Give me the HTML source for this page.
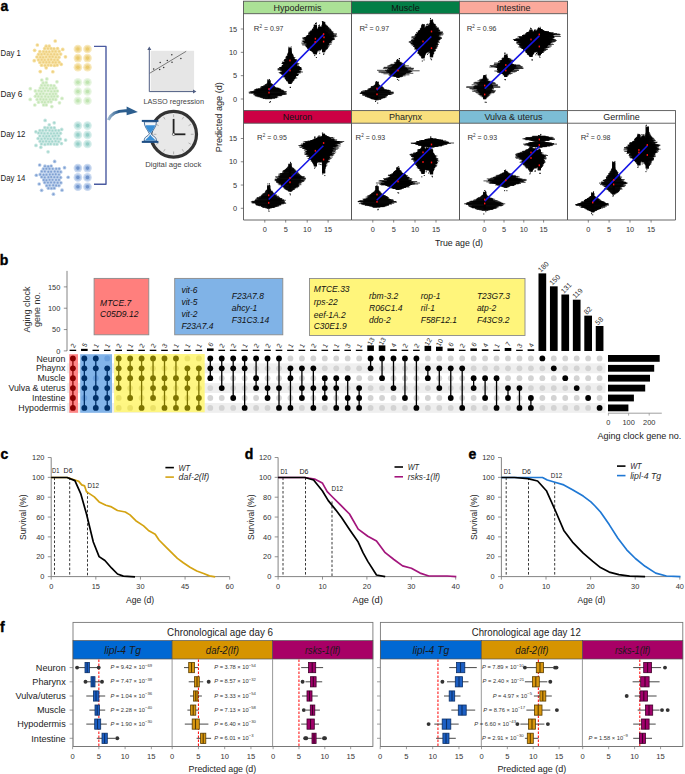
<!DOCTYPE html>
<html><head><meta charset="utf-8"><title>Figure</title>
<style>
html,body{margin:0;padding:0;background:#fff;}
body{width:685px;height:774px;overflow:hidden;}
svg{display:block;font-family:"Liberation Sans",sans-serif;}
</style></head><body>
<svg width="685" height="774" viewBox="0 0 685 774">
<rect x="0" y="0" width="685" height="774" fill="#fff"/>
<text x="0.4" y="11.2" font-size="14" fill="#000" font-weight="bold" stroke="#000" stroke-width="0.4">a</text>
<text x="0.6" y="56" font-size="8.6" fill="#222" textLength="20.2" lengthAdjust="spacingAndGlyphs">Day 1</text>
<text x="0.6" y="97.4" font-size="8.6" fill="#222" textLength="21.8" lengthAdjust="spacingAndGlyphs">Day 6</text>
<text x="0.6" y="137.3" font-size="8.6" fill="#222" textLength="24.8" lengthAdjust="spacingAndGlyphs">Day 12</text>
<text x="0.6" y="180.6" font-size="8.6" fill="#222" textLength="24.8" lengthAdjust="spacingAndGlyphs">Day 14</text>
<g fill="#f6e1a2"><circle cx="46.14" cy="46.13" r="1.85"/><circle cx="49.24" cy="46.06" r="1.85"/><circle cx="44.69" cy="48.51" r="1.85"/><circle cx="47.93" cy="48.5" r="1.85"/><circle cx="51.04" cy="48.52" r="1.85"/><circle cx="53.98" cy="48.73" r="1.85"/><circle cx="57.57" cy="48.55" r="1.85"/><circle cx="39.88" cy="51.6" r="1.85"/><circle cx="43.47" cy="51.57" r="1.85"/><circle cx="46.29" cy="51.8" r="1.85"/><circle cx="49.23" cy="51.73" r="1.85"/><circle cx="52.52" cy="51.31" r="1.85"/><circle cx="55.57" cy="51.4" r="1.85"/><circle cx="59.14" cy="51.33" r="1.85"/><circle cx="38.52" cy="54.34" r="1.85"/><circle cx="41.55" cy="54.29" r="1.85"/><circle cx="44.51" cy="54" r="1.85"/><circle cx="47.75" cy="54.37" r="1.85"/><circle cx="51.03" cy="54.15" r="1.85"/><circle cx="54.28" cy="54.23" r="1.85"/><circle cx="57.25" cy="54.44" r="1.85"/><circle cx="60.64" cy="54.11" r="1.85"/><circle cx="36.94" cy="57.02" r="1.85"/><circle cx="40.28" cy="57.14" r="1.85"/><circle cx="43.07" cy="57.29" r="1.85"/><circle cx="46.12" cy="56.95" r="1.85"/><circle cx="49.65" cy="56.79" r="1.85"/><circle cx="52.64" cy="56.72" r="1.85"/><circle cx="55.9" cy="57.16" r="1.85"/><circle cx="58.99" cy="57.23" r="1.85"/><circle cx="38.36" cy="59.86" r="1.85"/><circle cx="41.68" cy="59.79" r="1.85"/><circle cx="44.75" cy="59.94" r="1.85"/><circle cx="48.19" cy="59.72" r="1.85"/><circle cx="51.17" cy="59.48" r="1.85"/><circle cx="54.35" cy="59.83" r="1.85"/><circle cx="57.67" cy="59.93" r="1.85"/><circle cx="39.92" cy="62.41" r="1.85"/><circle cx="43.3" cy="62.19" r="1.85"/><circle cx="46.33" cy="62.28" r="1.85"/><circle cx="49.27" cy="62.22" r="1.85"/><circle cx="52.81" cy="62.26" r="1.85"/><circle cx="55.65" cy="62.42" r="1.85"/><circle cx="59.17" cy="62.23" r="1.85"/><circle cx="41.59" cy="65.25" r="1.85"/><circle cx="45.01" cy="65.41" r="1.85"/><circle cx="48.14" cy="65.09" r="1.85"/><circle cx="51.02" cy="65.14" r="1.85"/><circle cx="54.46" cy="65.5" r="1.85"/><circle cx="57.17" cy="65.03" r="1.85"/><circle cx="46.19" cy="67.8" r="1.85"/><circle cx="65.45" cy="56.86" r="1.85"/><circle cx="61.22" cy="64.28" r="1.85"/><circle cx="52.85" cy="71.76" r="1.85"/><circle cx="40.26" cy="71.62" r="1.85"/><circle cx="34.25" cy="60.65" r="1.85"/><circle cx="34.64" cy="50.37" r="1.85"/><circle cx="37.34" cy="44.98" r="1.85"/><circle cx="55.21" cy="40.98" r="1.85"/><circle cx="62.72" cy="49.44" r="1.85"/></g>
<g fill="#eecf80"><circle cx="46.14" cy="46.13" r="0.93"/><circle cx="49.24" cy="46.06" r="0.93"/><circle cx="44.69" cy="48.51" r="0.93"/><circle cx="47.93" cy="48.5" r="0.93"/><circle cx="51.04" cy="48.52" r="0.93"/><circle cx="53.98" cy="48.73" r="0.93"/><circle cx="57.57" cy="48.55" r="0.93"/><circle cx="39.88" cy="51.6" r="0.93"/><circle cx="43.47" cy="51.57" r="0.93"/><circle cx="46.29" cy="51.8" r="0.93"/><circle cx="49.23" cy="51.73" r="0.93"/><circle cx="52.52" cy="51.31" r="0.93"/><circle cx="55.57" cy="51.4" r="0.93"/><circle cx="59.14" cy="51.33" r="0.93"/><circle cx="38.52" cy="54.34" r="0.93"/><circle cx="41.55" cy="54.29" r="0.93"/><circle cx="44.51" cy="54" r="0.93"/><circle cx="47.75" cy="54.37" r="0.93"/><circle cx="51.03" cy="54.15" r="0.93"/><circle cx="54.28" cy="54.23" r="0.93"/><circle cx="57.25" cy="54.44" r="0.93"/><circle cx="60.64" cy="54.11" r="0.93"/><circle cx="36.94" cy="57.02" r="0.93"/><circle cx="40.28" cy="57.14" r="0.93"/><circle cx="43.07" cy="57.29" r="0.93"/><circle cx="46.12" cy="56.95" r="0.93"/><circle cx="49.65" cy="56.79" r="0.93"/><circle cx="52.64" cy="56.72" r="0.93"/><circle cx="55.9" cy="57.16" r="0.93"/><circle cx="58.99" cy="57.23" r="0.93"/><circle cx="38.36" cy="59.86" r="0.93"/><circle cx="41.68" cy="59.79" r="0.93"/><circle cx="44.75" cy="59.94" r="0.93"/><circle cx="48.19" cy="59.72" r="0.93"/><circle cx="51.17" cy="59.48" r="0.93"/><circle cx="54.35" cy="59.83" r="0.93"/><circle cx="57.67" cy="59.93" r="0.93"/><circle cx="39.92" cy="62.41" r="0.93"/><circle cx="43.3" cy="62.19" r="0.93"/><circle cx="46.33" cy="62.28" r="0.93"/><circle cx="49.27" cy="62.22" r="0.93"/><circle cx="52.81" cy="62.26" r="0.93"/><circle cx="55.65" cy="62.42" r="0.93"/><circle cx="59.17" cy="62.23" r="0.93"/><circle cx="41.59" cy="65.25" r="0.93"/><circle cx="45.01" cy="65.41" r="0.93"/><circle cx="48.14" cy="65.09" r="0.93"/><circle cx="51.02" cy="65.14" r="0.93"/><circle cx="54.46" cy="65.5" r="0.93"/><circle cx="57.17" cy="65.03" r="0.93"/><circle cx="46.19" cy="67.8" r="0.93"/><circle cx="65.45" cy="56.86" r="0.93"/><circle cx="61.22" cy="64.28" r="0.93"/><circle cx="52.85" cy="71.76" r="0.93"/><circle cx="40.26" cy="71.62" r="0.93"/><circle cx="34.25" cy="60.65" r="0.93"/><circle cx="34.64" cy="50.37" r="0.93"/><circle cx="37.34" cy="44.98" r="0.93"/><circle cx="55.21" cy="40.98" r="0.93"/><circle cx="62.72" cy="49.44" r="0.93"/></g>
<g fill="#dcf0d2"><circle cx="43.11" cy="82.92" r="1.85"/><circle cx="46.24" cy="82.58" r="1.85"/><circle cx="41.6" cy="85.38" r="1.85"/><circle cx="44.83" cy="85.31" r="1.85"/><circle cx="47.78" cy="85.37" r="1.85"/><circle cx="50.99" cy="85.5" r="1.85"/><circle cx="54.09" cy="85.8" r="1.85"/><circle cx="40.27" cy="88.11" r="1.85"/><circle cx="43.2" cy="88.23" r="1.85"/><circle cx="46.42" cy="88.09" r="1.85"/><circle cx="49.86" cy="88.61" r="1.85"/><circle cx="52.78" cy="88.31" r="1.85"/><circle cx="55.7" cy="88.08" r="1.85"/><circle cx="35.38" cy="90.92" r="1.85"/><circle cx="38.82" cy="90.86" r="1.85"/><circle cx="41.49" cy="91.33" r="1.85"/><circle cx="44.94" cy="90.85" r="1.85"/><circle cx="48.1" cy="90.78" r="1.85"/><circle cx="51.24" cy="91.35" r="1.85"/><circle cx="54.59" cy="91.18" r="1.85"/><circle cx="57.38" cy="90.98" r="1.85"/><circle cx="36.85" cy="93.96" r="1.85"/><circle cx="40.22" cy="93.97" r="1.85"/><circle cx="43.25" cy="93.63" r="1.85"/><circle cx="46.69" cy="94.09" r="1.85"/><circle cx="49.86" cy="93.98" r="1.85"/><circle cx="52.99" cy="93.94" r="1.85"/><circle cx="55.79" cy="93.81" r="1.85"/><circle cx="35.39" cy="96.26" r="1.85"/><circle cx="38.34" cy="96.41" r="1.85"/><circle cx="41.63" cy="96.66" r="1.85"/><circle cx="45.2" cy="96.51" r="1.85"/><circle cx="48.34" cy="96.83" r="1.85"/><circle cx="51.5" cy="96.46" r="1.85"/><circle cx="54.21" cy="96.38" r="1.85"/><circle cx="57.34" cy="96.36" r="1.85"/><circle cx="37.12" cy="99.52" r="1.85"/><circle cx="40.4" cy="99.27" r="1.85"/><circle cx="43.44" cy="99.46" r="1.85"/><circle cx="46.25" cy="99.38" r="1.85"/><circle cx="49.9" cy="99.45" r="1.85"/><circle cx="52.95" cy="99.27" r="1.85"/><circle cx="55.76" cy="99.45" r="1.85"/><circle cx="38.52" cy="102.2" r="1.85"/><circle cx="42.06" cy="101.96" r="1.85"/><circle cx="44.87" cy="102.29" r="1.85"/><circle cx="48.21" cy="101.82" r="1.85"/><circle cx="51" cy="101.81" r="1.85"/><circle cx="43.59" cy="104.95" r="1.85"/><circle cx="46.29" cy="104.96" r="1.85"/><circle cx="62.03" cy="98.4" r="1.85"/><circle cx="59.47" cy="102.83" r="1.85"/><circle cx="51.83" cy="106.56" r="1.85"/><circle cx="34.83" cy="105" r="1.85"/><circle cx="30.23" cy="99.43" r="1.85"/><circle cx="30.31" cy="88.63" r="1.85"/><circle cx="41.81" cy="80.02" r="1.85"/><circle cx="46.88" cy="78.95" r="1.85"/><circle cx="56.97" cy="81.78" r="1.85"/></g>
<g fill="#c4e6b6"><circle cx="43.11" cy="82.92" r="0.93"/><circle cx="46.24" cy="82.58" r="0.93"/><circle cx="41.6" cy="85.38" r="0.93"/><circle cx="44.83" cy="85.31" r="0.93"/><circle cx="47.78" cy="85.37" r="0.93"/><circle cx="50.99" cy="85.5" r="0.93"/><circle cx="54.09" cy="85.8" r="0.93"/><circle cx="40.27" cy="88.11" r="0.93"/><circle cx="43.2" cy="88.23" r="0.93"/><circle cx="46.42" cy="88.09" r="0.93"/><circle cx="49.86" cy="88.61" r="0.93"/><circle cx="52.78" cy="88.31" r="0.93"/><circle cx="55.7" cy="88.08" r="0.93"/><circle cx="35.38" cy="90.92" r="0.93"/><circle cx="38.82" cy="90.86" r="0.93"/><circle cx="41.49" cy="91.33" r="0.93"/><circle cx="44.94" cy="90.85" r="0.93"/><circle cx="48.1" cy="90.78" r="0.93"/><circle cx="51.24" cy="91.35" r="0.93"/><circle cx="54.59" cy="91.18" r="0.93"/><circle cx="57.38" cy="90.98" r="0.93"/><circle cx="36.85" cy="93.96" r="0.93"/><circle cx="40.22" cy="93.97" r="0.93"/><circle cx="43.25" cy="93.63" r="0.93"/><circle cx="46.69" cy="94.09" r="0.93"/><circle cx="49.86" cy="93.98" r="0.93"/><circle cx="52.99" cy="93.94" r="0.93"/><circle cx="55.79" cy="93.81" r="0.93"/><circle cx="35.39" cy="96.26" r="0.93"/><circle cx="38.34" cy="96.41" r="0.93"/><circle cx="41.63" cy="96.66" r="0.93"/><circle cx="45.2" cy="96.51" r="0.93"/><circle cx="48.34" cy="96.83" r="0.93"/><circle cx="51.5" cy="96.46" r="0.93"/><circle cx="54.21" cy="96.38" r="0.93"/><circle cx="57.34" cy="96.36" r="0.93"/><circle cx="37.12" cy="99.52" r="0.93"/><circle cx="40.4" cy="99.27" r="0.93"/><circle cx="43.44" cy="99.46" r="0.93"/><circle cx="46.25" cy="99.38" r="0.93"/><circle cx="49.9" cy="99.45" r="0.93"/><circle cx="52.95" cy="99.27" r="0.93"/><circle cx="55.76" cy="99.45" r="0.93"/><circle cx="38.52" cy="102.2" r="0.93"/><circle cx="42.06" cy="101.96" r="0.93"/><circle cx="44.87" cy="102.29" r="0.93"/><circle cx="48.21" cy="101.82" r="0.93"/><circle cx="51" cy="101.81" r="0.93"/><circle cx="43.59" cy="104.95" r="0.93"/><circle cx="46.29" cy="104.96" r="0.93"/><circle cx="62.03" cy="98.4" r="0.93"/><circle cx="59.47" cy="102.83" r="0.93"/><circle cx="51.83" cy="106.56" r="0.93"/><circle cx="34.83" cy="105" r="0.93"/><circle cx="30.23" cy="99.43" r="0.93"/><circle cx="30.31" cy="88.63" r="0.93"/><circle cx="41.81" cy="80.02" r="0.93"/><circle cx="46.88" cy="78.95" r="0.93"/><circle cx="56.97" cy="81.78" r="0.93"/></g>
<g fill="#c9e7e2"><circle cx="49.25" cy="124.82" r="1.85"/><circle cx="44.82" cy="127.69" r="1.85"/><circle cx="47.7" cy="127.83" r="1.85"/><circle cx="51.12" cy="127.73" r="1.85"/><circle cx="54.28" cy="127.78" r="1.85"/><circle cx="39.87" cy="130.53" r="1.85"/><circle cx="42.71" cy="130.48" r="1.85"/><circle cx="45.96" cy="130.22" r="1.85"/><circle cx="49.48" cy="130.32" r="1.85"/><circle cx="52.43" cy="130.65" r="1.85"/><circle cx="55.63" cy="130.41" r="1.85"/><circle cx="58.76" cy="130.55" r="1.85"/><circle cx="38.45" cy="133.02" r="1.85"/><circle cx="41.46" cy="133.11" r="1.85"/><circle cx="44.44" cy="133.42" r="1.85"/><circle cx="47.73" cy="133.3" r="1.85"/><circle cx="51.03" cy="133.51" r="1.85"/><circle cx="53.99" cy="133.33" r="1.85"/><circle cx="57.18" cy="133.27" r="1.85"/><circle cx="60.44" cy="133.23" r="1.85"/><circle cx="39.87" cy="135.99" r="1.85"/><circle cx="43.26" cy="136.12" r="1.85"/><circle cx="46.38" cy="136.27" r="1.85"/><circle cx="49.16" cy="136.04" r="1.85"/><circle cx="52.72" cy="136.2" r="1.85"/><circle cx="55.38" cy="135.77" r="1.85"/><circle cx="58.72" cy="135.74" r="1.85"/><circle cx="38.12" cy="138.48" r="1.85"/><circle cx="41.53" cy="138.91" r="1.85"/><circle cx="44.81" cy="138.53" r="1.85"/><circle cx="47.85" cy="138.84" r="1.85"/><circle cx="50.66" cy="138.97" r="1.85"/><circle cx="54.31" cy="138.57" r="1.85"/><circle cx="57.45" cy="138.68" r="1.85"/><circle cx="60.32" cy="139.03" r="1.85"/><circle cx="40.05" cy="141.28" r="1.85"/><circle cx="42.96" cy="141.49" r="1.85"/><circle cx="46.05" cy="141.3" r="1.85"/><circle cx="49.19" cy="141.61" r="1.85"/><circle cx="52.16" cy="141.51" r="1.85"/><circle cx="55.56" cy="141.19" r="1.85"/><circle cx="58.65" cy="141.56" r="1.85"/><circle cx="41.43" cy="143.96" r="1.85"/><circle cx="44.87" cy="144.39" r="1.85"/><circle cx="48.01" cy="143.98" r="1.85"/><circle cx="50.73" cy="143.95" r="1.85"/><circle cx="54.19" cy="144.08" r="1.85"/><circle cx="56.95" cy="144.17" r="1.85"/><circle cx="65.59" cy="140.1" r="1.85"/><circle cx="61.49" cy="143.53" r="1.85"/><circle cx="48.08" cy="151.83" r="1.85"/><circle cx="40.83" cy="147.28" r="1.85"/><circle cx="35.97" cy="145.41" r="1.85"/><circle cx="35.9" cy="131.79" r="1.85"/><circle cx="45.15" cy="120.43" r="1.85"/><circle cx="54.2" cy="122.8" r="1.85"/><circle cx="61.71" cy="129.47" r="1.85"/></g>
<g fill="#a2d6cd"><circle cx="49.25" cy="124.82" r="0.93"/><circle cx="44.82" cy="127.69" r="0.93"/><circle cx="47.7" cy="127.83" r="0.93"/><circle cx="51.12" cy="127.73" r="0.93"/><circle cx="54.28" cy="127.78" r="0.93"/><circle cx="39.87" cy="130.53" r="0.93"/><circle cx="42.71" cy="130.48" r="0.93"/><circle cx="45.96" cy="130.22" r="0.93"/><circle cx="49.48" cy="130.32" r="0.93"/><circle cx="52.43" cy="130.65" r="0.93"/><circle cx="55.63" cy="130.41" r="0.93"/><circle cx="58.76" cy="130.55" r="0.93"/><circle cx="38.45" cy="133.02" r="0.93"/><circle cx="41.46" cy="133.11" r="0.93"/><circle cx="44.44" cy="133.42" r="0.93"/><circle cx="47.73" cy="133.3" r="0.93"/><circle cx="51.03" cy="133.51" r="0.93"/><circle cx="53.99" cy="133.33" r="0.93"/><circle cx="57.18" cy="133.27" r="0.93"/><circle cx="60.44" cy="133.23" r="0.93"/><circle cx="39.87" cy="135.99" r="0.93"/><circle cx="43.26" cy="136.12" r="0.93"/><circle cx="46.38" cy="136.27" r="0.93"/><circle cx="49.16" cy="136.04" r="0.93"/><circle cx="52.72" cy="136.2" r="0.93"/><circle cx="55.38" cy="135.77" r="0.93"/><circle cx="58.72" cy="135.74" r="0.93"/><circle cx="38.12" cy="138.48" r="0.93"/><circle cx="41.53" cy="138.91" r="0.93"/><circle cx="44.81" cy="138.53" r="0.93"/><circle cx="47.85" cy="138.84" r="0.93"/><circle cx="50.66" cy="138.97" r="0.93"/><circle cx="54.31" cy="138.57" r="0.93"/><circle cx="57.45" cy="138.68" r="0.93"/><circle cx="60.32" cy="139.03" r="0.93"/><circle cx="40.05" cy="141.28" r="0.93"/><circle cx="42.96" cy="141.49" r="0.93"/><circle cx="46.05" cy="141.3" r="0.93"/><circle cx="49.19" cy="141.61" r="0.93"/><circle cx="52.16" cy="141.51" r="0.93"/><circle cx="55.56" cy="141.19" r="0.93"/><circle cx="58.65" cy="141.56" r="0.93"/><circle cx="41.43" cy="143.96" r="0.93"/><circle cx="44.87" cy="144.39" r="0.93"/><circle cx="48.01" cy="143.98" r="0.93"/><circle cx="50.73" cy="143.95" r="0.93"/><circle cx="54.19" cy="144.08" r="0.93"/><circle cx="56.95" cy="144.17" r="0.93"/><circle cx="65.59" cy="140.1" r="0.93"/><circle cx="61.49" cy="143.53" r="0.93"/><circle cx="48.08" cy="151.83" r="0.93"/><circle cx="40.83" cy="147.28" r="0.93"/><circle cx="35.97" cy="145.41" r="0.93"/><circle cx="35.9" cy="131.79" r="0.93"/><circle cx="45.15" cy="120.43" r="0.93"/><circle cx="54.2" cy="122.8" r="0.93"/><circle cx="61.71" cy="129.47" r="0.93"/></g>
<g fill="#b7cce9"><circle cx="44.97" cy="166.14" r="1.85"/><circle cx="48.18" cy="166.49" r="1.85"/><circle cx="51.16" cy="166.02" r="1.85"/><circle cx="43.44" cy="168.82" r="1.85"/><circle cx="46.34" cy="168.78" r="1.85"/><circle cx="49.46" cy="168.8" r="1.85"/><circle cx="52.76" cy="168.86" r="1.85"/><circle cx="56.18" cy="168.85" r="1.85"/><circle cx="59.18" cy="168.79" r="1.85"/><circle cx="41.76" cy="171.43" r="1.85"/><circle cx="44.85" cy="171.43" r="1.85"/><circle cx="48.29" cy="171.75" r="1.85"/><circle cx="51.11" cy="171.7" r="1.85"/><circle cx="54.71" cy="171.48" r="1.85"/><circle cx="57.79" cy="171.68" r="1.85"/><circle cx="60.75" cy="171.92" r="1.85"/><circle cx="40.21" cy="174.46" r="1.85"/><circle cx="43.54" cy="174.75" r="1.85"/><circle cx="46.48" cy="174.66" r="1.85"/><circle cx="49.85" cy="174.54" r="1.85"/><circle cx="52.82" cy="174.37" r="1.85"/><circle cx="55.76" cy="174.24" r="1.85"/><circle cx="58.92" cy="174.6" r="1.85"/><circle cx="41.7" cy="177" r="1.85"/><circle cx="44.75" cy="177.4" r="1.85"/><circle cx="48.37" cy="177.3" r="1.85"/><circle cx="51.17" cy="177.05" r="1.85"/><circle cx="54.33" cy="177.18" r="1.85"/><circle cx="57.39" cy="177.17" r="1.85"/><circle cx="60.61" cy="177.48" r="1.85"/><circle cx="43.71" cy="179.97" r="1.85"/><circle cx="46.42" cy="180.22" r="1.85"/><circle cx="49.61" cy="179.85" r="1.85"/><circle cx="52.58" cy="179.87" r="1.85"/><circle cx="56.01" cy="179.94" r="1.85"/><circle cx="59" cy="179.94" r="1.85"/><circle cx="44.7" cy="182.54" r="1.85"/><circle cx="47.9" cy="182.62" r="1.85"/><circle cx="51.03" cy="182.39" r="1.85"/><circle cx="54.33" cy="182.52" r="1.85"/><circle cx="57.65" cy="182.7" r="1.85"/><circle cx="60.9" cy="182.78" r="1.85"/><circle cx="46.7" cy="185.65" r="1.85"/><circle cx="49.66" cy="185.32" r="1.85"/><circle cx="53.17" cy="185.21" r="1.85"/><circle cx="56.16" cy="185.51" r="1.85"/><circle cx="58.9" cy="185.62" r="1.85"/><circle cx="48.39" cy="188.24" r="1.85"/><circle cx="51.44" cy="188.35" r="1.85"/><circle cx="54.23" cy="188.18" r="1.85"/><circle cx="68.16" cy="177.24" r="1.85"/><circle cx="62.01" cy="190.18" r="1.85"/><circle cx="53.41" cy="194.14" r="1.85"/><circle cx="41.63" cy="190.37" r="1.85"/><circle cx="39.18" cy="183.99" r="1.85"/><circle cx="36.32" cy="175.26" r="1.85"/><circle cx="39.68" cy="164.99" r="1.85"/><circle cx="54.65" cy="161.46" r="1.85"/><circle cx="64.53" cy="167.7" r="1.85"/></g>
<g fill="#7e9fd2"><circle cx="44.97" cy="166.14" r="0.93"/><circle cx="48.18" cy="166.49" r="0.93"/><circle cx="51.16" cy="166.02" r="0.93"/><circle cx="43.44" cy="168.82" r="0.93"/><circle cx="46.34" cy="168.78" r="0.93"/><circle cx="49.46" cy="168.8" r="0.93"/><circle cx="52.76" cy="168.86" r="0.93"/><circle cx="56.18" cy="168.85" r="0.93"/><circle cx="59.18" cy="168.79" r="0.93"/><circle cx="41.76" cy="171.43" r="0.93"/><circle cx="44.85" cy="171.43" r="0.93"/><circle cx="48.29" cy="171.75" r="0.93"/><circle cx="51.11" cy="171.7" r="0.93"/><circle cx="54.71" cy="171.48" r="0.93"/><circle cx="57.79" cy="171.68" r="0.93"/><circle cx="60.75" cy="171.92" r="0.93"/><circle cx="40.21" cy="174.46" r="0.93"/><circle cx="43.54" cy="174.75" r="0.93"/><circle cx="46.48" cy="174.66" r="0.93"/><circle cx="49.85" cy="174.54" r="0.93"/><circle cx="52.82" cy="174.37" r="0.93"/><circle cx="55.76" cy="174.24" r="0.93"/><circle cx="58.92" cy="174.6" r="0.93"/><circle cx="41.7" cy="177" r="0.93"/><circle cx="44.75" cy="177.4" r="0.93"/><circle cx="48.37" cy="177.3" r="0.93"/><circle cx="51.17" cy="177.05" r="0.93"/><circle cx="54.33" cy="177.18" r="0.93"/><circle cx="57.39" cy="177.17" r="0.93"/><circle cx="60.61" cy="177.48" r="0.93"/><circle cx="43.71" cy="179.97" r="0.93"/><circle cx="46.42" cy="180.22" r="0.93"/><circle cx="49.61" cy="179.85" r="0.93"/><circle cx="52.58" cy="179.87" r="0.93"/><circle cx="56.01" cy="179.94" r="0.93"/><circle cx="59" cy="179.94" r="0.93"/><circle cx="44.7" cy="182.54" r="0.93"/><circle cx="47.9" cy="182.62" r="0.93"/><circle cx="51.03" cy="182.39" r="0.93"/><circle cx="54.33" cy="182.52" r="0.93"/><circle cx="57.65" cy="182.7" r="0.93"/><circle cx="60.9" cy="182.78" r="0.93"/><circle cx="46.7" cy="185.65" r="0.93"/><circle cx="49.66" cy="185.32" r="0.93"/><circle cx="53.17" cy="185.21" r="0.93"/><circle cx="56.16" cy="185.51" r="0.93"/><circle cx="58.9" cy="185.62" r="0.93"/><circle cx="48.39" cy="188.24" r="0.93"/><circle cx="51.44" cy="188.35" r="0.93"/><circle cx="54.23" cy="188.18" r="0.93"/><circle cx="68.16" cy="177.24" r="0.93"/><circle cx="62.01" cy="190.18" r="0.93"/><circle cx="53.41" cy="194.14" r="0.93"/><circle cx="41.63" cy="190.37" r="0.93"/><circle cx="39.18" cy="183.99" r="0.93"/><circle cx="36.32" cy="175.26" r="0.93"/><circle cx="39.68" cy="164.99" r="0.93"/><circle cx="54.65" cy="161.46" r="0.93"/><circle cx="64.53" cy="167.7" r="0.93"/></g>
<circle cx="77.9" cy="49" r="4.3" fill="#f8e9bd"/>
<circle cx="77.9" cy="49" r="3" fill="#f1da98"/>
<circle cx="77.9" cy="49" r="1.8" fill="#eacb6e"/>
<circle cx="87.5" cy="49" r="4.3" fill="#f8e9bd"/>
<circle cx="87.5" cy="49" r="3" fill="#f1da98"/>
<circle cx="87.5" cy="49" r="1.8" fill="#eacb6e"/>
<circle cx="77.9" cy="58.1" r="4.3" fill="#f8e9bd"/>
<circle cx="77.9" cy="58.1" r="3" fill="#f1da98"/>
<circle cx="77.9" cy="58.1" r="1.8" fill="#eacb6e"/>
<circle cx="87.5" cy="58.1" r="4.3" fill="#f8e9bd"/>
<circle cx="87.5" cy="58.1" r="3" fill="#f1da98"/>
<circle cx="87.5" cy="58.1" r="1.8" fill="#eacb6e"/>
<circle cx="77.9" cy="67.3" r="4.3" fill="#f8e9bd"/>
<circle cx="77.9" cy="67.3" r="3" fill="#f1da98"/>
<circle cx="77.9" cy="67.3" r="1.8" fill="#eacb6e"/>
<circle cx="87.5" cy="67.3" r="4.3" fill="#f8e9bd"/>
<circle cx="87.5" cy="67.3" r="3" fill="#f1da98"/>
<circle cx="87.5" cy="67.3" r="1.8" fill="#eacb6e"/>
<circle cx="77.9" cy="82.2" r="4.3" fill="#e9f6e3"/>
<circle cx="77.9" cy="82.2" r="3" fill="#d8efcf"/>
<circle cx="77.9" cy="82.2" r="1.8" fill="#bfe4b0"/>
<circle cx="87.5" cy="82.2" r="4.3" fill="#e9f6e3"/>
<circle cx="87.5" cy="82.2" r="3" fill="#d8efcf"/>
<circle cx="87.5" cy="82.2" r="1.8" fill="#bfe4b0"/>
<circle cx="77.9" cy="91.5" r="4.3" fill="#e9f6e3"/>
<circle cx="77.9" cy="91.5" r="3" fill="#d8efcf"/>
<circle cx="77.9" cy="91.5" r="1.8" fill="#bfe4b0"/>
<circle cx="87.5" cy="91.5" r="4.3" fill="#e9f6e3"/>
<circle cx="87.5" cy="91.5" r="3" fill="#d8efcf"/>
<circle cx="87.5" cy="91.5" r="1.8" fill="#bfe4b0"/>
<circle cx="77.9" cy="100.7" r="4.3" fill="#e9f6e3"/>
<circle cx="77.9" cy="100.7" r="3" fill="#d8efcf"/>
<circle cx="77.9" cy="100.7" r="1.8" fill="#bfe4b0"/>
<circle cx="87.5" cy="100.7" r="4.3" fill="#e9f6e3"/>
<circle cx="87.5" cy="100.7" r="3" fill="#d8efcf"/>
<circle cx="87.5" cy="100.7" r="1.8" fill="#bfe4b0"/>
<circle cx="77.9" cy="125.6" r="4.3" fill="#d6eeeb"/>
<circle cx="77.9" cy="125.6" r="3" fill="#bde2de"/>
<circle cx="77.9" cy="125.6" r="1.8" fill="#94cfc7"/>
<circle cx="87.5" cy="125.6" r="4.3" fill="#d6eeeb"/>
<circle cx="87.5" cy="125.6" r="3" fill="#bde2de"/>
<circle cx="87.5" cy="125.6" r="1.8" fill="#94cfc7"/>
<circle cx="77.9" cy="134.9" r="4.3" fill="#d6eeeb"/>
<circle cx="77.9" cy="134.9" r="3" fill="#bde2de"/>
<circle cx="77.9" cy="134.9" r="1.8" fill="#94cfc7"/>
<circle cx="87.5" cy="134.9" r="4.3" fill="#d6eeeb"/>
<circle cx="87.5" cy="134.9" r="3" fill="#bde2de"/>
<circle cx="87.5" cy="134.9" r="1.8" fill="#94cfc7"/>
<circle cx="77.9" cy="144" r="4.3" fill="#d6eeeb"/>
<circle cx="77.9" cy="144" r="3" fill="#bde2de"/>
<circle cx="77.9" cy="144" r="1.8" fill="#94cfc7"/>
<circle cx="87.5" cy="144" r="4.3" fill="#d6eeeb"/>
<circle cx="87.5" cy="144" r="3" fill="#bde2de"/>
<circle cx="87.5" cy="144" r="1.8" fill="#94cfc7"/>
<circle cx="77.9" cy="168.1" r="4.3" fill="#cbdaf0"/>
<circle cx="77.9" cy="168.1" r="3" fill="#aac2e6"/>
<circle cx="77.9" cy="168.1" r="1.8" fill="#7094cc"/>
<circle cx="87.5" cy="168.1" r="4.3" fill="#cbdaf0"/>
<circle cx="87.5" cy="168.1" r="3" fill="#aac2e6"/>
<circle cx="87.5" cy="168.1" r="1.8" fill="#7094cc"/>
<circle cx="77.9" cy="177.4" r="4.3" fill="#cbdaf0"/>
<circle cx="77.9" cy="177.4" r="3" fill="#aac2e6"/>
<circle cx="77.9" cy="177.4" r="1.8" fill="#7094cc"/>
<circle cx="87.5" cy="177.4" r="4.3" fill="#cbdaf0"/>
<circle cx="87.5" cy="177.4" r="3" fill="#aac2e6"/>
<circle cx="87.5" cy="177.4" r="1.8" fill="#7094cc"/>
<circle cx="77.9" cy="186.8" r="4.3" fill="#cbdaf0"/>
<circle cx="77.9" cy="186.8" r="3" fill="#aac2e6"/>
<circle cx="77.9" cy="186.8" r="1.8" fill="#7094cc"/>
<circle cx="87.5" cy="186.8" r="4.3" fill="#cbdaf0"/>
<circle cx="87.5" cy="186.8" r="3" fill="#aac2e6"/>
<circle cx="87.5" cy="186.8" r="1.8" fill="#7094cc"/>
<polyline points="94,46.4 106,46.4 106,184.3 94,184.3" fill="none" stroke="#4a5aa0" stroke-width="1.4" stroke-linejoin="round"/>
<defs><linearGradient id="ag" gradientUnits="userSpaceOnUse" x1="107" y1="0" x2="128" y2="0"><stop offset="0" stop-color="#a9c2d9"/><stop offset="0.55" stop-color="#2c5e8e"/></linearGradient></defs>
<path d="M108.3,120 C111.5,112.2 119,110.2 128.5,110.9" fill="none" stroke="url(#ag)" stroke-width="3.1"/>
<path d="M126.6,106.4 L137.9,112.1 L126.6,115.2 Z" fill="#2c5e8e"/>
<rect x="150.7" y="50.8" width="43.4" height="40.7" fill="#e6e6e6"/>
<line x1="149.3" y1="49.5" x2="149.3" y2="91.6" stroke="#4f5d82" stroke-width="1"/>
<line x1="149.3" y1="91.6" x2="193.5" y2="91.6" stroke="#4f5d82" stroke-width="1"/>
<path d="M147.3,50 L149.3,46.6 L151.3,50 Z" fill="#4f5d82"/>
<path d="M193,89.6 L196.4,91.6 L193,93.6 Z" fill="#4f5d82"/>
<line x1="149.8" y1="73.2" x2="186.2" y2="51.3" stroke="#333" stroke-width="0.6"/>
<circle cx="153.7" cy="68.9" r="0.75" fill="#333"/>
<circle cx="159.7" cy="69.4" r="0.75" fill="#333"/>
<circle cx="160.2" cy="62.6" r="0.75" fill="#333"/>
<circle cx="163.7" cy="67.5" r="0.75" fill="#333"/>
<circle cx="167.3" cy="60.4" r="0.75" fill="#333"/>
<circle cx="171.8" cy="54.8" r="0.75" fill="#333"/>
<circle cx="172" cy="62.2" r="0.75" fill="#333"/>
<circle cx="180.9" cy="58.4" r="0.75" fill="#333"/>
<text x="143.4" y="104" font-size="8" fill="#444" textLength="60.6" lengthAdjust="spacingAndGlyphs">LASSO regression</text>
<circle cx="173.6" cy="134.3" r="22.9" fill="#e8e8e8" stroke="#333" stroke-width="3.2"/>
<line x1="190.8" y1="134.3" x2="193.6" y2="134.3" stroke="#9a9a9a" stroke-width="0.7"/>
<line x1="188.5" y1="142.9" x2="190.92" y2="144.3" stroke="#9a9a9a" stroke-width="0.7"/>
<line x1="182.2" y1="149.2" x2="183.6" y2="151.62" stroke="#9a9a9a" stroke-width="0.7"/>
<line x1="173.6" y1="151.5" x2="173.6" y2="154.3" stroke="#9a9a9a" stroke-width="0.7"/>
<line x1="165" y1="149.2" x2="163.6" y2="151.62" stroke="#9a9a9a" stroke-width="0.7"/>
<line x1="158.7" y1="142.9" x2="156.28" y2="144.3" stroke="#9a9a9a" stroke-width="0.7"/>
<line x1="156.4" y1="134.3" x2="153.6" y2="134.3" stroke="#9a9a9a" stroke-width="0.7"/>
<line x1="158.7" y1="125.7" x2="156.28" y2="124.3" stroke="#9a9a9a" stroke-width="0.7"/>
<line x1="165" y1="119.4" x2="163.6" y2="116.98" stroke="#9a9a9a" stroke-width="0.7"/>
<line x1="173.6" y1="117.1" x2="173.6" y2="114.3" stroke="#9a9a9a" stroke-width="0.7"/>
<line x1="182.2" y1="119.4" x2="183.6" y2="116.98" stroke="#9a9a9a" stroke-width="0.7"/>
<line x1="188.5" y1="125.7" x2="190.92" y2="124.3" stroke="#9a9a9a" stroke-width="0.7"/>
<line x1="173.6" y1="134.3" x2="173.6" y2="118.9" stroke="#222" stroke-width="1.8"/>
<line x1="173.6" y1="134.3" x2="185.4" y2="134.3" stroke="#222" stroke-width="1.8"/>
<circle cx="173.6" cy="134.3" r="1.2" fill="#fff" stroke="#222" stroke-width="0.6"/>
<path d="M144.2,121.8 L156.4,121.8 C156.4,127.2 152.8,129.8 151.3,133.6 C152.8,137.2 156.4,135.8 156.4,141 L144.2,141 C144.2,135.8 147.8,137.2 149.3,133.6 C147.8,129.8 144.2,127.2 144.2,121.8 Z" fill="#f2f6fa" stroke="#1e4e84" stroke-width="0.8"/>
<path d="M145.4,125.2 L155.2,125.2 C154.6,128.6 152.2,130.6 150.3,133.2 C148.4,130.6 146,128.6 145.4,125.2 Z" fill="#3a8fd6"/>
<path d="M150.3,134.6 C151.6,137 154.4,138.6 155.4,140.6 L145.2,140.6 C146.2,138.6 149,137 150.3,134.6 Z" fill="#3a8fd6"/>
<rect x="141.8" y="119.9" width="16.6" height="2" fill="#1e4e84"/>
<rect x="141.8" y="140.9" width="16.6" height="2" fill="#1e4e84"/>
<text x="145.2" y="166.8" font-size="8" fill="#444" textLength="56.1" lengthAdjust="spacingAndGlyphs">Digital age clock</text>
<rect x="243.5" y="1.2" width="108" height="12.5" fill="#abe196" stroke="#555" stroke-width="0.9"/>
<text x="297.5" y="10.6" font-size="9" fill="#222" text-anchor="middle">Hypodermis</text>
<rect x="351.5" y="1.2" width="108" height="12.5" fill="#037e46" stroke="#555" stroke-width="0.9"/>
<text x="405.5" y="10.6" font-size="9" fill="#111" text-anchor="middle">Muscle</text>
<rect x="459.5" y="1.2" width="108" height="12.5" fill="#fba99b" stroke="#555" stroke-width="0.9"/>
<text x="513.5" y="10.6" font-size="9" fill="#222" text-anchor="middle">Intestine</text>
<rect x="243.5" y="110.6" width="108" height="12.6" fill="#cc0044" stroke="#555" stroke-width="0.9"/>
<text x="297.5" y="120.1" font-size="9" fill="#111" text-anchor="middle">Neuron</text>
<rect x="351.5" y="110.6" width="108" height="12.6" fill="#f9df7e" stroke="#555" stroke-width="0.9"/>
<text x="405.5" y="120.1" font-size="9" fill="#222" text-anchor="middle">Pharynx</text>
<rect x="459.5" y="110.6" width="108" height="12.6" fill="#7cbdd5" stroke="#555" stroke-width="0.9"/>
<text x="513.5" y="120.1" font-size="9" fill="#222" text-anchor="middle">Vulva &amp; uterus</text>
<rect x="567.5" y="110.6" width="108" height="12.6" fill="#ffffff" stroke="#555" stroke-width="0.9"/>
<text x="621.5" y="120.1" font-size="9" fill="#222" text-anchor="middle">Germline</text>
<path d="M243.5,13.7 V110.6 M351.5,13.7 V110.6" stroke="#555" stroke-width="0.9" fill="none"/>
<path d="M351.5,13.7 V110.6 M459.5,13.7 V110.6" stroke="#555" stroke-width="0.9" fill="none"/>
<path d="M459.5,13.7 V110.6 M567.5,13.7 V110.6" stroke="#555" stroke-width="0.9" fill="none"/>
<path d="M243.5,123.2 V220 H351.5 V123.2" stroke="#555" stroke-width="0.9" fill="none"/>
<path d="M351.5,123.2 V220 H459.5 V123.2" stroke="#555" stroke-width="0.9" fill="none"/>
<path d="M459.5,123.2 V220 H567.5 V123.2" stroke="#555" stroke-width="0.9" fill="none"/>
<path d="M567.5,123.2 V220 H675.5 V123.2" stroke="#555" stroke-width="0.9" fill="none"/>
<line x1="240.8" y1="99" x2="243.5" y2="99" stroke="#555" stroke-width="0.7"/>
<text x="237.2" y="101.6" font-size="7.4" fill="#333" text-anchor="end">0</text>
<line x1="240.8" y1="75.66" x2="243.5" y2="75.66" stroke="#555" stroke-width="0.7"/>
<text x="237.2" y="78.26" font-size="7.4" fill="#333" text-anchor="end">5</text>
<line x1="240.8" y1="52.33" x2="243.5" y2="52.33" stroke="#555" stroke-width="0.7"/>
<text x="237.2" y="54.93" font-size="7.4" fill="#333" text-anchor="end">10</text>
<line x1="240.8" y1="29" x2="243.5" y2="29" stroke="#555" stroke-width="0.7"/>
<text x="237.2" y="31.6" font-size="7.4" fill="#333" text-anchor="end">15</text>
<line x1="240.8" y1="208.3" x2="243.5" y2="208.3" stroke="#555" stroke-width="0.7"/>
<text x="237.2" y="210.9" font-size="7.4" fill="#333" text-anchor="end">0</text>
<line x1="240.8" y1="185.04" x2="243.5" y2="185.04" stroke="#555" stroke-width="0.7"/>
<text x="237.2" y="187.64" font-size="7.4" fill="#333" text-anchor="end">5</text>
<line x1="240.8" y1="161.77" x2="243.5" y2="161.77" stroke="#555" stroke-width="0.7"/>
<text x="237.2" y="164.37" font-size="7.4" fill="#333" text-anchor="end">10</text>
<line x1="240.8" y1="138.51" x2="243.5" y2="138.51" stroke="#555" stroke-width="0.7"/>
<text x="237.2" y="141.11" font-size="7.4" fill="#333" text-anchor="end">15</text>
<line x1="264.8" y1="220" x2="264.8" y2="222.6" stroke="#555" stroke-width="0.7"/>
<text x="264.8" y="232.1" font-size="7.4" fill="#333" text-anchor="middle">0</text>
<line x1="285.7" y1="220" x2="285.7" y2="222.6" stroke="#555" stroke-width="0.7"/>
<text x="285.7" y="232.1" font-size="7.4" fill="#333" text-anchor="middle">5</text>
<line x1="307.2" y1="220" x2="307.2" y2="222.6" stroke="#555" stroke-width="0.7"/>
<text x="307.2" y="232.1" font-size="7.4" fill="#333" text-anchor="middle">10</text>
<line x1="328.1" y1="220" x2="328.1" y2="222.6" stroke="#555" stroke-width="0.7"/>
<text x="328.1" y="232.1" font-size="7.4" fill="#333" text-anchor="middle">15</text>
<line x1="372.8" y1="220" x2="372.8" y2="222.6" stroke="#555" stroke-width="0.7"/>
<text x="372.8" y="232.1" font-size="7.4" fill="#333" text-anchor="middle">0</text>
<line x1="393.7" y1="220" x2="393.7" y2="222.6" stroke="#555" stroke-width="0.7"/>
<text x="393.7" y="232.1" font-size="7.4" fill="#333" text-anchor="middle">5</text>
<line x1="415" y1="220" x2="415" y2="222.6" stroke="#555" stroke-width="0.7"/>
<text x="415" y="232.1" font-size="7.4" fill="#333" text-anchor="middle">10</text>
<line x1="436" y1="220" x2="436" y2="222.6" stroke="#555" stroke-width="0.7"/>
<text x="436" y="232.1" font-size="7.4" fill="#333" text-anchor="middle">15</text>
<line x1="484.2" y1="220" x2="484.2" y2="222.6" stroke="#555" stroke-width="0.7"/>
<text x="484.2" y="232.1" font-size="7.4" fill="#333" text-anchor="middle">0</text>
<line x1="504" y1="220" x2="504" y2="222.6" stroke="#555" stroke-width="0.7"/>
<text x="504" y="232.1" font-size="7.4" fill="#333" text-anchor="middle">5</text>
<line x1="523.8" y1="220" x2="523.8" y2="222.6" stroke="#555" stroke-width="0.7"/>
<text x="523.8" y="232.1" font-size="7.4" fill="#333" text-anchor="middle">10</text>
<line x1="543.6" y1="220" x2="543.6" y2="222.6" stroke="#555" stroke-width="0.7"/>
<text x="543.6" y="232.1" font-size="7.4" fill="#333" text-anchor="middle">15</text>
<line x1="588.3" y1="220" x2="588.3" y2="222.6" stroke="#555" stroke-width="0.7"/>
<text x="588.3" y="232.1" font-size="7.4" fill="#333" text-anchor="middle">0</text>
<line x1="609.1" y1="220" x2="609.1" y2="222.6" stroke="#555" stroke-width="0.7"/>
<text x="609.1" y="232.1" font-size="7.4" fill="#333" text-anchor="middle">5</text>
<line x1="630" y1="220" x2="630" y2="222.6" stroke="#555" stroke-width="0.7"/>
<text x="630" y="232.1" font-size="7.4" fill="#333" text-anchor="middle">10</text>
<line x1="651.1" y1="220" x2="651.1" y2="222.6" stroke="#555" stroke-width="0.7"/>
<text x="651.1" y="232.1" font-size="7.4" fill="#333" text-anchor="middle">15</text>
<text x="435" y="245.6" font-size="9" fill="#222" textLength="48" lengthAdjust="spacingAndGlyphs">True age (d)</text>
<text transform="translate(221.6,117.2) rotate(-90)" text-anchor="middle" font-size="9" fill="#222" textLength="70" lengthAdjust="spacingAndGlyphs">Predicted age (d)</text>
<text x="253.8" y="30.8" font-size="7.8" fill="#333">R<tspan font-size="4.6" dy="-3">2</tspan><tspan dy="3" textLength="21.5" lengthAdjust="spacingAndGlyphs"> = 0.97</tspan></text>
<text x="359.4" y="30.8" font-size="7.8" fill="#333">R<tspan font-size="4.6" dy="-3">2</tspan><tspan dy="3" textLength="21.5" lengthAdjust="spacingAndGlyphs"> = 0.97</tspan></text>
<text x="466.7" y="30.8" font-size="7.8" fill="#333">R<tspan font-size="4.6" dy="-3">2</tspan><tspan dy="3" textLength="21.5" lengthAdjust="spacingAndGlyphs"> = 0.96</tspan></text>
<text x="257.1" y="140.3" font-size="7.8" fill="#333">R<tspan font-size="4.6" dy="-3">2</tspan><tspan dy="3" textLength="21.5" lengthAdjust="spacingAndGlyphs"> = 0.95</tspan></text>
<text x="355.5" y="140.3" font-size="7.8" fill="#333">R<tspan font-size="4.6" dy="-3">2</tspan><tspan dy="3" textLength="21.5" lengthAdjust="spacingAndGlyphs"> = 0.93</tspan></text>
<text x="467.4" y="140.3" font-size="7.8" fill="#333">R<tspan font-size="4.6" dy="-3">2</tspan><tspan dy="3" textLength="21.5" lengthAdjust="spacingAndGlyphs"> = 0.93</tspan></text>
<text x="580.7" y="140.3" font-size="7.8" fill="#333">R<tspan font-size="4.6" dy="-3">2</tspan><tspan dy="3" textLength="21.5" lengthAdjust="spacingAndGlyphs"> = 0.98</tspan></text>
<path d="M267.4,80.7H270.6M267.4,81.2H270.6M267.4,81.7H270.6M267.4,82.2H270.6M267.4,82.7H270.6M267.4,83.2H270.6M266.74,83.7H271.54M266.09,84.2H272.01M264.77,84.7H272.91M265.09,85.2H272.46M263.37,85.7H273.63M264.34,86.2H273.97M261.27,86.7H275.11M262.27,87.2H275.05M261.95,87.7H276.24M260.97,88.2H278.08M260.34,88.7H279.32M256,89.2H280.95M255.37,89.7H281.3M254.62,90.2H280.84M256.29,90.7H283.2M253.95,91.2H284.13M250.25,91.7H286.68M248.75,92.2H283.93M250.6,92.7H285.7M253.8,93.2H286.66M254.26,93.7H282.63M253.57,94.2H285.62M256.44,94.7H280.23M256.5,95.2H282.13M254.68,95.7H281.47M259.48,96.2H277.82M257.45,96.7H276.82M259.71,97.2H276.74M261.25,97.7H276.96M262.94,98.2H275.14M265.17,98.7H272.16" stroke="#000" stroke-width="0.95" fill="none"/>
<path d="M268.82,81.2H269M268.55,81.7H269M267.74,82.7H269M267.23,83.2H269M269,84.2H272.49M269,84.7H272.64M261.5,86.7H269M259.96,87.2H269M260.65,87.7H269M269,88.2H279.4M257.94,88.7H269M269,88.7H279.4M255.69,89.2H269M269,89.2H280.7M254.2,89.7H269M269,89.7H281.37M255.76,90.2H269M269,90.2H283.38M253.44,90.7H269M269,91.2H284.23M252.06,91.7H269M251.15,92.7H269M248.89,93.2H269M269,93.7H285.36M269,94.2H286.81M253.39,94.7H269M269,94.7H283.3M254.74,95.2H269M255.64,96.2H269M269,97.2H278.36M262.67,98.2H269" stroke="#000" stroke-width="0.7" fill="none"/>
<path d="M269,81.7V98.1" stroke="#000" stroke-width="2.24"/>
<g fill="#000"><rect x="268.87" y="79.35" width="1" height="1"/><rect x="268.75" y="78.96" width="1" height="1"/><rect x="267.24" y="79.42" width="1" height="1"/><rect x="269.98" y="101.2" width="1" height="1"/><rect x="269.18" y="101.8" width="1" height="1"/></g>
<path d="M288.4,48.5H291.6M288.4,49H291.6M288.4,49.5H291.6M288.4,50H291.6M288.4,50.5H291.6M288.4,51H291.6M288.4,51.5H291.6M288.4,52H291.6M288.2,52.5H291.8M288.23,53H291.74M287.98,53.5H291.99M287.79,54H291.99M287.46,54.5H292.42M287.34,55H292.34M287.57,55.5H293.24M286.65,56H293.72M286.99,56.5H293.55M286.07,57H293.36M286.1,57.5H294.25M285.26,58H293.65M286.26,58.5H294.49M285.63,59H294.95M284.36,59.5H295.01M284.32,60H295.62M283.72,60.5H296.6M284.82,61H296.76M284.33,61.5H296.22M285.03,62H297.11M283.02,62.5H295.72M282.62,63H297.38M282.06,63.5H296.03M282.59,64H297.47M283.23,64.5H297.33M283.29,65H298.99M281.99,65.5H297.27M281.64,66H296.95M282.02,66.5H299.73M280.83,67H297.52M279.67,67.5H300.75M279.86,68H300.98M280.27,68.5H301.39M281.41,69H300.79M281.64,69.5H301.25M279.8,70H300.36M281.46,70.5H299.16M280.39,71H301.33M281.72,71.5H300.57M281.71,72H298.72M280.13,72.5H297.81M280.65,73H298.48M281.44,73.5H296.88M280.95,74H296.92M282.61,74.5H298.31M282.8,75H297.48M284.01,75.5H298.01M284.56,76H295.64M283.3,76.5H295.99M284.39,77H296.3M285.23,77.5H295.61M285.5,78H294.67M284.72,78.5H295.37M285.78,79H294.79M285.52,79.5H293.84M285.97,80H294.3M286.26,80.5H293.7M287.22,81H293.29M287.98,81.5H292.46M288.16,82H292.52M288.35,82.5H291.71M288.4,83H291.6M288.4,83.5H291.6" stroke="#000" stroke-width="0.95" fill="none"/>
<path d="M290,49H290.22M289.39,50H290M290,50H290.74M288.77,51H290M290,51H291.23M290,51.5H291.55M290,52.5H291.95M287.78,53H290M286.96,54H290M290,54H293.1M290,54.5H293.02M290,55H293.3M286.18,56.5H290M285.6,57H290M290,57.5H295.42M290,59.5H296.66M290,60H297.25M290,61H296.68M281.95,62H290M290,62H297.69M282.09,62.5H290M281.45,63.5H290M290,63.5H299.38M279.03,67.5H290M290,67.5H301.45M290,68H301.17M277.65,68.5H290M290,68.5H301.49M278.38,69H290M277.66,69.5H290M290,69.5H302.14M277.6,70H290M290,72H302.98M278.7,72.5H290M290,72.5H300.39M290,73H300.73M279.6,73.5H290M281.6,74.5H290M290,74.5H298.78M290,75H298.69M282.48,77H290M290,78H297.26M286.51,81H290M290,82H292.8M287.77,82.5H290M290,83H291.52M290,83.5H290.73" stroke="#000" stroke-width="0.7" fill="none"/>
<path d="M290,49.5V82.9" stroke="#000" stroke-width="2.24"/>
<g fill="#000"><rect x="288.3" y="46.75" width="1" height="1"/><rect x="290.72" y="46.5" width="1" height="1"/><rect x="289.52" y="47.1" width="1" height="1"/><rect x="289.7" y="86.82" width="1" height="1"/><rect x="289.91" y="86.89" width="1" height="1"/></g>
<path d="M313.8,25H317M313.8,25.5H317M313.8,26H317M313.8,26.5H317M313.8,27H317M313.8,27.5H317M313.1,28H317M313.34,28.5H317.02M312.1,29H317M311.98,29.5H317.19M311.76,30H317.12M311.98,30.5H317.23M310.93,31H317.77M310.37,31.5H318.04M310.06,32H317.93M309.9,32.5H318.25M309.6,33H318.77M308.36,33.5H319.35M309.64,34H318.91M309.82,34.5H318.62M308.05,35H319.22M307.36,35.5H320.16M307.33,36H320.27M307.74,36.5H320.29M306.21,37H320.99M305.4,37.5H319.62M305.65,38H320.22M305.36,38.5H319.96M306.4,39H320.26M304.44,39.5H321.38M303.25,40H321.28M304.95,40.5H322.65M304.76,41H321.49M302.54,41.5H322.13M304.95,42H322.9M303.81,42.5H322.12M303.63,43H322.52M306.35,43.5H320.58M306.68,44H321.63M306.41,44.5H320.5M304.9,45H320.65M306.29,45.5H320.71M305.31,46H320.23M305.99,46.5H320.71M306.16,47H320.16M307.1,47.5H319.54M307.08,48H319.23M309.34,48.5H319.84M308.64,49H318.48M308.86,49.5H318.08M309.77,50H318.49M310.22,50.5H317.91M311.2,51H317.6M311.9,51.5H317.57M312.54,52H317M312.86,52.5H317M313.2,53H317M313.8,53.5H317M313.8,54H317" stroke="#000" stroke-width="0.95" fill="none"/>
<path d="M314.96,25.5H315.4M315.4,25.5H315.65M314.14,26.5H315.4M315.4,27H316.3M313.09,27.5H315.4M315.4,27.5H316.76M315.4,30.5H318.13M310.04,31H315.4M308.75,32H315.4M308.56,32.5H315.4M315.4,33H319.21M315.4,33.5H319.28M315.4,34H319.97M315.4,35H320.26M306.93,35.5H315.4M305.9,36H315.4M315.4,36H321.29M315.4,36.5H321.24M315.4,37H320.92M304.28,37.5H315.4M315.4,38H321.54M302.99,38.5H315.4M302.53,39H315.4M315.4,39H321.87M315.4,40H322.65M315.4,40.5H322.97M301.69,41H315.4M315.4,41H323.56M315.4,42H323.09M301.32,43H315.4M301.77,44H315.4M302.27,45H315.4M315.4,47.5H321.02M307.16,48H315.4M307.5,48.5H315.4M315.4,48.5H320.27M307.8,49H315.4M308.77,49.5H315.4M315.4,49.5H319.24M309.32,50H315.4M315.4,50H318.88M315.4,52.5H317.5M312.81,53H315.4M315.4,53H316.99M313.7,53.5H315.4M315.4,53.5H316.4" stroke="#000" stroke-width="0.7" fill="none"/>
<path d="M315.4,26V53.4" stroke="#000" stroke-width="2.24"/>
<g fill="#000"><rect x="315" y="23.03" width="1" height="1"/><rect x="315.71" y="22.8" width="1" height="1"/><rect x="315.86" y="22.5" width="1" height="1"/><rect x="315.87" y="57.02" width="1" height="1"/><rect x="314.21" y="55.11" width="1" height="1"/></g>
<path d="M322,22.3H325.2M322,22.8H325.2M322,23.3H325.2M322,23.8H325.2M322,24.3H325.2M322,24.8H325.87M321.7,25.3H326.46M321.57,25.8H326.27M321.85,26.3H327.62M321.37,26.8H327.24M321.02,27.3H328.11M320.83,27.8H329.05M320.58,28.3H329.32M319.83,28.8H328.44M319.71,29.3H328.62M320.22,29.8H330.97M319.06,30.3H331.07M319.18,30.8H329.49M317.88,31.3H332.07M319.42,31.8H331.14M318.21,32.3H333.01M318.69,32.8H333.4M318.02,33.3H332.93M317.38,33.8H334.15M316.84,34.3H332.61M316.38,34.8H333.52M317.83,35.3H336.12M316.88,35.8H334.2M316.42,36.3H334.1M317.96,36.8H333.73M318.49,37.3H331.5M317.32,37.8H332.26M318.1,38.3H333M318.08,38.8H331.23M318.66,39.3H332.38M319.05,39.8H333.33M318.69,40.3H332M318.22,40.8H331.31M318.22,41.3H330.82M318.34,41.8H330.87M318.54,42.3H330.05M319.02,42.8H330.49M320.23,43.3H329.05M319.9,43.8H328.64M320.3,44.3H328.96M319.51,44.8H329.43M319.93,45.3H328.24M320.03,45.8H327.74M320.2,46.3H327.31M320.49,46.8H328.37M321.53,47.3H326.84M320.93,47.8H327.87M321.18,48.3H327.38M321.97,48.8H326.97M322,49.3H326.57M322,49.8H326.17M322,50.3H325.59M322,50.8H325.2M322,51.3H325.2M322,51.8H325.2" stroke="#000" stroke-width="0.95" fill="none"/>
<path d="M323.6,22.8H324.16M322.88,23.3H323.6M323.6,23.3H324.67M323.6,23.8H325.13M321.95,24.8H323.6M323.6,25.3H326.7M323.6,26.3H327.95M323.6,26.8H328.22M320.45,27.3H323.6M319.87,28.3H323.6M323.6,28.3H330.21M319.23,29.3H323.6M323.6,29.3H330.89M323.6,30.3H331.8M317,31.8H323.6M323.6,31.8H333.43M315.86,33.3H323.6M323.6,33.8H336.96M315.96,34.3H323.6M323.6,34.8H336.77M314.6,35.3H323.6M314.66,35.8H323.6M315.02,36.3H323.6M323.6,36.3H337.33M323.6,36.8H336.07M315.2,37.3H323.6M323.6,38.3H334.26M316.5,38.8H323.6M323.6,38.8H334.69M316.61,39.3H323.6M323.6,39.3H334.7M317.84,42.3H323.6M323.6,42.8H332.08M319.27,44.3H323.6M323.6,44.3H331.47M323.6,45.8H329.77M320.12,46.3H323.6M323.6,46.3H328.8M320.32,46.8H323.6M323.6,47.3H328.54M323.6,47.8H327.94M320.81,48.3H323.6M323.6,48.3H327.69M323.6,48.8H327.39M321.71,49.3H323.6M322.4,50.8H323.6M323.6,50.8H325.29M323.6,51.3H324.92M323.2,51.8H323.6" stroke="#000" stroke-width="0.7" fill="none"/>
<path d="M323.6,23.3V51.2" stroke="#000" stroke-width="2.24"/>
<g fill="#000"><rect x="322.43" y="21.13" width="1" height="1"/><rect x="321.87" y="21.08" width="1" height="1"/><rect x="322.92" y="21.77" width="1" height="1"/><rect x="323.19" y="54.02" width="1" height="1"/><rect x="323.4" y="52.81" width="1" height="1"/></g>
<path d="M317.9,27H321.1M317.9,27.5H321.1M317.9,28H321.1M317.81,28.5H321.44M317.02,29H321.6M316.54,29.5H322.28M315.94,30H323.4M315.79,30.5H323.3M314.27,31H323.5M314.2,31.5H323.62M313.45,32H325.83M313.19,32.5H325.47M312.25,33H326.27M312.39,33.5H325.47M311.99,34H327.53M311.81,34.5H328.43M311.65,35H328.08M311.23,35.5H328.9M310.33,36H329.32M306.67,36.5H328.61M309.61,37H328.64M306.04,37.5H329.96M304.43,38H331.08M309.16,38.5H330.87M306.53,39H332.46M308.03,39.5H330.03M309.51,40H329.44M309.92,40.5H329.5M308.51,41H330.53M310.18,41.5H327.98M308.64,42H329.05M311.08,42.5H328.73M312.61,43H326.9M312.09,43.5H327.74M312.8,44H325.29M312.76,44.5H326.15M312.67,45H324.75M313.8,45.5H324.83M314.44,46H324.02M314.55,46.5H324.59M314.55,47H323.1M315.17,47.5H323.47M316.54,48H321.93M317.25,48.5H321.51M317.9,49H321.28M317.9,49.5H321.1M317.9,50H321.1" stroke="#000" stroke-width="0.95" fill="none"/>
<path d="M319.5,27H319.5M318.74,27.5H319.5M319.5,27.5H320.27M319.5,28.5H321.66M314.7,30H319.5M319.5,30H323.87M319.5,31H325.3M312.5,32H319.5M319.5,32H326.62M310.67,32.5H319.5M319.5,32.5H328.01M319.5,33H327.41M309.43,33.5H319.5M308.21,34H319.5M319.5,34H328.96M308.13,35H319.5M319.5,36H331.62M305.75,36.5H319.5M303.46,37.5H319.5M319.5,37.5H334.34M302,38H319.5M319.5,38.5H334.15M319.5,39.5H334.42M304.98,40H319.5M319.5,40H332.2M305.86,40.5H319.5M306.62,41H319.5M319.5,41H332.45M307.73,41.5H319.5M319.5,41.5H331.13M307.83,42H319.5M319.5,42H331.87M309.65,43H319.5M319.5,43.5H328.88M309.76,44H319.5M319.5,44H328.15M310.21,44.5H319.5M319.5,44.5H328.3M311.63,45H319.5M319.5,45.5H326.34M313.29,46H319.5M319.5,46.5H325.56M314.63,47.5H319.5M319.5,47.5H323.9M315.68,48H319.5M317.42,49H319.5M319.5,49H321.61M319.5,50H319.5M319.5,50H319.5" stroke="#000" stroke-width="0.7" fill="none"/>
<path d="M319.5,28V49" stroke="#000" stroke-width="2.24"/>
<g fill="#000"><rect x="318.99" y="24.61" width="1" height="1"/><rect x="318.91" y="25.67" width="1" height="1"/><rect x="318.26" y="25.15" width="1" height="1"/><rect x="318.54" y="50.56" width="1" height="1"/><rect x="319.2" y="52.73" width="1" height="1"/></g>
<line x1="268.7" y1="90.3" x2="323.3" y2="34.9" stroke="#1515e6" stroke-width="1.6"/>
<g fill="#ff1010"><rect x="268.3" y="88.1" width="1.4" height="1.8"/><rect x="268.3" y="91.7" width="1.4" height="1.8"/><rect x="289.3" y="59.6" width="1.4" height="1.8"/><rect x="289.3" y="69.6" width="1.4" height="1.8"/><rect x="314.7" y="37.8" width="1.4" height="1.8"/><rect x="314.5" y="41.1" width="1.4" height="1.8"/><rect x="322.9" y="33.2" width="1.4" height="1.8"/><rect x="323.3" y="36.4" width="1.4" height="1.8"/><rect x="322.9" y="40.7" width="1.4" height="1.8"/></g>
<path d="M375.4,82.3H378.6M375.4,82.8H378.6M375.4,83.3H378.6M375.4,83.8H378.6M375.4,84.3H378.79M374.97,84.8H379M374.47,85.3H379.92M373.64,85.8H380.06M372.7,86.3H381.28M371.14,86.8H381.51M370.81,87.3H382.98M371.26,87.8H383.68M369.92,88.3H383.62M369.5,88.8H384.3M369.07,89.3H384.47M368.31,89.8H386.67M367.28,90.3H389.28M364.84,90.8H390.05M364.73,91.3H388.92M361.07,91.8H391.07M361.07,92.3H393.58M360.75,92.8H390.28M359.93,93.3H393.68M362.34,93.8H389.99M365.99,94.3H390.89M362.09,94.8H387.41M365.25,95.3H387.9M366.85,95.8H387.26M364.89,96.3H386.5M366.55,96.8H384.87M369.32,97.3H385.17M370.51,97.8H384.6M370.9,98.3H382.65M372.16,98.8H381.24M373.65,99.3H381.16M375.01,99.8H378.65" stroke="#000" stroke-width="0.95" fill="none"/>
<path d="M377,82.3H377M375.31,84.3H377M377,84.8H379.26M374.12,85.3H377M370.86,86.8H377M377,86.8H382.75M368.14,88.8H377M367.34,89.3H377M377,90.3H388.67M362.53,90.8H377M377,90.8H391M377,92.3H393.38M361.36,92.8H377M359.65,93.3H377M363.31,94.3H377M377,94.3H392.38M364.09,94.8H377M362.65,95.3H377M367.17,96.8H377M367.68,97.3H377M377,97.3H386.5M368.93,97.8H377M370.34,98.3H377M371.07,98.8H377M374.95,99.8H377" stroke="#000" stroke-width="0.7" fill="none"/>
<path d="M377,83.3V99" stroke="#000" stroke-width="2.24"/>
<g fill="#000"><rect x="375.83" y="81.05" width="1" height="1"/><rect x="377.59" y="81.68" width="1" height="1"/><rect x="376.33" y="81.79" width="1" height="1"/><rect x="377.17" y="102.58" width="1" height="1"/><rect x="375.08" y="100.94" width="1" height="1"/></g>
<path d="M396.4,60.3H399.6M396.4,60.8H399.6M396.4,61.3H399.6M396.4,61.8H399.6M395.92,62.3H400.24M395.81,62.8H400.79M395.19,63.3H401.13M394.69,63.8H401.21M394.2,64.3H402.42M393.95,64.8H401.93M392.81,65.3H402.99M392.89,65.8H404.58M391.84,66.3H405.44M391.93,66.8H404.32M391,67.3H404.6M390.28,67.8H406.53M388.14,68.3H407.11M388.05,68.8H407.12M389.12,69.3H408.27M387,69.8H408.29M385.08,70.3H407.64M387.11,70.8H410.77M387.65,71.3H412.29M386.09,71.8H411.14M387.48,72.3H410.43M389.25,72.8H408.78M390.19,73.3H406.09M389.16,73.8H405.95M390.17,74.3H405.23M392.62,74.8H403.88M392.07,75.3H402.5M393.53,75.8H402.93M394.3,76.3H401.52M396.02,76.8H399.96M396.4,77.3H399.6" stroke="#000" stroke-width="0.95" fill="none"/>
<path d="M398,60.3H398M397.34,60.8H398M394.46,62.3H398M398,62.3H401.38M393.8,62.8H398M398,62.8H402.04M398,63.3H403.2M398,63.8H403.48M390.71,64.3H398M398,64.3H405.2M390.35,64.8H398M398,64.8H405.08M389.06,65.3H398M387.62,65.8H398M398,65.8H408.86M387.37,66.3H398M383.84,67.3H398M398,67.3H411.2M383.81,67.8H398M382.92,68.3H398M398,68.3H413.93M398,68.8H413.51M398,69.3H413.26M377.02,70.3H398M398,70.8H419.61M378.52,71.3H398M378.68,72.3H398M381.34,72.8H398M398,73.3H413.29M383.48,73.8H398M388.42,74.8H398M398,74.8H409.43M389.2,75.3H398M389.92,75.8H398M398,75.8H405.53M392.26,76.3H398M398,76.3H402.98M398,76.8H401.68M396.62,77.3H398M398,77.3H399.22" stroke="#000" stroke-width="0.7" fill="none"/>
<path d="M398,61.3V76.5" stroke="#000" stroke-width="2.24"/>
<g fill="#000"><rect x="398.82" y="58.03" width="1" height="1"/><rect x="397.07" y="59.02" width="1" height="1"/><rect x="398.98" y="58.19" width="1" height="1"/><rect x="398.21" y="79.73" width="1" height="1"/><rect x="396.93" y="78.9" width="1" height="1"/></g>
<path d="M421.4,25H424.6M421.4,25.5H424.6M421.4,26H424.6M421.4,26.5H424.6M421.4,27H424.6M421.36,27.5H424.6M420.65,28H424.6M420.88,28.5H424.6M420.48,29H425M419.94,29.5H424.7M419.81,30H425.42M418.69,30.5H425.01M419.19,31H425.64M417.88,31.5H426.42M418.05,32H426.36M418.17,32.5H426.54M418.37,33H426.43M416.99,33.5H426.97M416.45,34H427.43M415.57,34.5H427.87M416.22,35H426.81M416.97,35.5H427.81M416.21,36H428.42M415.44,36.5H428.24M416.17,37H429.06M414.93,37.5H428.81M414.58,38H427.73M413.24,38.5H428.24M414.34,39H430.35M414.96,39.5H429.26M413.61,40H429.66M410.87,40.5H430.09M412.72,41H429.6M412.25,41.5H430.3M413.56,42H431.55M412.33,42.5H429.62M413.29,43H430.89M410.62,43.5H428.71M413.28,44H430.08M412.71,44.5H429.17M412.41,45H428.35M413.9,45.5H430.09M415.35,46H430.15M413.17,46.5H429.48M415.98,47H428.91M414.41,47.5H427.46M414.9,48H427.26M414.94,48.5H428.95M415.93,49H428.28M417.08,49.5H427.3M415.57,50H427.68M417.18,50.5H427.9M417.7,51H426.84M418.19,51.5H427.27M417.97,52H426.75M417.71,52.5H426.15M418.99,53H426.16M418.63,53.5H425.84M419.34,54H425.66M419.74,54.5H425.5M419.8,55H424.88M420.36,55.5H424.89M420.34,56H424.6M421.4,56.5H424.6M421.4,57H424.6M421.4,57.5H424.6M421.4,58H424.6" stroke="#000" stroke-width="0.95" fill="none"/>
<path d="M423,26H423.57M421.65,26.5H423M421.24,27H423M423,27.5H424.38M419.82,28.5H423M423,28.5H424.92M423,29.5H425.44M423,30H426.03M417.79,31H423M423,31.5H426.88M423,32H426.88M416.07,32.5H423M423,32.5H427.08M423,33H427.16M423,33.5H428.06M415.51,34H423M423,34H428.41M415.29,34.5H423M423,35H428.6M414.96,35.5H423M413.95,36H423M423,36H428.78M411.95,37H423M411.37,38H423M423,38.5H429.93M411.46,39.5H423M423,39.5H431.82M423,41H431.69M409.37,41.5H423M408.67,42H423M409.48,42.5H423M423,42.5H432.23M423,43H431.85M410.71,44H423M411.54,45H423M423,45H431.57M423,45.5H431.12M423,46H430.28M423,46.5H430.73M423,48.5H429.68M414.04,49H423M423,49.5H428.31M423,50H428.07M423,51.5H427.62M423,52.5H427.33M417.44,53H423M423,53H426.71M417.62,53.5H423M418.85,54.5H423M418.84,55H423M423,55H425.71M423,56H425.03M423,56.5H424.63M421.35,57H423M421.78,57.5H423M423,57.5H423.72M422.55,58H423" stroke="#000" stroke-width="0.7" fill="none"/>
<path d="M423,26V57.2" stroke="#000" stroke-width="2.24"/>
<g fill="#000"><rect x="423.77" y="24.3" width="1" height="1"/><rect x="422.09" y="23.88" width="1" height="1"/><rect x="423.16" y="24.4" width="1" height="1"/><rect x="423.57" y="59.43" width="1" height="1"/><rect x="421.79" y="60.52" width="1" height="1"/></g>
<path d="M429.9,20.4H433.1M429.9,20.9H433.1M429.9,21.4H433.1M429.9,21.9H433.1M429.9,22.4H433.1M429.9,22.9H433.1M429.9,23.4H433.68M429.6,23.9H434.16M429.65,24.4H434.96M429.43,24.9H434.91M429.24,25.4H435.44M427.98,25.9H435.86M428.22,26.4H435.23M428.17,26.9H436.31M427.73,27.4H435.86M426.71,27.9H437.18M426.45,28.4H438.49M426.27,28.9H438.83M426.28,29.4H438.45M427.16,29.9H438.59M425.33,30.4H440.19M425.41,30.9H439.33M424.85,31.4H438.11M424.48,31.9H439.72M425.58,32.4H440.67M424.84,32.9H439.83M425.39,33.4H440.63M424.49,33.9H439.73M425.77,34.4H439.49M424.69,34.9H441.19M425.83,35.4H439.16M425.64,35.9H439.46M425.72,36.4H438.62M425.94,36.9H440.49M425.16,37.4H439.36M426.07,37.9H437.99M425.14,38.4H440.43M426.79,38.9H439.55M425.81,39.4H439.83M426.39,39.9H438.27M427.24,40.4H437.62M427.25,40.9H438.35M426.18,41.4H438.18M427.54,41.9H437.48M426.91,42.4H436.96M426.24,42.9H437.5M427.22,43.4H436.73M428.05,43.9H437.82M427.93,44.4H437.57M427.55,44.9H437.21M427.97,45.4H435.81M427.64,45.9H436.19M428.06,46.4H436.43M428.43,46.9H436.94M428.64,47.4H436M428.09,47.9H435.36M428.74,48.4H434.98M428.64,48.9H436.04M428.78,49.4H434.89M428.96,49.9H434.47M428.94,50.4H435.41M429.45,50.9H435.01M429.37,51.4H434.33M429.53,51.9H434.18M429.79,52.4H433.7M429.54,52.9H434.13M429.88,53.4H433.78M429.9,53.9H433.14M429.9,54.4H433.25M429.9,54.9H433.1M429.9,55.4H433.1M429.9,55.9H433.1M429.9,56.4H433.1M429.9,56.9H433.1" stroke="#000" stroke-width="0.95" fill="none"/>
<path d="M431.5,20.4H431.5M431.5,20.9H431.94M431.5,21.4H432.5M431.5,22.9H433.96M429.37,23.4H431.5M429.26,23.9H431.5M431.5,24.4H435.52M428.13,24.9H431.5M431.5,24.9H436M428.44,25.4H431.5M431.5,26.4H437.1M426.9,26.9H431.5M426.62,27.9H431.5M431.5,27.9H438.75M425.74,28.9H431.5M431.5,29.9H439.59M425.38,30.4H431.5M423.57,31.4H431.5M423.95,31.9H431.5M431.5,31.9H442.77M431.5,32.4H443.04M431.5,32.9H442.24M431.5,33.4H442.39M431.5,33.9H443.73M423.64,34.4H431.5M431.5,34.9H443.05M424.41,36.9H431.5M431.5,37.4H441.44M431.5,37.9H440.63M431.5,38.4H441.89M431.5,38.9H440.11M425.29,39.9H431.5M425.74,40.4H431.5M431.5,40.4H439.62M431.5,41.4H439.3M425.67,42.4H431.5M431.5,42.4H439.84M431.5,43.9H438.19M426.91,44.4H431.5M431.5,44.4H438.92M431.5,44.9H437.57M426.6,45.4H431.5M431.5,45.4H437.99M426.51,45.9H431.5M431.5,46.4H438.11M431.5,47.4H436.73M431.5,47.9H437.39M431.5,48.4H436.71M431.5,48.9H435.89M428.49,50.4H431.5M431.5,50.4H435.92M431.5,50.9H435.74M428.85,51.9H431.5M429.06,52.4H431.5M431.5,53.4H434.23M431.5,53.9H433.78M430.24,54.9H431.5M431.5,54.9H433.33M430.48,55.4H431.5M430.74,55.9H431.5M431.5,55.9H432.57M431.5,56.9H431.64" stroke="#000" stroke-width="0.7" fill="none"/>
<path d="M431.5,21.4V56" stroke="#000" stroke-width="2.24"/>
<g fill="#000"><rect x="429.98" y="17.95" width="1" height="1"/><rect x="430.19" y="19.49" width="1" height="1"/><rect x="431.83" y="19.21" width="1" height="1"/><rect x="431.05" y="59.24" width="1" height="1"/><rect x="430.32" y="58.29" width="1" height="1"/></g>
<path d="M425.65,26H428.85M425.65,26.5H428.85M425.65,27H428.85M425.64,27.5H428.85M425.14,28H429.24M424.85,28.5H429.38M423.52,29H430.12M423.9,29.5H430.4M422.7,30H431.25M421.67,30.5H431.97M421.88,31H431.26M421.29,31.5H431.82M421.3,32H433.26M420.45,32.5H433.01M418.71,33H432.55M419.46,33.5H433.11M417.95,34H434.26M417.81,34.5H433.65M417.77,35H433.94M418.65,35.5H437.37M416.26,36H435.71M417.26,36.5H438.12M416,37H438.72M415.26,37.5H437.18M415.38,38H438.68M415.06,38.5H437.75M415.78,39H439.09M416.03,39.5H437.86M414.05,40H437.47M415.71,40.5H435.61M414.81,41H435.71M416.09,41.5H435.13M415.68,42H434.63M416.75,42.5H436.28M417.4,43H435.63M418.49,43.5H434.7M419.63,44H434.82M419.42,44.5H433.86M419.47,45H433.02M421.27,45.5H433.39M419.56,46H432.94M422.18,46.5H432.03M420.95,47H431.82M423.03,47.5H431.44M421.9,48H431.91M422.57,48.5H431.18M424.19,49H430.82M423.79,49.5H429.83M424.75,50H429.5M425.02,50.5H429.41M425.65,51H428.85M425.65,51.5H428.85M425.65,52H428.85" stroke="#000" stroke-width="0.95" fill="none"/>
<path d="M427.25,26.5H427.89M427.25,27H428.36M425.05,27.5H427.25M424.69,28H427.25M424.16,28.5H427.25M427.25,28.5H430.19M427.25,29.5H431.28M421.05,30.5H427.25M427.25,31H432.66M418.42,32.5H427.25M418.15,33H427.25M427.25,34.5H436.25M415.24,35H427.25M427.25,36H438.45M411.31,37H427.25M427.25,38H442M427.25,39.5H440.65M427.25,41H438.6M427.25,41.5H438.14M427.25,42H438.14M415,42.5H427.25M427.25,43H437.52M427.25,43.5H437.21M427.25,44H436.33M417.04,44.5H427.25M427.25,46H434.75M420.27,47H427.25M427.25,47.5H432.68M421.64,48H427.25M427.25,48H431.94M421.86,48.5H427.25M427.25,49H431.51M427.25,49.5H430.76M424.67,50.5H427.25M425.29,51H427.25M427.25,51.5H428.19" stroke="#000" stroke-width="0.7" fill="none"/>
<path d="M427.25,27V51" stroke="#000" stroke-width="2.24"/>
<g fill="#000"><rect x="426.34" y="23.95" width="1" height="1"/><rect x="427.41" y="23.96" width="1" height="1"/><rect x="427.34" y="23.59" width="1" height="1"/><rect x="427.77" y="52.66" width="1" height="1"/><rect x="427" y="53.86" width="1" height="1"/></g>
<line x1="376.7" y1="90.3" x2="431.3" y2="36.5" stroke="#1515e6" stroke-width="1.6"/>
<g fill="#ff1010"><rect x="376.3" y="87.6" width="1.4" height="1.8"/><rect x="376.3" y="93.4" width="1.4" height="1.8"/><rect x="397.3" y="69.6" width="1.4" height="1.8"/><rect x="422.3" y="40.6" width="1.4" height="1.8"/><rect x="430.8" y="30.6" width="1.4" height="1.8"/><rect x="430.8" y="47.3" width="1.4" height="1.8"/></g>
<path d="M483.1,75.8H486.3M483.1,76.3H486.3M483.1,76.8H486.3M483.1,77.3H486.3M483.1,77.8H486.3M483.1,78.3H486.3M482.67,78.8H487.1M481.91,79.3H487.4M481.65,79.8H487.68M481.52,80.3H487.48M480.49,80.8H488.24M479.87,81.3H489.34M479.58,81.8H490.19M478.48,82.3H489.13M479.1,82.8H491.27M479.35,83.3H490.14M476.44,83.8H491.31M478.02,84.3H491.89M477.41,84.8H492.35M477.58,85.3H492.15M474.52,85.8H493M474.37,86.3H493.25M473.3,86.8H492.97M476.19,87.3H493.34M473.56,87.8H493.05M473.67,88.3H492.2M476.52,88.8H494.04M476.95,89.3H492.23M477.88,89.8H491.58M476.4,90.3H493.42M477.74,90.8H492.24M477.78,91.3H490.13M479.15,91.8H491.04M478.74,92.3H490.98M480.06,92.8H490.71M479.38,93.3H490.02M480.84,93.8H489.69M479.89,94.3H488.55M480.78,94.8H488.88M481.86,95.3H487.53M481.77,95.8H487.34M482.27,96.3H486.64M483.06,96.8H486.91M483.1,97.3H486.3M483.1,97.8H486.3M483.1,98.3H486.3M483.1,98.8H486.3" stroke="#000" stroke-width="0.95" fill="none"/>
<path d="M484.7,75.8H484.7M484.32,76.3H484.7M483.11,77.3H484.7M484.7,77.3H486.16M482.7,77.8H484.7M484.7,77.8H486.87M484.7,78.3H487.49M480.43,79.3H484.7M484.7,79.3H488.87M479.28,79.8H484.7M479.4,80.3H484.7M477.5,80.8H484.7M484.7,81.3H491.71M474.64,82.3H484.7M484.7,82.3H493.48M473.67,82.8H484.7M484.7,82.8H495.26M473.52,83.3H484.7M484.7,83.3H495.23M484.7,83.8H496.12M471.65,84.8H484.7M484.7,84.8H497.99M484.7,85.3H497.26M484.7,85.8H498.15M466.42,86.8H484.7M484.7,86.8H500.12M466.2,87.3H484.7M484.7,87.3H500.27M469.4,88.3H484.7M469.75,88.8H484.7M471.79,89.8H484.7M473.76,90.8H484.7M484.7,90.8H495.95M472.22,91.3H484.7M484.7,91.3H495.15M484.7,91.8H494.85M475.37,92.3H484.7M484.7,92.3H494.6M476.15,92.8H484.7M484.7,92.8H494.09M477.55,93.8H484.7M484.7,93.8H491.33M478.39,94.3H484.7M478.96,94.8H484.7M484.7,94.8H490.29M484.7,95.3H489.61M479.84,95.8H484.7M484.7,95.8H489.18M484.7,96.3H488.46M481.44,96.8H484.7M484.7,96.8H488.19M484.7,97.3H487.31M482.89,97.8H484.7M484.7,98.3H485.79M484.22,98.8H484.7" stroke="#000" stroke-width="0.7" fill="none"/>
<path d="M484.7,76.8V98.1" stroke="#000" stroke-width="2.24"/>
<g fill="#000"><rect x="483.79" y="75.03" width="1" height="1"/><rect x="485.58" y="74.51" width="1" height="1"/><rect x="484.43" y="75.1" width="1" height="1"/><rect x="485.7" y="101.82" width="1" height="1"/><rect x="484.67" y="101.7" width="1" height="1"/></g>
<path d="M504.2,55H507.4M504.2,55.5H507.4M504.2,56H507.4M504.2,56.5H507.4M504.2,57H507.4M504.09,57.5H507.5M503.94,58H508.25M502.8,58.5H508.93M502.46,59H508.87M501.7,59.5H508.94M502.01,60H509.3M500.68,60.5H509.48M500.68,61H510.75M500.3,61.5H510.15M500.06,62H510.75M500.05,62.5H511.12M498.28,63H512.61M497.52,63.5H512.35M498.42,64H511.99M497.84,64.5H513.89M496.83,65H515.91M496.93,65.5H515.83M496.55,66H514.76M497.57,66.5H516.41M494.52,67H516M496.24,67.5H514.68M497.06,68H517.62M497.29,68.5H515.3M497.4,69H513.67M496.95,69.5H514.21M498.89,70H512.34M497.48,70.5H512.3M498.08,71H512.81M499.12,71.5H510.85M499.63,72H510.78M500.49,72.5H510.41M501.62,73H509.49M502.15,73.5H509.71M502.61,74H508.48M503.07,74.5H508.42M503.98,75H507.82M504.2,75.5H507.4M504.2,76H507.4M504.2,76.5H507.4" stroke="#000" stroke-width="0.95" fill="none"/>
<path d="M505.8,55H505.8M505.8,55H505.8M505.3,55.5H505.8M505.8,56.5H507.68M503.68,57H505.8M505.8,57H507.95M502.12,58H505.8M501.59,58.5H505.8M505.8,58.5H510.07M505.8,59H511.26M505.8,59.5H511.09M505.8,60H512.63M499.3,60.5H505.8M505.8,60.5H513.62M505.8,61H513.19M498,61.5H505.8M505.8,61.5H513.78M494.1,63H505.8M494.04,64H505.8M493.68,64.5H505.8M505.8,65H519.79M489.84,65.5H505.8M505.8,65.5H520.38M505.8,66H521.15M490.79,66.5H505.8M505.8,66.5H522.62M489.29,67H505.8M505.8,67.5H522.45M505.8,68H523.49M505.8,68.5H523.34M505.8,69H519.41M505.8,70H518.34M505.8,70.5H518.98M494.35,71H505.8M496.6,71.5H505.8M505.8,71.5H516.87M497.17,72H505.8M505.8,72H515.39M497.46,72.5H505.8M499.26,73H505.8M499.92,73.5H505.8M505.8,73.5H512.56M505.8,74H511.08M502.74,75H505.8M505.8,75H509.07M504.59,76H505.8M505.8,76H506.94M505.8,76.5H505.99" stroke="#000" stroke-width="0.7" fill="none"/>
<path d="M505.8,56V75.6" stroke="#000" stroke-width="2.24"/>
<g fill="#000"><rect x="504.23" y="52.73" width="1" height="1"/><rect x="506.48" y="53.78" width="1" height="1"/><rect x="504.56" y="52.67" width="1" height="1"/><rect x="504.48" y="79" width="1" height="1"/><rect x="504.86" y="79.29" width="1" height="1"/></g>
<path d="M529.4,30H532.6M529.4,30.5H532.6M529.4,31H532.6M529.23,31.5H532.6M528.2,32H532.72M526.9,32.5H533.34M527.34,33H533.31M525.81,33.5H534.66M524.92,34H534.6M525.35,34.5H535.14M523.21,35H535.88M522.1,35.5H535.23M522.98,36H536.34M522.41,36.5H537.54M522.82,37H537.49M519.09,37.5H538.06M519.38,38H537.46M520.57,38.5H537.68M520.47,39H540.7M515.62,39.5H541.21M514.2,40H539.1M514.76,40.5H539.79M516.15,41H540.57M517.8,41.5H539.02M516.96,42H538.67M518.89,42.5H538.56M516.66,43H539.75M520.71,43.5H538.79M521.17,44H536.96M518.58,44.5H536.95M519.21,45H537.32M519.4,45.5H537M520.55,46H538.46M522.41,46.5H537.82M520.51,47H537.27M522.06,47.5H535.67M521.06,48H536.57M522.17,48.5H535.82M523.15,49H535.69M523.21,49.5H535.33M525.28,50H535.02M525.71,50.5H535.67M526.05,51H534.24M525.41,51.5H534.33M525.27,52H534.67M525.98,52.5H533.93M526.72,53H534M527.07,53.5H533.47M527.88,54H533.42M528.25,54.5H532.9M528.59,55H532.6M529.23,55.5H532.6M529.4,56H532.6M529.4,56.5H532.6" stroke="#000" stroke-width="0.95" fill="none"/>
<path d="M531,30H531M531,30H531M531,30.5H531.53M531,31.5H532.54M531,32H533.48M526.2,32.5H531M531,32.5H533.88M531,33H534.77M522.02,35.5H531M531,35.5H537.88M518.41,36.5H531M517.34,37H531M531,37H538.59M531,38H540.46M515.55,38.5H531M531,39H540.52M512.93,39.5H531M514.22,40H531M531,40H543M513.93,40.5H531M531,40.5H542.47M531,42H540.3M516.56,42.5H531M516.2,43H531M531,43H540.33M531,43.5H539.79M531,44H540.57M517.53,44.5H531M531,45H539.51M531,46H539.79M519.37,46.5H531M518.38,47H531M520.33,47.5H531M531,48H537.38M521.77,48.5H531M531,48.5H537.3M531,49H536.48M531,49.5H536.5M523.07,50H531M531,50H536.43M522.99,50.5H531M531,53H534.53M531,53.5H533.96M526.85,54H531M531,54H533.73M527.27,54.5H531M531,54.5H533.05M531,55H532.6M528.75,55.5H531M529.84,56H531M531,56.5H531.2" stroke="#000" stroke-width="0.7" fill="none"/>
<path d="M531,31V55.6" stroke="#000" stroke-width="2.24"/>
<g fill="#000"><rect x="530" y="27.72" width="1" height="1"/><rect x="530.42" y="28.32" width="1" height="1"/><rect x="530.79" y="28.37" width="1" height="1"/><rect x="531.79" y="59.45" width="1" height="1"/><rect x="531.49" y="59.37" width="1" height="1"/></g>
<path d="M537.7,28.5H540.9M537.7,29H540.9M537.7,29.5H541.92M537.24,30H542.47M536.71,30.5H543.89M536.3,31H544.6M535.95,31.5H546.63M534.39,32H548.81M533.89,32.5H549.71M533.24,33H551.08M533.35,33.5H552.63M532.31,34H553M531.52,34.5H554.82M531.39,35H552.15M532.49,35.5H553.61M531.34,36H551.15M531.36,36.5H554.08M533.36,37H554.12M532.04,37.5H554.44M531.21,38H552.34M531.72,38.5H552.78M532.49,39H554.24M532.31,39.5H553.89M533.53,40H550.61M532.86,40.5H549.19M533.63,41H551.94M534.21,41.5H548.29M533.75,42H549.04M534.4,42.5H550.89M533.95,43H550.72M533.84,43.5H550.24M535.11,44H548.89M535.3,44.5H549.91M535.03,45H546.56M535.34,45.5H547.95M534.44,46H548.44M535.99,46.5H547.14M536.09,47H547.14M536.34,47.5H547.19M536.54,48H546.31M535.93,48.5H544.55M536.53,49H545.65M536.77,49.5H544.24M536.87,50H543.69M536.51,50.5H544.03M537.06,51H544.18M537.7,51.5H543.03M537.7,52H543.02M537.7,52.5H542.56M537.7,53H541.9M537.7,53.5H541.5M537.7,54H540.9M537.7,54.5H540.9M537.7,55H540.9" stroke="#000" stroke-width="0.95" fill="none"/>
<path d="M539.3,28.5H539.3M538.51,29H539.3M539.3,29H540.9M537.64,29.5H539.3M539.3,29.5H542.91M536.41,30H539.3M533.52,31.5H539.3M539.3,31.5H548.93M539.3,32.5H553.59M532.14,33H539.3M539.3,33.5H556.96M529.37,34H539.3M539.3,34H559.61M529.43,34.5H539.3M539.3,34.5H560.51M528.15,35H539.3M539.3,35H560.16M528.95,36.5H539.3M539.3,36.5H560.81M529.05,38H539.3M530.55,38.5H539.3M529.23,39.5H539.3M539.3,39.5H555.49M539.3,40H556.05M530.68,40.5H539.3M539.3,40.5H556.77M529.87,41H539.3M539.3,41H556.05M530.28,41.5H539.3M539.3,41.5H555.42M539.3,42H554.49M539.3,43H552.87M539.3,44.5H553.86M539.3,45H551.26M532.8,45.5H539.3M539.3,46H551.78M534.04,46.5H539.3M539.3,47H550.59M539.3,47.5H549.29M534.35,48H539.3M539.3,49H547.79M539.3,49.5H547.63M535.17,50H539.3M536.09,50.5H539.3M539.3,50.5H546.17M536.33,51H539.3M539.3,51H544.95M536.55,51.5H539.3M539.3,52H543.67M537.05,52.5H539.3M539.3,52.5H543.66M537.62,53H539.3M539.3,53.5H542.01M538.36,54H539.3M538.74,54.5H539.3M539.3,54.5H540.49M539.3,55H539.3" stroke="#000" stroke-width="0.7" fill="none"/>
<path d="M539.3,29.5V54" stroke="#000" stroke-width="2.24"/>
<g fill="#000"><rect x="538.09" y="27.62" width="1" height="1"/><rect x="538.03" y="27.65" width="1" height="1"/><rect x="539.68" y="26.79" width="1" height="1"/><rect x="538.96" y="55.51" width="1" height="1"/><rect x="539.44" y="56.84" width="1" height="1"/></g>
<path d="M533.55,31H536.75M533.55,31.5H536.75M533.55,32H536.75M532.17,32.5H537.5M531.09,33H538.05M530.63,33.5H539.19M529.75,34H540.31M529.9,34.5H540.44M527.72,35H542.44M526.33,35.5H543.41M527.91,36H544.13M526.35,36.5H543.89M523.7,37H546.36M525.71,37.5H546.47M524.61,38H546.87M520.54,38.5H548.5M521.55,39H546.01M520.88,39.5H547.16M521.99,40H549.42M517.92,40.5H549.63M520.08,41H549.61M521.45,41.5H550.07M522.85,42H545.67M520.05,42.5H545.98M520.97,43H545.29M521.42,43.5H547.34M524.87,44H547.25M525.03,44.5H546.97M525.71,45H543.3M524.56,45.5H542.93M524.69,46H544.64M526.44,46.5H544.32M527.9,47H542.11M527.03,47.5H542.41M527.8,48H541.36M529.19,48.5H541M530.5,49H539.31M529.93,49.5H539.01M531.48,50H538.23M532.43,50.5H537.62M533.27,51H537.27M533.55,51.5H536.75M533.55,52H536.75" stroke="#000" stroke-width="0.95" fill="none"/>
<path d="M535.15,31H535.15M533.99,31.5H535.15M535.15,32.5H538.44M531.04,33H535.15M535.15,33H539.61M529.4,33.5H535.15M535.15,33.5H539.98M527.35,34.5H535.15M535.15,34.5H543.05M535.15,35.5H544.27M535.15,37H548.03M519.65,38H535.15M535.15,38H549.56M535.15,39.5H551.53M514,40H535.15M516.64,40.5H535.15M535.15,41H551.63M520.18,42.5H535.15M535.15,42.5H551.81M518.93,43H535.15M535.15,43H550.49M519.56,43.5H535.15M535.15,43.5H550.24M535.15,44.5H548.5M521.79,45H535.15M535.15,45H546.37M535.15,45.5H546.36M535.15,47H544.79M526.89,47.5H535.15M535.15,47.5H543.63M535.15,50H539.39M531.68,50.5H535.15M533.58,51.5H535.15" stroke="#000" stroke-width="0.7" fill="none"/>
<path d="M535.15,32V51" stroke="#000" stroke-width="2.24"/>
<g fill="#000"><rect x="534.8" y="29.73" width="1" height="1"/><rect x="534.02" y="30.04" width="1" height="1"/><rect x="534.45" y="29.25" width="1" height="1"/><rect x="535.31" y="54.34" width="1" height="1"/><rect x="536.01" y="52.96" width="1" height="1"/></g>
<line x1="484.7" y1="88.7" x2="539.3" y2="35.9" stroke="#1515e6" stroke-width="1.6"/>
<g fill="#ff1010"><rect x="484" y="84.6" width="1.4" height="1.8"/><rect x="484" y="93.6" width="1.4" height="1.8"/><rect x="505.1" y="64.1" width="1.4" height="1.8"/><rect x="505.1" y="69.6" width="1.4" height="1.8"/><rect x="530.3" y="38.6" width="1.4" height="1.8"/><rect x="538.6" y="33.6" width="1.4" height="1.8"/><rect x="538.6" y="45.6" width="1.4" height="1.8"/></g>
<path d="M267.1,185.8H270.3M267.1,186.3H270.3M267.1,186.8H270.3M267.1,187.3H270.3M267.1,187.8H270.3M267.1,188.3H270.3M267.1,188.8H270.3M267.1,189.3H270.36M267.1,189.8H271.08M266.28,190.3H271.07M265.62,190.8H271.11M265.52,191.3H272.31M265.02,191.8H272.08M265.39,192.3H273.11M264.68,192.8H273.25M264.17,193.3H274.11M262.61,193.8H273.83M263.09,194.3H274.36M261.73,194.8H274.87M261.79,195.3H275.8M260.93,195.8H276.85M261.75,196.3H278.85M260.64,196.8H276.25M260.99,197.3H277.28M256.88,197.8H279.76M256.37,198.3H280.56M259.05,198.8H282.4M255.34,199.3H280.12M257.55,199.8H281.92M254.93,200.3H283.93M254.91,200.8H283.39M256.18,201.3H281.37M251.69,201.8H284.49M252.7,202.3H284.32M252.33,202.8H285.48M254.96,203.3H281.29M256.16,203.8H283.72M255.49,204.3H281.17M255.87,204.8H281.06M257.57,205.3H277.26M260.87,205.8H278.96M261,206.3H277.52M261.92,206.8H274.61M262.6,207.3H274.1M265.75,207.8H271.91M267.1,208.3H270.3" stroke="#000" stroke-width="0.95" fill="none"/>
<path d="M268.6,186.3H268.7M268.7,188.3H269.81M268.7,188.8H270.23M268.7,189.3H270.68M266.21,190.3H268.7M268.7,191.3H272.67M268.7,192.3H273.03M268.7,194.8H276.88M260.39,196.3H268.7M258.88,196.8H268.7M259.18,197.3H268.7M268.7,197.3H279.65M257.11,198.3H268.7M268.7,198.8H281.86M268.7,199.3H281.89M268.7,199.8H284.02M268.7,200.3H285.85M254.41,200.8H268.7M252.1,201.3H268.7M268.7,201.3H285M250.8,201.8H268.7M251.55,202.8H268.7M268.7,202.8H284.28M268.7,203.3H286.15M256.38,204.3H268.7M256.28,204.8H268.7M268.7,204.8H281.29M258.81,205.8H268.7M268.7,205.8H279.45M268.7,206.8H276.12M268.7,207.3H274.94M265.24,207.8H268.7M268.7,208.3H268.7" stroke="#000" stroke-width="0.7" fill="none"/>
<path d="M268.7,186.8V207.3" stroke="#000" stroke-width="2.24"/>
<g fill="#000"><rect x="269" y="183.39" width="1" height="1"/><rect x="267.4" y="183.43" width="1" height="1"/><rect x="269" y="184.86" width="1" height="1"/><rect x="268.22" y="209.39" width="1" height="1"/><rect x="268.51" y="210.8" width="1" height="1"/></g>
<path d="M288.4,164.2H291.6M288.4,164.7H291.6M288.4,165.2H291.6M288.4,165.7H291.6M288.39,166.2H291.6M288.26,166.7H291.99M287.71,167.2H292.11M287.41,167.7H292.57M286.61,168.2H293.52M286.02,168.7H294.3M285.64,169.2H293.81M285.32,169.7H294.59M284.1,170.2H294.32M283.89,170.7H295.01M283.04,171.2H296.32M284.34,171.7H296.41M282.26,172.2H296.33M283.84,172.7H297.57M282.37,173.2H299.12M280.47,173.7H297.3M279.64,174.2H299.38M281.71,174.7H300.19M280,175.2H298.85M280.27,175.7H300.56M279.1,176.2H301.7M278.24,176.7H301.9M279.35,177.2H303.73M279.31,177.7H301.69M277.69,178.2H300.76M277.06,178.7H305.6M274.82,179.2H305.46M276.48,179.7H300.87M279.69,180.2H303.81M276.13,180.7H302.82M278.51,181.2H303.85M276.54,181.7H300.75M277.1,182.2H299.25M278.59,182.7H301.28M281.02,183.2H299.33M279.27,183.7H298.47M280.7,184.2H298.57M281.04,184.7H298.41M282.84,185.2H298.16M280.74,185.7H299.21M281.88,186.2H297.7M283.19,186.7H297.39M283.61,187.2H295.89M284.56,187.7H295.64M283.88,188.2H295.41M284.9,188.7H294.04M285.98,189.2H294.37M286.59,189.7H293.52M287.56,190.2H292.75M287.84,190.7H292.18M288.4,191.2H291.6" stroke="#000" stroke-width="0.95" fill="none"/>
<path d="M290,164.2H290M288.33,166.2H290M287.04,167.2H290M285.04,169.7H290M290,169.7H295.47M282.82,170.7H290M290,170.7H296.33M282.42,171.7H290M290,172.2H297.88M279.8,173.7H290M278.32,174.2H290M278.2,175.7H290M290,175.7H301.15M275.21,176.7H290M290,176.7H304.56M290,177.2H304.86M275.66,177.7H290M290,177.7H303.71M290,178.2H306.06M274.79,179.7H290M274.93,180.2H290M274.64,180.7H290M290,180.7H305.11M290,181.2H303.7M276.04,181.7H290M276.01,182.2H290M278.36,182.7H290M290,182.7H302.25M278.89,183.2H290M277.62,183.7H290M290,183.7H300.86M278.54,184.7H290M290,184.7H301.4M290,185.2H299.21M290,186.2H299.23M281.95,186.7H290M290,186.7H298.82M283.52,187.7H290M290,187.7H297.79M284.81,189.2H290M290,189.2H294.99M286,189.7H290M290,190.7H292.33M290,191.2H291.21" stroke="#000" stroke-width="0.7" fill="none"/>
<path d="M290,165.2V190.5" stroke="#000" stroke-width="2.24"/>
<g fill="#000"><rect x="290.58" y="163.17" width="1" height="1"/><rect x="290.08" y="162.71" width="1" height="1"/><rect x="289.98" y="161.86" width="1" height="1"/><rect x="289.85" y="194.32" width="1" height="1"/><rect x="289.53" y="193.23" width="1" height="1"/></g>
<path d="M313.8,139H317M313.8,139.5H317M313.51,140H317M312.58,140.5H317.13M310.83,141H317.69M310.12,141.5H319.07M308.35,142H319.54M307.17,142.5H319.99M306.41,143H320.72M307.15,143.5H320.1M304.13,144H321.07M302.68,144.5H321.58M303.38,145H324.3M301.5,145.5H322.19M301.08,146H322.88M301.72,146.5H323.25M303.67,147H322.26M303.36,147.5H323.4M304.66,148H320.91M302.32,148.5H322.1M305.88,149H322.21M305.32,149.5H322.21M303.9,150H322.09M306.96,150.5H320.86M306.65,151H320.13M305.43,151.5H321.26M306,152H320.48M306.8,152.5H320.9M307.42,153H321.05M305.92,153.5H320.47M306.25,154H319.99M308.66,154.5H320.35M307.62,155H319.65M308.56,155.5H318.95M308.4,156H320.33M309.79,156.5H320.06M309.88,157H319.67M309.07,157.5H318.51M308.81,158H319.08M310.64,158.5H318.64M310.82,159H318.08M310.19,159.5H318.26M310.9,160H318.29M311.23,160.5H318.42M312.06,161H317.82M311.59,161.5H317.37M312.56,162H317.67M312.18,162.5H317M313.12,163H317M313.01,163.5H317M313.63,164H317M313.66,164.5H317M313.8,165H317M313.8,165.5H317M313.8,166H317" stroke="#000" stroke-width="0.95" fill="none"/>
<path d="M315.4,139H315.4M312.7,140H315.4M311.65,140.5H315.4M315.4,140.5H317.85M308.06,142H315.4M305.49,142.5H315.4M315.4,142.5H321.29M304.94,143H315.4M300.99,144H315.4M315.4,144.5H323.51M300.4,145H315.4M298.4,145.5H315.4M299.08,146H315.4M299.59,147.5H315.4M315.4,149H323.04M315.4,149.5H322.5M315.4,150.5H323.36M315.4,151H321.94M315.4,151.5H322.55M304.57,152H315.4M315.4,152.5H322.22M304.18,153H315.4M304.8,154H315.4M315.4,154H321.06M304.54,154.5H315.4M306.68,155H315.4M315.4,155H321.51M315.4,155.5H321.17M306.53,156H315.4M306.52,156.5H315.4M315.4,156.5H319.99M315.4,158H319.46M307.64,158.5H315.4M315.4,158.5H319.8M315.4,159H319.42M309.56,159.5H315.4M315.4,160H318.83M315.4,160.5H318.62M310.67,161H315.4M315.4,161.5H318.29M315.4,162H317.81M315.4,162.5H317.62M315.4,163H317.27M312.63,163.5H315.4M313.52,164.5H315.4M315.4,165H316.19M315.4,165.5H315.92" stroke="#000" stroke-width="0.7" fill="none"/>
<path d="M315.4,140V165" stroke="#000" stroke-width="2.24"/>
<g fill="#000"><rect x="314.55" y="136.51" width="1" height="1"/><rect x="314.33" y="137.22" width="1" height="1"/><rect x="314.13" y="136.63" width="1" height="1"/><rect x="314.75" y="166.54" width="1" height="1"/><rect x="314.1" y="167.7" width="1" height="1"/></g>
<path d="M322,134.5H325.2M322,135H325.2M322,135.5H325.48M321.81,136H327.02M321.31,136.5H328.4M320.84,137H329.43M319.86,137.5H329.7M319.67,138H329.85M319.38,138.5H331.1M319.54,139H333.93M318.25,139.5H334.62M317.87,140H337.13M315.99,140.5H334.65M315.55,141H336.41M316.57,141.5H339.71M317.45,142H337.95M316.05,142.5H338.58M316.6,143H339.11M318.09,143.5H335.38M318.4,144H337.19M316.47,144.5H335.38M318.75,145H337.49M318.16,145.5H335.48M317.64,146H337.25M317.93,146.5H335.69M317.73,147H333.02M318.98,147.5H332.73M318.18,148H335.91M318.38,148.5H334.42M319.36,149H333.48M319.07,149.5H331.63M318.9,150H331.6M319.71,150.5H333.39M319.26,151H332.87M319.56,151.5H331.96M319.9,152H331.96M319.58,152.5H332.23M320.27,153H331.59M319.66,153.5H330.12M319.63,154H332.37M319.55,154.5H331.94M320.34,155H330.57M320.61,155.5H330.05M320.7,156H329.65M320.19,156.5H329.7M320.43,157H329.18M320.15,157.5H330.31M321.29,158H328.72M320.67,158.5H329.47M320.99,159H328.88M320.82,159.5H328.47M321.41,160H327.62M321.08,160.5H328.19M321.63,161H327.33M321.52,161.5H328.17M321.98,162H328.19M321.51,162.5H326.83M321.98,163H327.53M322,163.5H326.69M321.83,164H326.21M322,164.5H325.98M322,165H326.14M322,165.5H326.07M322,166H325.64M322,166.5H326.04M322,167H325.69M322,167.5H325.24M322,168H325.4M322,168.5H325.2M322,169H325.2M322,169.5H325.2M322,170H325.2M322,170.5H325.2M322,171H325.2M322,171.5H325.2M322,172H325.2M322,172.5H325.2M322,173H325.2" stroke="#000" stroke-width="0.95" fill="none"/>
<path d="M323.6,134.5H323.6M323.6,134.5H323.6M323.6,135H325M323.6,135.5H326.61M319.21,137.5H323.6M323.6,137.5H333.04M318.36,138H323.6M323.6,138H334.54M315.33,140.5H323.6M313.6,141H323.6M323.6,141.5H344.2M323.6,142H341.67M323.6,142.5H342.57M323.6,143H340.19M323.6,143.5H340.04M323.6,144H341.04M323.6,145.5H338.48M316.36,146H323.6M323.6,146H340.53M316.5,146.5H323.6M316.48,147H323.6M323.6,147H338.32M316.36,148H323.6M323.6,148H339.22M316.79,149H323.6M323.6,149H338.04M323.6,149.5H336.45M317.33,150.5H323.6M323.6,150.5H335.84M317.41,151.5H323.6M323.6,151.5H335.01M323.6,152H336.18M318.14,152.5H323.6M318.43,153H323.6M323.6,153H334.03M318.62,153.5H323.6M323.6,153.5H335.16M318.85,154H323.6M323.6,154H334.09M323.6,154.5H332.73M318.99,155H323.6M323.6,155H334.18M318.66,155.5H323.6M323.6,155.5H332.96M319.43,157H323.6M323.6,157H332.77M319.21,157.5H323.6M319.59,158.5H323.6M323.6,158.5H331.6M323.6,159.5H330.33M320.71,160H323.6M320.68,160.5H323.6M320.62,161H323.6M323.6,161H329.48M320.53,161.5H323.6M323.6,161.5H329.63M323.6,162H329.39M321.68,165H323.6M323.6,165H327.48M322.13,166H323.6M323.6,166H326.93M322.35,167H323.6M323.6,167H326.01M322.55,167.5H323.6M323.6,168H325.56M323.6,168.5H325.46M322.86,169H323.6M322.96,169.5H323.6M323.6,170H324.8M323.17,170.5H323.6M323.26,171H323.6M323.6,171.5H324.06M323.6,172.5H323.73" stroke="#000" stroke-width="0.7" fill="none"/>
<path d="M323.6,135.5V172" stroke="#000" stroke-width="2.24"/>
<g fill="#000"><rect x="321.87" y="132.68" width="1" height="1"/><rect x="322.29" y="132.66" width="1" height="1"/><rect x="323.57" y="133.26" width="1" height="1"/><rect x="324.33" y="175.07" width="1" height="1"/><rect x="322.22" y="173.5" width="1" height="1"/></g>
<path d="M317.9,137H321.1M317.9,137.5H321.1M317,138H322.18M316.06,138.5H322.97M314.33,139H324.53M313.96,139.5H325.17M312.27,140H328.49M310.31,140.5H327.37M311.58,141H328.14M309.83,141.5H329.06M305.59,142H330.4M305.53,142.5H335.85M306.07,143H336.01M302.99,143.5H335.69M306.3,144H334.19M308.69,144.5H333.08M306.82,145H335.13M305.42,145.5H330.06M305.98,146H329.74M306.67,146.5H332.31M308.79,147H332.49M307.27,147.5H330.9M309.11,148H331.08M310.88,148.5H328.06M311.11,149H330.82M309.85,149.5H329.52M309.33,150H327.34M309.89,150.5H328.05M312.13,151H329.11M310.71,151.5H326.87M313.55,152H327.95M313.95,152.5H325.67M313.45,153H325.88M314.13,153.5H326.34M314.83,154H325.29M314.2,154.5H325.35M314.09,155H324.9M315.25,155.5H324.83M315.64,156H324.16M315.81,156.5H323.58M316.58,157H323.08M316.23,157.5H322.27M316.91,158H322.18M316.95,158.5H321.86M317.64,159H321.48M317.9,159.5H321.1M317.9,160H321.1M317.9,160.5H321.1M317.9,161H321.1M317.9,161.5H321.1M317.9,162H321.1" stroke="#000" stroke-width="0.95" fill="none"/>
<path d="M317.86,137.5H319.5M319.5,137.5H321.2M316.5,138H319.5M319.5,139H325.68M319.5,139.5H326.96M319.5,140.5H330.91M307.55,141H319.5M304.29,141.5H319.5M302.83,142H319.5M319.5,142H334.53M319.5,145H337.46M304.8,146H319.5M319.5,146H336.16M319.5,146.5H334.37M319.5,149H331.4M306.81,149.5H319.5M319.5,149.5H332.65M319.5,150.5H331.53M308.51,151H319.5M319.5,151H330.68M310.28,152.5H319.5M319.5,152.5H327.67M311.42,153.5H319.5M313.79,155H319.5M319.5,155H326.61M315.9,157.5H319.5M316.7,158.5H319.5M319.5,158.5H322.47M319.5,160.5H320.71M319.14,161.5H319.5M319.5,161.5H319.85" stroke="#000" stroke-width="0.7" fill="none"/>
<path d="M319.5,138V161" stroke="#000" stroke-width="2.24"/>
<g fill="#000"><rect x="317.57" y="136.45" width="1" height="1"/><rect x="318.47" y="135.43" width="1" height="1"/><rect x="319.44" y="135.65" width="1" height="1"/><rect x="320.32" y="163.98" width="1" height="1"/><rect x="318.61" y="163.6" width="1" height="1"/></g>
<line x1="268.7" y1="199.5" x2="323.3" y2="145.7" stroke="#1515e6" stroke-width="1.6"/>
<g fill="#ff1010"><rect x="268" y="194.4" width="1.4" height="1.8"/><rect x="268" y="201.9" width="1.4" height="1.8"/><rect x="289.3" y="177.1" width="1.4" height="1.8"/><rect x="289.3" y="181.4" width="1.4" height="1.8"/><rect x="314.7" y="149.9" width="1.4" height="1.8"/><rect x="322.9" y="142.1" width="1.4" height="1.8"/><rect x="322.9" y="158.6" width="1.4" height="1.8"/></g>
<path d="M375.4,186.6H378.6M375.4,187.1H378.6M375.4,187.6H378.6M375.4,188.1H378.6M375.4,188.6H378.6M375.4,189.1H378.6M375.4,189.6H378.6M375.35,190.1H378.68M374.97,190.6H378.9M374.91,191.1H379.4M374.36,191.6H379.6M373.42,192.1H380.49M372.87,192.6H380.37M371.92,193.1H380.6M371.78,193.6H381.58M371.34,194.1H382.45M370.29,194.6H383.48M369.82,195.1H382.66M370.28,195.6H385.52M367.4,196.1H383.88M369.39,196.6H386.95M368.36,197.1H387.82M367.38,197.6H388.72M367.91,198.1H386.67M366.24,198.6H387.91M364.48,199.1H389.14M363.17,199.6H391.27M364.77,200.1H389.86M363.51,200.6H393.73M363.21,201.1H392.17M357.81,201.6H396.18M360.36,202.1H396.83M363.15,202.6H392.42M361.42,203.1H394.23M361.24,203.6H391.28M361.44,204.1H388.84M365.52,204.6H389.09M364.72,205.1H388.52M367.44,205.6H386.57M369.44,206.1H384.45M371.62,206.6H383.56M373.12,207.1H380.32" stroke="#000" stroke-width="0.95" fill="none"/>
<path d="M377,186.6H377M377,186.6H377M376.76,187.6H377M374.1,191.1H377M377,191.1H379.62M377,192.1H380.71M377,193.1H381.54M371.17,193.6H377M369.3,195.1H377M368.49,195.6H377M367.44,196.1H377M377,196.1H385.74M365.63,197.1H377M377,197.1H387.67M377,198.1H388.07M377,198.6H389.59M362.52,199.1H377M377,199.6H393.32M359.54,200.6H377M358.55,201.1H377M357.86,201.6H377M358.93,203.6H377M377,204.1H392.02M362.69,204.6H377M365.05,205.1H377M377,205.1H388.95M377,206.1H386.48M377,206.6H384.98M372.5,207.1H377" stroke="#000" stroke-width="0.7" fill="none"/>
<path d="M377,187.6V206.5" stroke="#000" stroke-width="2.24"/>
<g fill="#000"><rect x="376.06" y="185.58" width="1" height="1"/><rect x="375.49" y="185.87" width="1" height="1"/><rect x="376.71" y="184.56" width="1" height="1"/><rect x="377.37" y="209.33" width="1" height="1"/><rect x="377.71" y="208.77" width="1" height="1"/></g>
<path d="M396.4,168H399.6M396.4,168.5H399.6M396.4,169H399.6M396.4,169.5H399.6M396.18,170H399.78M395.37,170.5H400.35M394.81,171H401.05M394.1,171.5H401.46M394.04,172H401.49M393.11,172.5H401.94M393.03,173H402.74M392.51,173.5H403.12M392.57,174H402.99M392.48,174.5H405.48M391.49,175H405.64M389.27,175.5H406.14M390.51,176H406.28M390.05,176.5H406.95M388.75,177H408.56M388.46,177.5H409.6M386.43,178H408.83M387.95,178.5H408.49M385.33,179H411.64M383.84,179.5H408.35M386.91,180H409.34M387,180.5H411.47M386.6,181H411.36M382.23,181.5H409.77M381.33,182H413.43M384.49,182.5H412.95M383.8,183H415.21M380.7,183.5H411.46M385.63,184H414.61M382.11,184.5H412.31M385.69,185H409.06M385.52,185.5H410.39M388.41,186H408.92M389.45,186.5H406.83M390.06,187H405.77M392.05,187.5H405.87M392.49,188H402.74M392.58,188.5H402.12M395.06,189H401.08M396.07,189.5H399.64" stroke="#000" stroke-width="0.95" fill="none"/>
<path d="M398,168H398M397.52,168.5H398M398,168.5H398.52M398,171H401.41M393.75,171.5H398M398,173.5H404.85M391.1,174H398M390.03,174.5H398M388.12,175H398M398,175H406.19M387.91,175.5H398M398,175.5H407.77M383.16,178.5H398M398,179H412.3M379.52,180.5H398M378.53,181H398M398,181.5H417.2M379.58,182H398M375.9,183H398M398,183H420M379.04,184H398M398,184H418.19M380.15,184.5H398M380.87,185H398M387.24,186.5H398M398,186.5H408.66M398,187H409.51M389.46,187.5H398M390.24,188H398M398,188.5H403.85M398,189H402.03" stroke="#000" stroke-width="0.7" fill="none"/>
<path d="M398,169V188.9" stroke="#000" stroke-width="2.24"/>
<g fill="#000"><rect x="398.16" y="166.2" width="1" height="1"/><rect x="397.14" y="166.81" width="1" height="1"/><rect x="396.28" y="167.5" width="1" height="1"/><rect x="398.16" y="192.52" width="1" height="1"/><rect x="397.42" y="192.17" width="1" height="1"/></g>
<path d="M421.4,146.5H424.6M421.4,147H424.6M421.4,147.5H424.6M421.34,148H424.6M420.61,148.5H425.03M420.09,149H425.33M418.49,149.5H426.48M417.87,150H426.27M418.12,150.5H427.96M417.36,151H427.91M417.71,151.5H428.07M416.88,152H429.87M415.89,152.5H429.1M413.35,153H430.9M415.25,153.5H431.17M414.38,154H432.21M414.6,154.5H430.86M410.45,155H430.95M411.45,155.5H430.24M413.5,156H431.59M413.19,156.5H433.09M412.15,157H432.02M414,157.5H432.5M413.49,158H432.17M414.06,158.5H432.04M413.94,159H431.49M414.26,159.5H430.05M413.88,160H430.3M415.22,160.5H429.55M413.73,161H429.83M416.27,161.5H430.08M414.29,162H430.02M415.31,162.5H428.75M415.63,163H427.82M417.16,163.5H428.2M415.67,164H428.42M417.62,164.5H427.78M416.5,165H427.36M416.49,165.5H427.85M417.68,166H427.74M417.03,166.5H428.02M417.68,167H426.57M419.32,167.5H427.15M419.29,168H426.99M418.82,168.5H426.58M419.01,169H425.65M420.1,169.5H425.65M420,170H425.08M420.67,170.5H424.99M420.84,171H424.84M421.27,171.5H424.6M421.4,172H424.6M421.4,172.5H424.6M421.4,173H424.6M421.4,173.5H424.6" stroke="#000" stroke-width="0.95" fill="none"/>
<path d="M421.41,147.5H423M423,148H425.17M417.04,150H423M423,150H427.72M423,150.5H427.87M423,151.5H429.27M423,153H432.53M412.97,153.5H423M410.68,154H423M409.57,154.5H423M409.87,155H423M423,155H433.69M423,155.5H433.72M411.21,156.5H423M411.52,158.5H423M423,159H432.82M411.23,159.5H423M412.86,160H423M423,160H431.13M423,160.5H430.97M413.19,161H423M423,161H431.36M414.11,162.5H423M423,163H430.35M414.46,163.5H423M415.77,164H423M423,164H429.24M414.75,164.5H423M423,164.5H429.46M423,165H429.19M415.79,165.5H423M416.59,167H423M417.64,167.5H423M417.41,168H423M423,168H427.51M417.92,168.5H423M423,168.5H426.92M423,169H426.89M419.56,170H423M419.48,170.5H423M420.03,171H423M423,171.5H425.2M420.78,172H423M423,172.5H424.44M423,173H424.01M423,173.5H423.43" stroke="#000" stroke-width="0.7" fill="none"/>
<path d="M423,147.5V172.8" stroke="#000" stroke-width="2.24"/>
<g fill="#000"><rect x="422.92" y="145.67" width="1" height="1"/><rect x="421.19" y="144.05" width="1" height="1"/><rect x="423.54" y="145.66" width="1" height="1"/><rect x="423.78" y="174.97" width="1" height="1"/><rect x="421.32" y="176.33" width="1" height="1"/></g>
<path d="M430.1,138.5H432.9M428.21,139H436.23M424.91,139.5H438.02M424,140H441.16M421.17,140.5H443.08M420.37,141H446.23M416.44,141.5H444.37M416.24,142H447.58M416.53,142.5H448.9M414.65,143H447.86M413.37,143.5H446.1M415.22,144H447.43M417.16,144.5H443.2M418.71,145H444.29M421.26,145.5H442.43M423.48,146H438.41M426.64,146.5H436.62M428.6,147H433.9" stroke="#000" stroke-width="0.95" fill="none"/>
<path d="M431.5,138.5H431.5M431.5,138.5H431.5M426.52,139H431.5M431.5,139H436.78M431.5,139.5H439.31M431.5,140H443.06M419.22,140.5H431.5M431.5,142H448.65M410.76,143H431.5M431.5,143H454.06M411.15,143.5H431.5M431.5,143.5H450.82M415.76,144.5H431.5M431.5,144.5H446.75M417.91,145H431.5M418.23,145.5H431.5M422.8,146H431.5M431.5,146H441.87M423.94,146.5H431.5M431.5,146.5H438.34M428.35,147H431.5M431.5,147H434.88" stroke="#000" stroke-width="0.7" fill="none"/>
<path d="M431.5,139.5V146.3" stroke="#000" stroke-width="1.96"/>
<g fill="#000"><rect x="430.81" y="137.99" width="1" height="1"/><rect x="430.49" y="136.6" width="1" height="1"/><rect x="429.99" y="136.6" width="1" height="1"/><rect x="431.57" y="148.59" width="1" height="1"/><rect x="430.19" y="148.68" width="1" height="1"/></g>
<path d="M429.9,150H433.1M429.9,150.5H433.1M429.9,151H433.1M429.9,151.5H433.1M429.7,152H433.1M429.27,152.5H433.1M429.63,153H433.6M428.8,153.5H433.73M428.15,154H434.06M427.66,154.5H434.45M428.33,155H434.01M427.41,155.5H434.47M427.35,156H435.66M427.14,156.5H435.74M426.56,157H436.2M425.53,157.5H435.32M426.03,158H436.66M425.94,158.5H436.08M425.54,159H437.25M423.07,159.5H436.59M423.35,160H436.61M424.91,160.5H437.86M424.36,161H436.93M424.93,161.5H436.85M425.6,162H437.19M424.88,162.5H436.99M426.01,163H436.74M426.25,163.5H436.99M426.34,164H435.62M426.94,164.5H435.12M426.07,165H436.31M426.49,165.5H435.52M426.57,166H435.02M427,166.5H435.12M427.9,167H434.71M427.08,167.5H434.87M427.98,168H434.56M428.5,168.5H433.89M428.05,169H433.86M428.69,169.5H434.23M428.27,170H433.71M429.22,170.5H433.39M429.69,171H433.19M429.29,171.5H433.24M429.9,172H433.1M429.9,172.5H433.1M429.9,173H433.1M429.9,173.5H433.1M429.9,174H433.1" stroke="#000" stroke-width="0.95" fill="none"/>
<path d="M431.5,150H431.5M430.99,150.5H431.5M430.17,151.5H431.5M429.79,152H431.5M431.5,152H433.07M428.73,153H431.5M428.09,153.5H431.5M431.5,153.5H434.34M427.66,154.5H431.5M426.65,155.5H431.5M431.5,155.5H435.55M425.37,156.5H431.5M424.43,157H431.5M423.92,157.5H431.5M423.1,158.5H431.5M431.5,158.5H438.23M423.06,159H431.5M431.5,159.5H438.23M431.5,161H439.29M431.5,162.5H437.83M423.19,163H431.5M431.5,163H438.11M431.5,163.5H437.03M431.5,165H437.36M425.48,165.5H431.5M431.5,165.5H436.36M425.93,166H431.5M431.5,166H436.78M425.15,166.5H431.5M431.5,166.5H436.39M431.5,167.5H435.43M431.5,168H435.06M427.82,169.5H431.5M431.5,169.5H434.4M431.5,170.5H434.02M428.74,171H431.5M429.55,172H431.5M431.5,172H433.21M429.8,172.5H431.5M430.83,173.5H431.5M431.5,174H431.5" stroke="#000" stroke-width="0.7" fill="none"/>
<path d="M431.5,151V173" stroke="#000" stroke-width="2.24"/>
<g fill="#000"><rect x="431.5" y="148.83" width="1" height="1"/><rect x="431.06" y="148.74" width="1" height="1"/><rect x="429.52" y="148.84" width="1" height="1"/><rect x="431.58" y="175.7" width="1" height="1"/><rect x="431.94" y="176.32" width="1" height="1"/></g>
<path d="M425.65,148H428.85M425.65,148.5H428.85M425.42,149H428.85M425.27,149.5H428.85M423.72,150H429.51M422.61,150.5H429.64M422.26,151H430.77M421.63,151.5H431.21M421.54,152H430.7M418.87,152.5H431.34M420.07,153H431.84M418.3,153.5H432.19M417.44,154H433.57M415.03,154.5H432.76M417.11,155H433.23M413.99,155.5H434.71M414.05,156H433.93M412.61,156.5H434.09M416.1,157H434.45M417.58,157.5H435.59M416.43,158H434.68M417.05,158.5H434.09M416.05,159H433.97M417.4,159.5H433.37M417.42,160H432.84M418.28,160.5H433.77M417.38,161H433.24M417.67,161.5H431.67M417.9,162H432.69M418.83,162.5H432.16M419.56,163H431.07M421.42,163.5H431.94M419.63,164H431.5M421.34,164.5H431.16M421.79,165H430.76M421.49,165.5H430.71M422.55,166H429.7M423.13,166.5H430.24M423.42,167H429.24M423.45,167.5H429.04M424.26,168H429.24M424.79,168.5H428.85M425.65,169H428.85M425.65,169.5H428.85M425.65,170H428.85" stroke="#000" stroke-width="0.95" fill="none"/>
<path d="M426.29,148.5H427.25M423.57,150H427.25M427.25,150.5H430.74M427.25,151H430.82M419.39,152H427.25M417.56,152.5H427.25M427.25,153H433.09M415.26,153.5H427.25M427.25,154.5H434.88M413.72,155H427.25M427.25,156H437.4M411.06,156.5H427.25M413.61,158H427.25M412.36,159H427.25M427.25,159H434.83M414.43,159.5H427.25M427.25,159.5H436.12M415.25,161H427.25M417.41,161.5H427.25M427.25,162.5H433.41M419,164.5H427.25M421.34,165.5H427.25M427.25,165.5H431.01M421.86,166.5H427.25M427.25,166.5H430.36M422.68,167H427.25M422.71,167.5H427.25M427.25,168H429.62M425.15,169H427.25M427.25,169H428.38M426.06,169.5H427.25M427.25,169.5H427.98" stroke="#000" stroke-width="0.7" fill="none"/>
<path d="M427.25,149V169" stroke="#000" stroke-width="2.24"/>
<g fill="#000"><rect x="427.95" y="145.61" width="1" height="1"/><rect x="427.72" y="146.79" width="1" height="1"/><rect x="425.76" y="147.04" width="1" height="1"/><rect x="425.77" y="171.29" width="1" height="1"/><rect x="428.09" y="172.53" width="1" height="1"/></g>
<line x1="376.7" y1="200.3" x2="431.3" y2="147.3" stroke="#1515e6" stroke-width="1.6"/>
<g fill="#ff1010"><rect x="376.3" y="193.6" width="1.4" height="1.8"/><rect x="376.3" y="200.9" width="1.4" height="1.8"/><rect x="397.3" y="180.6" width="1.4" height="1.8"/><rect x="422.3" y="151.4" width="1.4" height="1.8"/><rect x="422.3" y="161.1" width="1.4" height="1.8"/><rect x="430.8" y="143.6" width="1.4" height="1.8"/><rect x="430.8" y="161.6" width="1.4" height="1.8"/></g>
<path d="M483.1,192.3H486.3M483.1,192.8H486.3M483.1,193.3H486.3M483.1,193.8H486.3M483.1,194.3H486.3M483.1,194.8H486.35M482.42,195.3H486.86M482.05,195.8H487.52M481.03,196.3H488.43M480.39,196.8H489.33M479.72,197.3H488.87M478.05,197.8H490.34M477.17,198.3H492.01M476.74,198.8H493.31M476.34,199.3H493.22M477.27,199.8H492.99M475.44,200.3H493.39M473.19,200.8H496.8M471.12,201.3H495.35M470.24,201.8H499.63M472.34,202.3H501.2M467.44,202.8H497.69M466.85,203.3H503.23M464.28,203.8H503.16M466.1,204.3H500.43M467.9,204.8H501.6M468.24,205.3H502.9M471.95,205.8H501.71M468.68,206.3H496.56M471.98,206.8H498.37M471.91,207.3H495.49M472.26,207.8H497.21M474.87,208.3H494.58M477.76,208.8H494M476.54,209.3H492.55M479.33,209.8H490.11M481.6,210.3H488.36" stroke="#000" stroke-width="0.95" fill="none"/>
<path d="M484.7,192.8H484.87M484.19,193.3H484.7M484.7,193.3H485.2M483.82,193.8H484.7M484.7,193.8H485.69M483.26,194.3H484.7M484.7,194.3H486.28M484.7,194.8H486.73M482.09,195.3H484.7M484.7,195.3H487.1M481.26,195.8H484.7M484.7,196.8H489.96M475.81,199.3H484.7M484.7,199.3H495.21M473.68,199.8H484.7M484.7,200.8H498.26M469.73,201.3H484.7M468.8,201.8H484.7M466.48,202.8H484.7M484.7,202.8H501.67M466.68,203.3H484.7M466.15,203.8H484.7M484.7,203.8H505.26M484.7,204.8H503.95M470.54,206.3H484.7M469.86,206.8H484.7M484.7,206.8H498.68M470.87,207.3H484.7M484.7,207.8H496.27M484.7,208.3H496.13M475.27,208.8H484.7M484.7,209.3H492.99" stroke="#000" stroke-width="0.7" fill="none"/>
<path d="M484.7,193.3V209.7" stroke="#000" stroke-width="2.24"/>
<g fill="#000"><rect x="485.1" y="191.65" width="1" height="1"/><rect x="484.21" y="190.02" width="1" height="1"/><rect x="485.07" y="190.79" width="1" height="1"/><rect x="483.29" y="213.47" width="1" height="1"/><rect x="485.31" y="211.23" width="1" height="1"/></g>
<path d="M504.2,171.4H507.4M504.2,171.9H507.4M504.02,172.4H507.91M502.6,172.9H507.99M502,173.4H508.79M501.53,173.9H510.32M500.08,174.4H511.22M498.85,174.9H511.8M497.39,175.4H511.79M499.12,175.9H512.75M495.74,176.4H516.04M497.55,176.9H515.47M493,177.4H515.85M496.11,177.9H517.82M494.52,178.4H517.57M494.28,178.9H518.68M493.7,179.4H521.73M487.97,179.9H520.74M487.93,180.4H520.29M489.98,180.9H523.15M491.69,181.4H523.82M489.43,181.9H519.57M490.22,182.4H519.66M491.91,182.9H520.25M493.62,183.4H518.79M496.42,183.9H516.07M496.03,184.4H515.82M496.75,184.9H514.33M498.74,185.4H513.97M499.87,185.9H510.39M501.36,186.4H509.61M502.79,186.9H508.68M504.2,187.4H507.4" stroke="#000" stroke-width="0.95" fill="none"/>
<path d="M505.8,171.4H505.8M505.8,171.9H506.94M505.8,172.9H509.23M500.41,173.9H505.8M505.8,173.9H512.05M505.8,174.9H513.07M495.81,175.4H505.8M505.8,175.4H515.74M505.8,176.4H518.41M494.29,176.9H505.8M505.8,176.9H519.68M491.39,177.9H505.8M490.13,178.4H505.8M505.8,178.4H520.5M486.76,178.9H505.8M505.8,178.9H522.47M488.86,179.4H505.8M505.8,179.4H525.68M505.8,179.9H526.88M505.8,180.4H526.3M483.51,180.9H505.8M505.8,180.9H525.3M486.37,181.9H505.8M505.8,182.4H525.58M488.59,182.9H505.8M489.43,183.4H505.8M505.8,183.4H521.03M505.8,183.9H518.58M494.97,184.9H505.8M505.8,184.9H515.25M505.8,187.4H506.66" stroke="#000" stroke-width="0.7" fill="none"/>
<path d="M505.8,172.4V186.5" stroke="#000" stroke-width="2.24"/>
<g fill="#000"><rect x="505.12" y="169.58" width="1" height="1"/><rect x="504.73" y="170.12" width="1" height="1"/><rect x="503.96" y="170.12" width="1" height="1"/><rect x="504.12" y="190.17" width="1" height="1"/><rect x="506.38" y="190.18" width="1" height="1"/></g>
<path d="M529.4,147.3H532.6M529.4,147.8H532.6M529.16,148.3H532.6M528.74,148.8H533.39M527.97,149.3H534.13M526.99,149.8H533.97M525.87,150.3H535.27M525.17,150.8H536.23M523.52,151.3H535.93M521.91,151.8H536.58M523.14,152.3H539.19M523.05,152.8H539.53M518.94,153.3H538.84M517.89,153.8H541.17M517.67,154.3H540.94M518.21,154.8H542.39M516.04,155.3H543.41M518.2,155.8H541.05M519.23,156.3H542.37M517.08,156.8H542.42M520.14,157.3H539.92M519.24,157.8H540.48M519.77,158.3H539.69M520.33,158.8H538.26M521.78,159.3H538.99M522.43,159.8H538.29M521.67,160.3H537.92M523.45,160.8H537.58M522.26,161.3H538.45M521.97,161.8H537.44M521.87,162.3H538.51M523.08,162.8H537.48M522.7,163.3H536.47M522.81,163.8H536.21M523.12,164.3H535.89M524.65,164.8H535.84M525.28,165.3H535.37M524.85,165.8H535.51M525.24,166.3H535.65M525.92,166.8H535.04M527.37,167.3H533.94M526.47,167.8H533.64M527.89,168.3H534.29M528.07,168.8H533.57M528.36,169.3H533.41M528.91,169.8H532.6M529.38,170.3H532.6M529.4,170.8H532.6M529.4,171.3H532.6" stroke="#000" stroke-width="0.95" fill="none"/>
<path d="M531,147.3H531M531,147.3H531M531,147.8H531.89M528.11,148.8H531M531,148.8H533.73M531,149.3H534.68M525.86,149.8H531M525.23,150.3H531M522.39,151.3H531M531,151.8H538.54M520.35,152.3H531M531,152.3H540.27M519.85,152.8H531M531,152.8H540.21M517.46,153.3H531M531,153.3H541.92M516.22,153.8H531M515.41,154.3H531M515.32,154.8H531M531,155.3H543.89M515.57,155.8H531M515.65,156.8H531M515.17,157.3H531M515.83,158.3H531M531,158.8H541.71M518.79,159.3H531M531,159.8H541.82M531,160.3H540.46M520.61,161.3H531M531,161.8H539.57M519.63,162.3H531M531,162.3H538.89M522.12,163.8H531M531,163.8H538.21M522.94,164.8H531M531,165.3H537.11M523.86,165.8H531M531,165.8H536.83M531,166.3H535.97M525.5,167.3H531M531,167.3H534.96M525.8,167.8H531M531,168.8H534.09M531,169.3H533.37M528.18,169.8H531M531,169.8H532.94M531,170.3H532.61M531,170.8H531.92" stroke="#000" stroke-width="0.7" fill="none"/>
<path d="M531,148.3V170.4" stroke="#000" stroke-width="2.24"/>
<g fill="#000"><rect x="530.95" y="145.1" width="1" height="1"/><rect x="530.23" y="146.45" width="1" height="1"/><rect x="529.76" y="145.34" width="1" height="1"/><rect x="529.36" y="173.42" width="1" height="1"/><rect x="529.9" y="172.43" width="1" height="1"/></g>
<path d="M538.1,135.8H540.5M532.36,136.3H545.33M532.15,136.8H547.59M530.6,137.3H548.98M526.12,137.8H550M526.22,138.3H552.53M523.69,138.8H551.25M525.33,139.3H554.86M530.27,139.8H549.23M531.02,140.3H548.78M532.47,140.8H545.68M534.82,141.3H543.92" stroke="#000" stroke-width="0.95" fill="none"/>
<path d="M539.3,135.8H539.3M539.3,135.8H539.3M539.3,136.3H545.95M539.3,136.8H548.81M539.3,137.3H552.64M525.06,137.8H539.3M539.3,137.8H553.76M525.91,138.3H539.3M522.4,138.8H539.3M539.3,138.8H554.59M539.3,139.3H553.12M525.43,139.8H539.3M529.32,140.3H539.3M539.3,140.3H549.83M533.77,141.3H539.3M539.3,141.3H545.19" stroke="#000" stroke-width="0.7" fill="none"/>
<path d="M539.3,136.8V140.6" stroke="#000" stroke-width="1.68"/>
<g fill="#000"><rect x="538.13" y="135.21" width="1" height="1"/><rect x="540.17" y="134.46" width="1" height="1"/><rect x="540.28" y="133.91" width="1" height="1"/><rect x="539.31" y="143.35" width="1" height="1"/><rect x="538.49" y="142.34" width="1" height="1"/></g>
<path d="M538.1,141.6H540.5M532.57,142.1H545.19M529.79,142.6H547.65M528.49,143.1H551.36M528.47,143.6H554.05M526.8,144.1H551.22M527.65,144.6H552.21M527.23,145.1H553.02M529.33,145.6H549.69M529.61,146.1H546.93M531.94,146.6H545.45M537.17,147.1H542.12" stroke="#000" stroke-width="0.95" fill="none"/>
<path d="M539.3,141.6H539.3M529.3,142.6H539.3M539.3,142.6H549.47M527.99,143.1H539.3M539.3,143.1H551.88M525.55,143.6H539.3M523.09,144.1H539.3M539.3,144.1H557M524.54,144.6H539.3M539.3,144.6H553.89M524.16,145.1H539.3M528.33,145.6H539.3M539.3,145.6H551.88M528.5,146.1H539.3M539.3,146.1H550.15M531.52,146.6H539.3M539.3,146.6H546.95M536.48,147.1H539.3M539.3,147.1H542.7" stroke="#000" stroke-width="0.7" fill="none"/>
<path d="M539.3,142.6V146.2" stroke="#000" stroke-width="1.68"/>
<g fill="#000"><rect x="538.23" y="140.9" width="1" height="1"/><rect x="538.32" y="139.73" width="1" height="1"/><rect x="538.45" y="139.79" width="1" height="1"/><rect x="537.35" y="150.1" width="1" height="1"/><rect x="538.95" y="148.61" width="1" height="1"/></g>
<path d="M537.7,150H540.9M537.7,150.5H540.9M537.7,151H540.9M537.7,151.5H540.9M537.7,152H540.9M537.7,152.5H540.9M537.7,153H540.9M537.7,153.5H540.9M537.7,154H541.01M537.2,154.5H541.49M537.23,155H541.08M536.76,155.5H541.29M536.56,156H542.17M536.43,156.5H541.61M536.45,157H541.82M536.32,157.5H542.19M536.55,158H542.33M536.29,158.5H543.03M536.18,159H542.57M535,159.5H543.7M535.42,160H543.65M535.09,160.5H544.17M535.24,161H544.53M534.39,161.5H543.32M534.72,162H543.44M534.29,162.5H544.74M534.96,163H543.81M534.66,163.5H544.23M535.82,164H543.3M535.82,164.5H542.71M536.46,165H542.9M536.53,165.5H542.05M536.52,166H542.59M536.44,166.5H542.26M536.82,167H541.73M537.57,167.5H541.56M537.7,168H540.9M537.7,168.5H540.9M537.7,169H540.9M537.7,169.5H540.9M537.7,170H540.9" stroke="#000" stroke-width="0.95" fill="none"/>
<path d="M539.03,150.5H539.3M539.3,151H539.86M537.32,153.5H539.3M537.22,154H539.3M536.52,155H539.3M539.3,155.5H542.02M536.03,156H539.3M535.78,156.5H539.3M539.3,156.5H542.41M535.96,157H539.3M539.3,157H542.6M535.7,157.5H539.3M534.98,158H539.3M539.3,158H543.39M534.29,159H539.3M539.3,159H544.19M539.3,160.5H544.61M533.76,161H539.3M539.3,161.5H544.94M539.3,162H545.8M534.13,163H539.3M534.02,164H539.3M539.3,165H543.86M539.3,165.5H543.06M539.3,166.5H542.69M539.3,167.5H541.75M539.3,168H541.13M539.3,168.5H540.85M539.3,169H540.46M539.3,170H539.3M539.3,170H539.3" stroke="#000" stroke-width="0.7" fill="none"/>
<path d="M539.3,151V169" stroke="#000" stroke-width="2.24"/>
<g fill="#000"><rect x="537.34" y="148.08" width="1" height="1"/><rect x="539.29" y="148.79" width="1" height="1"/><rect x="538.64" y="148.99" width="1" height="1"/><rect x="539.33" y="172.79" width="1" height="1"/><rect x="539.68" y="172.83" width="1" height="1"/></g>
<path d="M533.55,149H536.75M533.55,149.5H536.75M533.36,150H536.75M532.25,150.5H537.46M531.21,151H538.35M530.93,151.5H538.35M530.31,152H539.36M527.94,152.5H540.73M526.33,153H539.77M525.38,153.5H540.49M526.3,154H542.19M522.97,154.5H541.46M522.53,155H543.78M520.97,155.5H544.37M519.5,156H544.66M523.51,156.5H545.87M522.42,157H543.74M522.39,157.5H544.18M523.14,158H544.8M522.76,158.5H541.68M523.45,159H543.66M524.29,159.5H542.6M525.71,160H541.26M526.04,160.5H541.9M525.5,161H540.83M527.79,161.5H540.5M526.91,162H539.87M527.62,162.5H539.65M527.74,163H540.2M528.96,163.5H539.74M528.64,164H539.39M530.34,164.5H538.98M530.35,165H538.4M531.91,165.5H537.55M532.45,166H537.45M532.81,166.5H536.87M533.31,167H536.75M533.55,167.5H536.75M533.55,168H536.75" stroke="#000" stroke-width="0.95" fill="none"/>
<path d="M535.15,149H535.15M535.15,149H535.15M528.97,151.5H535.15M535.15,151.5H539.54M535.15,152.5H541.95M525.8,153H535.15M535.15,153H543.38M524.42,153.5H535.15M522.37,154H535.15M521.11,155H535.15M535.15,155H546.57M535.15,155.5H548.01M517.86,156.5H535.15M518.64,157H535.15M535.15,157.5H546.44M535.15,158.5H546.48M521.09,159H535.15M535.15,159H546.32M523.36,160.5H535.15M535.15,160.5H544.5M523.5,161H535.15M535.15,161H544.16M525.69,162H535.15M524.68,162.5H535.15M535.15,162.5H542.54M525.66,163H535.15M535.15,164H540.6M535.15,164.5H539.75M535.15,165H539.44M530.21,165.5H535.15M530.46,166H535.15M535.15,166H538.52M531.61,166.5H535.15M535.15,166.5H537.73M535.15,168H535.15" stroke="#000" stroke-width="0.7" fill="none"/>
<path d="M535.15,150V167" stroke="#000" stroke-width="2.24"/>
<g fill="#000"><rect x="533.48" y="147.86" width="1" height="1"/><rect x="535.57" y="148" width="1" height="1"/><rect x="535.1" y="147.42" width="1" height="1"/><rect x="534.42" y="170.68" width="1" height="1"/><rect x="534.86" y="170.47" width="1" height="1"/></g>
<line x1="484.7" y1="201.1" x2="539.3" y2="146.5" stroke="#1515e6" stroke-width="1.6"/>
<g fill="#ff1010"><rect x="484" y="198.6" width="1.4" height="1.8"/><rect x="484" y="202.6" width="1.4" height="1.8"/><rect x="505.1" y="179.4" width="1.4" height="1.8"/><rect x="530.3" y="151.6" width="1.4" height="1.8"/><rect x="530.3" y="157.1" width="1.4" height="1.8"/><rect x="538.6" y="138.6" width="1.4" height="1.8"/><rect x="538.6" y="144.1" width="1.4" height="1.8"/><rect x="538.6" y="164.4" width="1.4" height="1.8"/></g>
<path d="M591.1,193.5H594.3M591.1,194H594.3M591.1,194.5H594.3M591.1,195H594.3M591.1,195.5H594.3M591.1,196H594.3M590.49,196.5H594.94M589.55,197H596M589.26,197.5H595.65M587.97,198H597.34M587.08,198.5H596.71M586.74,199H599.31M585.36,199.5H599.28M584.73,200H598.77M583.89,200.5H599.62M584.3,201H601.08M584.37,201.5H602.57M584.01,202H604.53M581.24,202.5H604.19M580.16,203H603.77M578.6,203.5H606.02M579.02,204H608.59M575.42,204.5H607.47M575.52,205H608.9M581.03,205.5H605.46M579.18,206H606.86M581.44,206.5H602.42M581.78,207H605.29M583.47,207.5H601.17M584.03,208H600.74M585.43,208.5H600.99M585.62,209H599.79M586.93,209.5H598.54M588.6,210H597.28M588.81,210.5H595.78M589.89,211H594.98M591.1,211.5H594.3M591.1,212H594.3" stroke="#000" stroke-width="0.95" fill="none"/>
<path d="M592.7,193.5H592.7M592.53,194H592.7M592.21,194.5H592.7M592.7,194.5H593.15M592.7,195H593.5M589.96,196.5H592.7M592.7,196.5H595.14M589.58,197H592.7M588.98,197.5H592.7M592.7,197.5H596.2M592.7,198H597.15M592.7,198.5H598.36M585.61,199.5H592.7M592.7,199.5H600.39M592.7,200.5H601.48M581.34,201.5H592.7M592.7,201.5H603.56M592.7,202.5H605.31M592.7,203H605.73M577.35,203.5H592.7M592.7,203.5H608.15M592.7,204H608.53M576.28,205.5H592.7M581.13,207H592.7M592.7,207H604.72M580.54,207.5H592.7M592.7,208H602.93M592.7,208.5H601.03M587.16,210H592.7M592.7,210.5H596.99M592.7,211H595.35" stroke="#000" stroke-width="0.7" fill="none"/>
<path d="M592.7,194.5V211" stroke="#000" stroke-width="2.24"/>
<g fill="#000"><rect x="593.05" y="191.31" width="1" height="1"/><rect x="592.99" y="192.04" width="1" height="1"/><rect x="591.41" y="191.96" width="1" height="1"/><rect x="591.06" y="213.15" width="1" height="1"/><rect x="592.2" y="214.3" width="1" height="1"/></g>
<path d="M612.1,162.6H615.3M612.1,163.1H615.3M612.1,163.6H615.3M612.1,164.1H615.3M612.1,164.6H615.3M612.1,165.1H615.3M612.1,165.6H615.3M612.1,166.1H615.3M612.1,166.6H615.3M612.1,167.1H615.3M612.1,167.6H615.3M612.06,168.1H615.33M611.87,168.6H615.3M612.06,169.1H615.81M611.66,169.6H615.73M611.33,170.1H616.29M611.49,170.6H616.02M611.17,171.1H616.35M610.59,171.6H617.08M610.42,172.1H617.56M609.49,172.6H616.92M609.89,173.1H618.24M609.2,173.6H617.99M609.03,174.1H617.73M609.42,174.6H619.31M608.58,175.1H619.43M607.61,175.6H619.94M608.51,176.1H620.16M607.7,176.6H619.31M607.96,177.1H620.22M605.94,177.6H619.91M607.54,178.1H621.24M606.02,178.6H621.18M606.71,179.1H621.01M604.7,179.6H621.76M606.31,180.1H623.54M602.77,180.6H621.62M603.86,181.1H624.12M604.36,181.6H623.07M600.99,182.1H625.54M601.61,182.6H626.12M602.62,183.1H626.84M601,183.6H626.53M604.28,184.1H625.57M603.2,184.6H623.68M602.28,185.1H623.06M605.53,185.6H621.39M603.5,186.1H623.3M604.25,186.6H621.55M605.43,187.1H621.08M606.48,187.6H620.1M607.23,188.1H622.01M607.79,188.6H620.47M606.34,189.1H620.56M607.61,189.6H619.72M608.48,190.1H619.45M608.4,190.6H619.36M608.63,191.1H618.84M609.53,191.6H618.58M610.14,192.1H618.12M610.56,192.6H616.44M610.79,193.1H616.63M612.1,193.6H615.43M612.1,194.1H615.3" stroke="#000" stroke-width="0.95" fill="none"/>
<path d="M613.7,162.6H613.7M613.7,162.6H613.7M613.7,164.1H613.9M613.38,164.6H613.7M613.24,165.1H613.7M613.04,165.6H613.7M613.7,165.6H614.39M612.87,166.1H613.7M613.7,167.1H614.94M612.34,167.6H613.7M613.7,167.6H615.17M612.09,168.1H613.7M613.7,168.1H615.23M611.86,168.6H613.7M611.26,169.1H613.7M610.96,169.6H613.7M610.57,170.6H613.7M613.7,170.6H616.99M613.7,171.1H617.19M609.66,171.6H613.7M613.7,172.1H617.74M613.7,172.6H618.33M613.7,173.1H617.91M608.05,173.6H613.7M608.18,174.6H613.7M607.46,175.6H613.7M606.7,176.1H613.7M613.7,176.1H620.38M606.41,176.6H613.7M613.7,177.1H622.1M605.93,177.6H613.7M613.7,179.6H624.75M603.26,180.1H613.7M613.7,182.6H626.1M599,183.1H613.7M613.7,183.1H627.79M601.71,184.1H613.7M600,184.6H613.7M613.7,185.6H625.87M613.7,186.1H624.79M613.7,186.6H624.53M604.12,188.6H613.7M613.7,189.1H622.52M606.69,189.6H613.7M613.7,190.6H619.92M613.7,191.1H619.18M613.7,191.6H618.95M613.7,192.6H617.84M611.57,193.6H613.7M612.46,194.1H613.7" stroke="#000" stroke-width="0.7" fill="none"/>
<path d="M613.7,163.6V193.5" stroke="#000" stroke-width="2.24"/>
<g fill="#000"><rect x="613.6" y="162.07" width="1" height="1"/><rect x="612.24" y="161.33" width="1" height="1"/><rect x="614.37" y="160.95" width="1" height="1"/><rect x="612.84" y="195.18" width="1" height="1"/><rect x="612.37" y="195.61" width="1" height="1"/></g>
<path d="M637.3,135H640.5M637.3,135.5H640.5M637.3,136H640.5M637.3,136.5H640.5M637.02,137H640.5M636.46,137.5H640.5M636.45,138H640.5M635.47,138.5H640.7M634.9,139H640.85M634.19,139.5H641.42M634.66,140H641.65M634.36,140.5H641.48M633.52,141H642.59M632.46,141.5H643.07M632.17,142H643.04M631.83,142.5H643.45M632.47,143H643.79M630.35,143.5H642.8M629.46,144H644.54M630.19,144.5H643.09M628.66,145H644.99M627.75,145.5H645.47M629.44,146H645.33M628.24,146.5H645.93M626.52,147H646.32M629.82,147.5H645.12M627.32,148H645.99M627.71,148.5H646.65M626.71,149H647.1M627.88,149.5H647.22M628.75,150H646.14M627.94,150.5H645.45M626.83,151H645.29M627.06,151.5H644.42M629.91,152H645.61M626.96,152.5H646.02M629.91,153H645.78M630.34,153.5H644.75M631.3,154H645.54M629.01,154.5H644.3M630.42,155H644.78M631.53,155.5H643.03M631.7,156H644.06M632.08,156.5H644.28M631.66,157H642.82M631.22,157.5H642.74M632.64,158H643.21M632.42,158.5H643.12M633.72,159H642.76M633.16,159.5H641.58M633.18,160H641.4M634.45,160.5H642.14M634.52,161H640.98M635.05,161.5H640.94M635.26,162H640.58M636.3,162.5H640.64M636.27,163H640.5M636.86,163.5H640.5M637.3,164H640.5M637.3,164.5H640.5M637.3,165H640.5" stroke="#000" stroke-width="0.95" fill="none"/>
<path d="M638.9,135H638.9M638.9,135H638.9M638.28,135.5H638.9M638.9,135.5H639.26M638.9,136H639.62M636.47,137H638.9M636.27,137.5H638.9M635.38,138H638.9M638.9,138H640.92M634.97,138.5H638.9M638.9,138.5H641.39M634.54,139H638.9M638.9,139H641.81M638.9,140.5H642.48M638.9,141.5H643.01M629.9,142.5H638.9M629.28,143H638.9M629.29,143.5H638.9M638.9,143.5H644.52M629.53,144H638.9M638.9,144.5H644.78M627.52,145H638.9M625.92,147H638.9M624.23,148H638.9M623.76,149H638.9M638.9,149H647.53M623.61,150H638.9M638.9,151H648.32M624.36,151.5H638.9M627.16,152.5H638.9M638.9,153H646.87M626.54,153.5H638.9M638.9,153.5H646.08M638.9,154H645.53M638.9,154.5H645.49M629.16,155H638.9M628.61,155.5H638.9M629.44,156H638.9M629.54,156.5H638.9M629.58,157.5H638.9M638.9,157.5H643.62M630.29,158H638.9M638.9,158.5H643.69M632.38,160H638.9M632.78,160.5H638.9M638.9,160.5H642.16M638.9,161H642.23M638.9,162H641.36M636.36,163.5H638.9M638.9,163.5H640.19" stroke="#000" stroke-width="0.7" fill="none"/>
<path d="M638.9,136V164" stroke="#000" stroke-width="2.24"/>
<g fill="#000"><rect x="637.39" y="133.74" width="1" height="1"/><rect x="638.7" y="133.96" width="1" height="1"/><rect x="638.28" y="133.95" width="1" height="1"/><rect x="637.66" y="165.6" width="1" height="1"/><rect x="637.37" y="166.98" width="1" height="1"/></g>
<path d="M645.7,127.2H648.9M645.7,127.7H648.9M645.7,128.2H648.9M645.7,128.7H648.9M645.7,129.2H648.9M645.7,129.7H648.9M645.7,130.2H648.9M645.7,130.7H648.9M645.7,131.2H648.9M645.7,131.7H648.9M645.7,132.2H648.9M645.7,132.7H649.27M645.7,133.2H649.54M645.7,133.7H649.55M645.59,134.2H649.41M645.7,134.7H649.9M645.54,135.2H650.49M645.13,135.7H650.79M645.09,136.2H651.17M644.56,136.7H651.24M644.54,137.2H652.03M644.19,137.7H652.48M643.87,138.2H652.18M643.65,138.7H652.65M642.77,139.2H652.33M642.97,139.7H652.41M642.45,140.2H654.63M641.91,140.7H652.89M642.96,141.2H653.11M641.49,141.7H653.89M642.86,142.2H655.06M642.14,142.7H656.97M642.19,143.2H654.81M640.85,143.7H655.55M641.1,144.2H655.32M639.35,144.7H657.83M639.47,145.2H655.72M639.09,145.7H659.03M640.77,146.2H658.9M641.15,146.7H656.35M638.89,147.2H657.48M639.17,147.7H656.75M640.66,148.2H657.1M640.54,148.7H655.9M640.95,149.2H656.41M639.89,149.7H654.99M642,150.2H657.9M639.92,150.7H655.59M642.32,151.2H656.05M642.39,151.7H656.26M640.39,152.2H656.73M641.77,152.7H656.25M642.5,153.2H655.44M642.27,153.7H654.76M642.07,154.2H655.14M642.15,154.7H655.27M641.59,155.2H653.64M641.97,155.7H654.27M643.47,156.2H653.7M643.28,156.7H654.17M642.21,157.2H652.6M643.03,157.7H653.36M642.81,158.2H652.28M643.24,158.7H653.85M642.94,159.2H653.25M643.45,159.7H652.11M643.93,160.2H651.42M643.58,160.7H651.35M644.28,161.2H651.49M644.92,161.7H651.3M644.23,162.2H651.8M644.81,162.7H650.91M644.64,163.2H650.44M645.2,163.7H650.02M645.4,164.2H650.31M645.7,164.7H650.01M645.64,165.2H649.54M645.7,165.7H648.9M645.7,166.2H648.93M645.7,166.7H648.9M645.7,167.2H648.9M645.7,167.7H648.9M645.7,168.2H648.9" stroke="#000" stroke-width="0.95" fill="none"/>
<path d="M647.3,127.2H647.3M647.26,127.7H647.3M647.3,128.2H647.45M647.3,128.7H647.59M647.3,129.2H647.76M647.3,130.2H648.17M647.3,130.7H648.38M646.39,131.2H647.3M647.3,131.2H648.67M647.3,132.2H649.25M645.89,132.7H647.3M647.3,132.7H649.57M645.22,133.7H647.3M647.3,134.2H650.72M645.06,134.7H647.3M644.3,135.7H647.3M647.3,136.2H651.4M647.3,137.2H652.31M647.3,138.2H653.69M647.3,138.7H653.86M647.3,139.2H654.67M642.32,139.7H647.3M647.3,140.2H655.1M647.3,140.7H655.88M641.16,141.2H647.3M640.69,142.2H647.3M647.3,142.2H657.58M640.5,142.7H647.3M639.58,143.2H647.3M639.21,144.2H647.3M638.99,144.7H647.3M647.3,144.7H659.43M647.3,145.2H660.44M637.3,145.7H647.3M647.3,145.7H660.08M637.71,148.2H647.3M647.3,148.7H658.82M647.3,149.2H660.63M647.3,150.2H658.44M639.1,151.2H647.3M647.3,151.2H658.75M647.3,152.2H658.03M641.3,154.2H647.3M641.14,154.7H647.3M647.3,155.2H655.37M647.3,156.2H655.94M641.44,156.7H647.3M647.3,156.7H655.19M641.35,157.2H647.3M642.28,158.2H647.3M647.3,158.2H653.93M647.3,158.7H654M647.3,159.2H653.43M647.3,159.7H653.89M643.32,160.2H647.3M647.3,160.2H653.4M643.29,160.7H647.3M647.3,160.7H652.44M644.06,161.7H647.3M643.94,162.7H647.3M644.33,163.2H647.3M644.58,163.7H647.3M647.3,163.7H651.39M644.68,164.2H647.3M647.3,164.2H651.13M644.93,164.7H647.3M647.3,165.2H649.99M645.75,165.7H647.3M647.3,165.7H649.56M647.3,167.7H647.93M647.3,168.2H647.3" stroke="#000" stroke-width="0.7" fill="none"/>
<path d="M647.3,128.2V167.2" stroke="#000" stroke-width="2.24"/>
<g fill="#000"><rect x="647.62" y="126.49" width="1" height="1"/><rect x="645.96" y="124.74" width="1" height="1"/><rect x="645.36" y="125.53" width="1" height="1"/><rect x="646.34" y="169.29" width="1" height="1"/><rect x="645.46" y="171.15" width="1" height="1"/></g>
<path d="M641.5,136H644.7M641.5,136.5H644.7M641.5,137H644.7M641.5,137.5H644.7M640.44,138H645.13M640.66,138.5H646.04M639.55,139H646.64M638.93,139.5H647.02M639.23,140H647M636.83,140.5H647.66M637.61,141H649.16M636.34,141.5H648.28M637,142H648.28M635.48,142.5H649.91M634.75,143H651.42M633.1,143.5H649.58M632.61,144H651.34M631.49,144.5H651.42M631.76,145H653.43M630.55,145.5H653.56M632.39,146H654.19M630.52,146.5H654.63M630.81,147H654.66M629.55,147.5H656.27M628.31,148H655.61M631.59,148.5H653.05M630.27,149H657.06M629.57,149.5H656.15M628.68,150H652.5M629.47,150.5H655.53M629.98,151H653.82M632.37,151.5H654.71M632.83,152H653.72M631.99,152.5H651.66M633.87,153H651.68M633.42,153.5H652.05M633.66,154H650.66M635.7,154.5H649.34M635.57,155H649.21M636.23,155.5H650.26M634.57,156H648.87M637.1,156.5H648.36M637.18,157H649.42M637.55,157.5H647.83M638.74,158H648.01M639.1,158.5H648M639.57,159H646.79M639,159.5H646.34M640.18,160H646M640.46,160.5H645.5M641.5,161H644.83M641.5,161.5H644.7M641.5,162H644.7" stroke="#000" stroke-width="0.95" fill="none"/>
<path d="M643.1,136H643.1M641.69,137H643.1M643.1,137H644.39M640.98,137.5H643.1M643.1,137.5H644.95M639.84,138H643.1M643.1,138H645.62M637.4,139.5H643.1M643.1,140H648.02M643.1,140.5H648.82M643.1,142H651.75M633.16,142.5H643.1M643.1,142.5H650.91M632.07,143.5H643.1M643.1,143.5H652.27M643.1,144H654.73M630.67,144.5H643.1M643.1,144.5H654.19M629.72,145.5H643.1M643.1,145.5H654.76M643.1,147H657.69M624.03,147.5H643.1M625.56,148H643.1M643.1,148H659.07M643.1,148.5H658.04M626.76,149H643.1M643.1,149.5H659.01M627.15,150.5H643.1M643.1,151.5H656.96M643.1,152.5H655.64M643.1,153H655.06M643.1,153.5H654.75M632.22,154H643.1M643.1,154H652.91M633.01,154.5H643.1M643.1,154.5H652.01M632.5,155H643.1M643.1,155H652.68M633.43,155.5H643.1M643.1,155.5H651.04M633.66,156H643.1M643.1,156H650.57M634.81,156.5H643.1M643.1,156.5H651.15M636.58,158.5H643.1M638.02,159H643.1M640.08,160.5H643.1M643.1,160.5H645.68M643.1,161.5H644.12M643.1,162H643.1" stroke="#000" stroke-width="0.7" fill="none"/>
<path d="M643.1,137V161" stroke="#000" stroke-width="2.24"/>
<g fill="#000"><rect x="641.48" y="133.99" width="1" height="1"/><rect x="642.74" y="134.99" width="1" height="1"/><rect x="643.37" y="134" width="1" height="1"/><rect x="641.69" y="163.46" width="1" height="1"/><rect x="643.43" y="162.68" width="1" height="1"/></g>
<line x1="592.7" y1="201.9" x2="647.3" y2="145.7" stroke="#1515e6" stroke-width="1.6"/>
<g fill="#ff1010"><rect x="592" y="201.6" width="1.4" height="1.8"/><rect x="613" y="179.1" width="1.4" height="1.8"/><rect x="613" y="183.6" width="1.4" height="1.8"/><rect x="638.2" y="149.1" width="1.4" height="1.8"/><rect x="638.2" y="151.6" width="1.4" height="1.8"/><rect x="646.6" y="144.1" width="1.4" height="1.8"/><rect x="646.6" y="154.1" width="1.4" height="1.8"/></g>
<text x="-0.3" y="265.3" font-size="14" fill="#000" font-weight="bold" stroke="#000" stroke-width="0.4">b</text>
<line x1="67" y1="270.9" x2="67" y2="351" stroke="#666" stroke-width="0.8"/>
<line x1="63.8" y1="350.9" x2="67" y2="350.9" stroke="#666" stroke-width="0.7"/>
<text x="60.3" y="353.5" font-size="7.4" fill="#333" text-anchor="end">0</text>
<line x1="63.8" y1="329.56" x2="67" y2="329.56" stroke="#666" stroke-width="0.7"/>
<text x="60.3" y="332.17" font-size="7.4" fill="#333" text-anchor="end">50</text>
<line x1="63.8" y1="308.23" x2="67" y2="308.23" stroke="#666" stroke-width="0.7"/>
<text x="60.3" y="310.83" font-size="7.4" fill="#333" text-anchor="end">100</text>
<line x1="63.8" y1="286.89" x2="67" y2="286.89" stroke="#666" stroke-width="0.7"/>
<text x="60.3" y="289.5" font-size="7.4" fill="#333" text-anchor="end">150</text>
<text transform="translate(29.6,309.4) rotate(-90)" text-anchor="middle" font-size="9" fill="#333">Aging clock</text>
<text transform="translate(39.5,309.4) rotate(-90)" text-anchor="middle" font-size="9" fill="#333">gene no.</text>
<rect x="67" y="363.35" width="538.5" height="9.9" fill="#efefef"/>
<rect x="67" y="383.15" width="538.5" height="9.9" fill="#efefef"/>
<rect x="67" y="402.95" width="538.5" height="9.9" fill="#efefef"/>
<text x="65.3" y="361.5" font-size="8.8" fill="#222" text-anchor="end">Neuron</text>
<text x="65.3" y="371.4" font-size="8.8" fill="#222" text-anchor="end">Phaynx</text>
<text x="65.3" y="381.3" font-size="8.8" fill="#222" text-anchor="end">Muscle</text>
<text x="65.3" y="391.2" font-size="8.8" fill="#222" text-anchor="end">Vulva &amp; uterus</text>
<text x="65.3" y="401.1" font-size="8.8" fill="#222" text-anchor="end">Intestine</text>
<text x="65.3" y="411" font-size="8.8" fill="#222" text-anchor="end">Hypodermis</text>
<rect x="69.2" y="354.2" width="8.8" height="58.6" fill="#ff7f7f" opacity="0.95"/>
<rect x="80.2" y="354.2" width="31.8" height="58.6" fill="#7bb0e8" opacity="0.95"/>
<rect x="114.1" y="354" width="90.6" height="58.2" fill="#fff67a" opacity="0.93"/>
<line x1="72.9" y1="358.4" x2="72.9" y2="407.9" stroke="#880000" stroke-width="1.3"/>
<circle cx="72.9" cy="358.4" r="2.9" fill="#880000"/>
<circle cx="72.9" cy="368.3" r="2.9" fill="#880000"/>
<circle cx="72.9" cy="378.2" r="2.9" fill="#880000"/>
<circle cx="72.9" cy="388.1" r="2.9" fill="#880000"/>
<circle cx="72.9" cy="398" r="2.9" fill="#880000"/>
<circle cx="72.9" cy="407.9" r="2.9" fill="#880000"/>
<rect x="69.6" y="349.7" width="6.6" height="1.3" fill="#000"/>
<text transform="translate(73.2,345.7) rotate(-60)" text-anchor="middle" dy="2.3" font-size="6.8" fill="#222">2</text>
<circle cx="84.35" cy="398" r="2.9" fill="#6a9fdc"/>
<line x1="84.35" y1="358.4" x2="84.35" y2="407.9" stroke="#003068" stroke-width="1.3"/>
<circle cx="84.35" cy="358.4" r="2.9" fill="#003068"/>
<circle cx="84.35" cy="368.3" r="2.9" fill="#003068"/>
<circle cx="84.35" cy="378.2" r="2.9" fill="#003068"/>
<circle cx="84.35" cy="388.1" r="2.9" fill="#003068"/>
<circle cx="84.35" cy="407.9" r="2.9" fill="#003068"/>
<rect x="81.05" y="348.84" width="6.6" height="2.16" fill="#000"/>
<text transform="translate(84.65,344.84) rotate(-60)" text-anchor="middle" dy="2.3" font-size="6.8" fill="#222">5</text>
<circle cx="95.8" cy="378.2" r="2.9" fill="#6a9fdc"/>
<line x1="95.8" y1="358.4" x2="95.8" y2="407.9" stroke="#003068" stroke-width="1.3"/>
<circle cx="95.8" cy="358.4" r="2.9" fill="#003068"/>
<circle cx="95.8" cy="368.3" r="2.9" fill="#003068"/>
<circle cx="95.8" cy="388.1" r="2.9" fill="#003068"/>
<circle cx="95.8" cy="398" r="2.9" fill="#003068"/>
<circle cx="95.8" cy="407.9" r="2.9" fill="#003068"/>
<rect x="92.5" y="349.7" width="6.6" height="1.3" fill="#000"/>
<text transform="translate(96.1,345.7) rotate(-60)" text-anchor="middle" dy="2.3" font-size="6.8" fill="#222">1</text>
<circle cx="107.25" cy="358.4" r="2.9" fill="#6a9fdc"/>
<line x1="107.25" y1="368.3" x2="107.25" y2="407.9" stroke="#003068" stroke-width="1.3"/>
<circle cx="107.25" cy="368.3" r="2.9" fill="#003068"/>
<circle cx="107.25" cy="378.2" r="2.9" fill="#003068"/>
<circle cx="107.25" cy="388.1" r="2.9" fill="#003068"/>
<circle cx="107.25" cy="398" r="2.9" fill="#003068"/>
<circle cx="107.25" cy="407.9" r="2.9" fill="#003068"/>
<rect x="103.95" y="349.7" width="6.6" height="1.3" fill="#000"/>
<text transform="translate(107.55,345.7) rotate(-60)" text-anchor="middle" dy="2.3" font-size="6.8" fill="#222">1</text>
<circle cx="118.7" cy="398" r="2.9" fill="#ebe268"/>
<circle cx="118.7" cy="407.9" r="2.9" fill="#ebe268"/>
<line x1="118.7" y1="358.4" x2="118.7" y2="388.1" stroke="#7d7400" stroke-width="1.3"/>
<circle cx="118.7" cy="358.4" r="2.9" fill="#7d7400"/>
<circle cx="118.7" cy="368.3" r="2.9" fill="#7d7400"/>
<circle cx="118.7" cy="378.2" r="2.9" fill="#7d7400"/>
<circle cx="118.7" cy="388.1" r="2.9" fill="#7d7400"/>
<rect x="115.4" y="349.7" width="6.6" height="1.3" fill="#000"/>
<text transform="translate(119,345.7) rotate(-60)" text-anchor="middle" dy="2.3" font-size="6.8" fill="#222">2</text>
<circle cx="130.15" cy="388.1" r="2.9" fill="#ebe268"/>
<circle cx="130.15" cy="407.9" r="2.9" fill="#ebe268"/>
<line x1="130.15" y1="358.4" x2="130.15" y2="398" stroke="#7d7400" stroke-width="1.3"/>
<circle cx="130.15" cy="358.4" r="2.9" fill="#7d7400"/>
<circle cx="130.15" cy="368.3" r="2.9" fill="#7d7400"/>
<circle cx="130.15" cy="378.2" r="2.9" fill="#7d7400"/>
<circle cx="130.15" cy="398" r="2.9" fill="#7d7400"/>
<rect x="126.85" y="349.7" width="6.6" height="1.3" fill="#000"/>
<text transform="translate(130.45,345.7) rotate(-60)" text-anchor="middle" dy="2.3" font-size="6.8" fill="#222">1</text>
<circle cx="141.6" cy="388.1" r="2.9" fill="#ebe268"/>
<circle cx="141.6" cy="398" r="2.9" fill="#ebe268"/>
<line x1="141.6" y1="358.4" x2="141.6" y2="407.9" stroke="#7d7400" stroke-width="1.3"/>
<circle cx="141.6" cy="358.4" r="2.9" fill="#7d7400"/>
<circle cx="141.6" cy="368.3" r="2.9" fill="#7d7400"/>
<circle cx="141.6" cy="378.2" r="2.9" fill="#7d7400"/>
<circle cx="141.6" cy="407.9" r="2.9" fill="#7d7400"/>
<rect x="138.3" y="349.7" width="6.6" height="1.3" fill="#000"/>
<text transform="translate(141.9,345.7) rotate(-60)" text-anchor="middle" dy="2.3" font-size="6.8" fill="#222">2</text>
<circle cx="153.05" cy="368.3" r="2.9" fill="#ebe268"/>
<circle cx="153.05" cy="407.9" r="2.9" fill="#ebe268"/>
<line x1="153.05" y1="358.4" x2="153.05" y2="398" stroke="#7d7400" stroke-width="1.3"/>
<circle cx="153.05" cy="358.4" r="2.9" fill="#7d7400"/>
<circle cx="153.05" cy="378.2" r="2.9" fill="#7d7400"/>
<circle cx="153.05" cy="388.1" r="2.9" fill="#7d7400"/>
<circle cx="153.05" cy="398" r="2.9" fill="#7d7400"/>
<rect x="149.75" y="349.7" width="6.6" height="1.3" fill="#000"/>
<text transform="translate(153.35,345.7) rotate(-60)" text-anchor="middle" dy="2.3" font-size="6.8" fill="#222">2</text>
<circle cx="164.5" cy="368.3" r="2.9" fill="#ebe268"/>
<circle cx="164.5" cy="398" r="2.9" fill="#ebe268"/>
<line x1="164.5" y1="358.4" x2="164.5" y2="407.9" stroke="#7d7400" stroke-width="1.3"/>
<circle cx="164.5" cy="358.4" r="2.9" fill="#7d7400"/>
<circle cx="164.5" cy="378.2" r="2.9" fill="#7d7400"/>
<circle cx="164.5" cy="388.1" r="2.9" fill="#7d7400"/>
<circle cx="164.5" cy="407.9" r="2.9" fill="#7d7400"/>
<rect x="161.2" y="349.7" width="6.6" height="1.3" fill="#000"/>
<text transform="translate(164.8,345.7) rotate(-60)" text-anchor="middle" dy="2.3" font-size="6.8" fill="#222">3</text>
<circle cx="175.95" cy="368.3" r="2.9" fill="#ebe268"/>
<circle cx="175.95" cy="388.1" r="2.9" fill="#ebe268"/>
<line x1="175.95" y1="358.4" x2="175.95" y2="407.9" stroke="#7d7400" stroke-width="1.3"/>
<circle cx="175.95" cy="358.4" r="2.9" fill="#7d7400"/>
<circle cx="175.95" cy="378.2" r="2.9" fill="#7d7400"/>
<circle cx="175.95" cy="398" r="2.9" fill="#7d7400"/>
<circle cx="175.95" cy="407.9" r="2.9" fill="#7d7400"/>
<rect x="172.65" y="349.7" width="6.6" height="1.3" fill="#000"/>
<text transform="translate(176.25,345.7) rotate(-60)" text-anchor="middle" dy="2.3" font-size="6.8" fill="#222">1</text>
<circle cx="187.4" cy="358.4" r="2.9" fill="#ebe268"/>
<circle cx="187.4" cy="398" r="2.9" fill="#ebe268"/>
<line x1="187.4" y1="368.3" x2="187.4" y2="407.9" stroke="#7d7400" stroke-width="1.3"/>
<circle cx="187.4" cy="368.3" r="2.9" fill="#7d7400"/>
<circle cx="187.4" cy="378.2" r="2.9" fill="#7d7400"/>
<circle cx="187.4" cy="388.1" r="2.9" fill="#7d7400"/>
<circle cx="187.4" cy="407.9" r="2.9" fill="#7d7400"/>
<rect x="184.1" y="349.7" width="6.6" height="1.3" fill="#000"/>
<text transform="translate(187.7,345.7) rotate(-60)" text-anchor="middle" dy="2.3" font-size="6.8" fill="#222">1</text>
<circle cx="198.85" cy="358.4" r="2.9" fill="#ebe268"/>
<circle cx="198.85" cy="388.1" r="2.9" fill="#ebe268"/>
<line x1="198.85" y1="368.3" x2="198.85" y2="407.9" stroke="#7d7400" stroke-width="1.3"/>
<circle cx="198.85" cy="368.3" r="2.9" fill="#7d7400"/>
<circle cx="198.85" cy="378.2" r="2.9" fill="#7d7400"/>
<circle cx="198.85" cy="398" r="2.9" fill="#7d7400"/>
<circle cx="198.85" cy="407.9" r="2.9" fill="#7d7400"/>
<rect x="195.55" y="349.7" width="6.6" height="1.3" fill="#000"/>
<text transform="translate(199.15,345.7) rotate(-60)" text-anchor="middle" dy="2.3" font-size="6.8" fill="#222">1</text>
<circle cx="210.3" cy="388.1" r="2.9" fill="#d3d3d3"/>
<circle cx="210.3" cy="398" r="2.9" fill="#d3d3d3"/>
<circle cx="210.3" cy="407.9" r="2.9" fill="#d3d3d3"/>
<line x1="210.3" y1="358.4" x2="210.3" y2="378.2" stroke="#000" stroke-width="1.3"/>
<circle cx="210.3" cy="358.4" r="2.9" fill="#000"/>
<circle cx="210.3" cy="368.3" r="2.9" fill="#000"/>
<circle cx="210.3" cy="378.2" r="2.9" fill="#000"/>
<rect x="207" y="348.41" width="6.6" height="2.59" fill="#000"/>
<text transform="translate(210.6,344.41) rotate(-60)" text-anchor="middle" dy="2.3" font-size="6.8" fill="#222">6</text>
<circle cx="221.75" cy="378.2" r="2.9" fill="#d3d3d3"/>
<circle cx="221.75" cy="398" r="2.9" fill="#d3d3d3"/>
<circle cx="221.75" cy="407.9" r="2.9" fill="#d3d3d3"/>
<line x1="221.75" y1="358.4" x2="221.75" y2="388.1" stroke="#000" stroke-width="1.3"/>
<circle cx="221.75" cy="358.4" r="2.9" fill="#000"/>
<circle cx="221.75" cy="368.3" r="2.9" fill="#000"/>
<circle cx="221.75" cy="388.1" r="2.9" fill="#000"/>
<rect x="218.45" y="349.7" width="6.6" height="1.3" fill="#000"/>
<text transform="translate(222.05,345.7) rotate(-60)" text-anchor="middle" dy="2.3" font-size="6.8" fill="#222">2</text>
<circle cx="233.2" cy="378.2" r="2.9" fill="#d3d3d3"/>
<circle cx="233.2" cy="388.1" r="2.9" fill="#d3d3d3"/>
<circle cx="233.2" cy="407.9" r="2.9" fill="#d3d3d3"/>
<line x1="233.2" y1="358.4" x2="233.2" y2="398" stroke="#000" stroke-width="1.3"/>
<circle cx="233.2" cy="358.4" r="2.9" fill="#000"/>
<circle cx="233.2" cy="368.3" r="2.9" fill="#000"/>
<circle cx="233.2" cy="398" r="2.9" fill="#000"/>
<rect x="229.9" y="349.7" width="6.6" height="1.3" fill="#000"/>
<text transform="translate(233.5,345.7) rotate(-60)" text-anchor="middle" dy="2.3" font-size="6.8" fill="#222">2</text>
<circle cx="244.65" cy="378.2" r="2.9" fill="#d3d3d3"/>
<circle cx="244.65" cy="388.1" r="2.9" fill="#d3d3d3"/>
<circle cx="244.65" cy="398" r="2.9" fill="#d3d3d3"/>
<line x1="244.65" y1="358.4" x2="244.65" y2="407.9" stroke="#000" stroke-width="1.3"/>
<circle cx="244.65" cy="358.4" r="2.9" fill="#000"/>
<circle cx="244.65" cy="368.3" r="2.9" fill="#000"/>
<circle cx="244.65" cy="407.9" r="2.9" fill="#000"/>
<rect x="241.35" y="349.7" width="6.6" height="1.3" fill="#000"/>
<text transform="translate(244.95,345.7) rotate(-60)" text-anchor="middle" dy="2.3" font-size="6.8" fill="#222">1</text>
<circle cx="256.1" cy="368.3" r="2.9" fill="#d3d3d3"/>
<circle cx="256.1" cy="398" r="2.9" fill="#d3d3d3"/>
<circle cx="256.1" cy="407.9" r="2.9" fill="#d3d3d3"/>
<line x1="256.1" y1="358.4" x2="256.1" y2="388.1" stroke="#000" stroke-width="1.3"/>
<circle cx="256.1" cy="358.4" r="2.9" fill="#000"/>
<circle cx="256.1" cy="378.2" r="2.9" fill="#000"/>
<circle cx="256.1" cy="388.1" r="2.9" fill="#000"/>
<rect x="252.8" y="349.7" width="6.6" height="1.3" fill="#000"/>
<text transform="translate(256.4,345.7) rotate(-60)" text-anchor="middle" dy="2.3" font-size="6.8" fill="#222">2</text>
<circle cx="267.55" cy="368.3" r="2.9" fill="#d3d3d3"/>
<circle cx="267.55" cy="378.2" r="2.9" fill="#d3d3d3"/>
<circle cx="267.55" cy="407.9" r="2.9" fill="#d3d3d3"/>
<line x1="267.55" y1="358.4" x2="267.55" y2="398" stroke="#000" stroke-width="1.3"/>
<circle cx="267.55" cy="358.4" r="2.9" fill="#000"/>
<circle cx="267.55" cy="388.1" r="2.9" fill="#000"/>
<circle cx="267.55" cy="398" r="2.9" fill="#000"/>
<rect x="264.25" y="349.7" width="6.6" height="1.3" fill="#000"/>
<text transform="translate(267.85,345.7) rotate(-60)" text-anchor="middle" dy="2.3" font-size="6.8" fill="#222">2</text>
<circle cx="279" cy="368.3" r="2.9" fill="#d3d3d3"/>
<circle cx="279" cy="378.2" r="2.9" fill="#d3d3d3"/>
<circle cx="279" cy="398" r="2.9" fill="#d3d3d3"/>
<line x1="279" y1="358.4" x2="279" y2="407.9" stroke="#000" stroke-width="1.3"/>
<circle cx="279" cy="358.4" r="2.9" fill="#000"/>
<circle cx="279" cy="388.1" r="2.9" fill="#000"/>
<circle cx="279" cy="407.9" r="2.9" fill="#000"/>
<rect x="275.7" y="349.7" width="6.6" height="1.3" fill="#000"/>
<text transform="translate(279.3,345.7) rotate(-60)" text-anchor="middle" dy="2.3" font-size="6.8" fill="#222">2</text>
<circle cx="290.45" cy="358.4" r="2.9" fill="#d3d3d3"/>
<circle cx="290.45" cy="388.1" r="2.9" fill="#d3d3d3"/>
<circle cx="290.45" cy="398" r="2.9" fill="#d3d3d3"/>
<line x1="290.45" y1="368.3" x2="290.45" y2="407.9" stroke="#000" stroke-width="1.3"/>
<circle cx="290.45" cy="368.3" r="2.9" fill="#000"/>
<circle cx="290.45" cy="378.2" r="2.9" fill="#000"/>
<circle cx="290.45" cy="407.9" r="2.9" fill="#000"/>
<rect x="287.15" y="349.7" width="6.6" height="1.3" fill="#000"/>
<text transform="translate(290.75,345.7) rotate(-60)" text-anchor="middle" dy="2.3" font-size="6.8" fill="#222">1</text>
<circle cx="301.9" cy="358.4" r="2.9" fill="#d3d3d3"/>
<circle cx="301.9" cy="378.2" r="2.9" fill="#d3d3d3"/>
<circle cx="301.9" cy="407.9" r="2.9" fill="#d3d3d3"/>
<line x1="301.9" y1="368.3" x2="301.9" y2="398" stroke="#000" stroke-width="1.3"/>
<circle cx="301.9" cy="368.3" r="2.9" fill="#000"/>
<circle cx="301.9" cy="388.1" r="2.9" fill="#000"/>
<circle cx="301.9" cy="398" r="2.9" fill="#000"/>
<rect x="298.6" y="349.7" width="6.6" height="1.3" fill="#000"/>
<text transform="translate(302.2,345.7) rotate(-60)" text-anchor="middle" dy="2.3" font-size="6.8" fill="#222">1</text>
<circle cx="313.35" cy="358.4" r="2.9" fill="#d3d3d3"/>
<circle cx="313.35" cy="378.2" r="2.9" fill="#d3d3d3"/>
<circle cx="313.35" cy="398" r="2.9" fill="#d3d3d3"/>
<line x1="313.35" y1="368.3" x2="313.35" y2="407.9" stroke="#000" stroke-width="1.3"/>
<circle cx="313.35" cy="368.3" r="2.9" fill="#000"/>
<circle cx="313.35" cy="388.1" r="2.9" fill="#000"/>
<circle cx="313.35" cy="407.9" r="2.9" fill="#000"/>
<rect x="310.05" y="349.7" width="6.6" height="1.3" fill="#000"/>
<text transform="translate(313.65,345.7) rotate(-60)" text-anchor="middle" dy="2.3" font-size="6.8" fill="#222">2</text>
<circle cx="324.8" cy="358.4" r="2.9" fill="#d3d3d3"/>
<circle cx="324.8" cy="368.3" r="2.9" fill="#d3d3d3"/>
<circle cx="324.8" cy="407.9" r="2.9" fill="#d3d3d3"/>
<line x1="324.8" y1="378.2" x2="324.8" y2="398" stroke="#000" stroke-width="1.3"/>
<circle cx="324.8" cy="378.2" r="2.9" fill="#000"/>
<circle cx="324.8" cy="388.1" r="2.9" fill="#000"/>
<circle cx="324.8" cy="398" r="2.9" fill="#000"/>
<rect x="321.5" y="349.7" width="6.6" height="1.3" fill="#000"/>
<text transform="translate(325.1,345.7) rotate(-60)" text-anchor="middle" dy="2.3" font-size="6.8" fill="#222">1</text>
<circle cx="336.25" cy="358.4" r="2.9" fill="#d3d3d3"/>
<circle cx="336.25" cy="368.3" r="2.9" fill="#d3d3d3"/>
<circle cx="336.25" cy="398" r="2.9" fill="#d3d3d3"/>
<line x1="336.25" y1="378.2" x2="336.25" y2="407.9" stroke="#000" stroke-width="1.3"/>
<circle cx="336.25" cy="378.2" r="2.9" fill="#000"/>
<circle cx="336.25" cy="388.1" r="2.9" fill="#000"/>
<circle cx="336.25" cy="407.9" r="2.9" fill="#000"/>
<rect x="332.95" y="349.7" width="6.6" height="1.3" fill="#000"/>
<text transform="translate(336.55,345.7) rotate(-60)" text-anchor="middle" dy="2.3" font-size="6.8" fill="#222">1</text>
<circle cx="347.7" cy="358.4" r="2.9" fill="#d3d3d3"/>
<circle cx="347.7" cy="368.3" r="2.9" fill="#d3d3d3"/>
<circle cx="347.7" cy="388.1" r="2.9" fill="#d3d3d3"/>
<line x1="347.7" y1="378.2" x2="347.7" y2="407.9" stroke="#000" stroke-width="1.3"/>
<circle cx="347.7" cy="378.2" r="2.9" fill="#000"/>
<circle cx="347.7" cy="398" r="2.9" fill="#000"/>
<circle cx="347.7" cy="407.9" r="2.9" fill="#000"/>
<rect x="344.4" y="349.7" width="6.6" height="1.3" fill="#000"/>
<text transform="translate(348,345.7) rotate(-60)" text-anchor="middle" dy="2.3" font-size="6.8" fill="#222">3</text>
<circle cx="359.15" cy="358.4" r="2.9" fill="#d3d3d3"/>
<circle cx="359.15" cy="368.3" r="2.9" fill="#d3d3d3"/>
<circle cx="359.15" cy="378.2" r="2.9" fill="#d3d3d3"/>
<line x1="359.15" y1="388.1" x2="359.15" y2="407.9" stroke="#000" stroke-width="1.3"/>
<circle cx="359.15" cy="388.1" r="2.9" fill="#000"/>
<circle cx="359.15" cy="398" r="2.9" fill="#000"/>
<circle cx="359.15" cy="407.9" r="2.9" fill="#000"/>
<rect x="355.85" y="349.7" width="6.6" height="1.3" fill="#000"/>
<text transform="translate(359.45,345.7) rotate(-60)" text-anchor="middle" dy="2.3" font-size="6.8" fill="#222">1</text>
<circle cx="370.6" cy="378.2" r="2.9" fill="#d3d3d3"/>
<circle cx="370.6" cy="388.1" r="2.9" fill="#d3d3d3"/>
<circle cx="370.6" cy="398" r="2.9" fill="#d3d3d3"/>
<circle cx="370.6" cy="407.9" r="2.9" fill="#d3d3d3"/>
<line x1="370.6" y1="358.4" x2="370.6" y2="368.3" stroke="#000" stroke-width="1.3"/>
<circle cx="370.6" cy="358.4" r="2.9" fill="#000"/>
<circle cx="370.6" cy="368.3" r="2.9" fill="#000"/>
<rect x="367.3" y="345.39" width="6.6" height="5.61" fill="#000"/>
<text transform="translate(370.9,341.39) rotate(-60)" text-anchor="middle" dy="2.3" font-size="6.8" fill="#222">13</text>
<circle cx="382.05" cy="368.3" r="2.9" fill="#d3d3d3"/>
<circle cx="382.05" cy="388.1" r="2.9" fill="#d3d3d3"/>
<circle cx="382.05" cy="398" r="2.9" fill="#d3d3d3"/>
<circle cx="382.05" cy="407.9" r="2.9" fill="#d3d3d3"/>
<line x1="382.05" y1="358.4" x2="382.05" y2="378.2" stroke="#000" stroke-width="1.3"/>
<circle cx="382.05" cy="358.4" r="2.9" fill="#000"/>
<circle cx="382.05" cy="378.2" r="2.9" fill="#000"/>
<rect x="378.75" y="345.39" width="6.6" height="5.61" fill="#000"/>
<text transform="translate(382.35,341.39) rotate(-60)" text-anchor="middle" dy="2.3" font-size="6.8" fill="#222">13</text>
<circle cx="393.5" cy="368.3" r="2.9" fill="#d3d3d3"/>
<circle cx="393.5" cy="378.2" r="2.9" fill="#d3d3d3"/>
<circle cx="393.5" cy="398" r="2.9" fill="#d3d3d3"/>
<circle cx="393.5" cy="407.9" r="2.9" fill="#d3d3d3"/>
<line x1="393.5" y1="358.4" x2="393.5" y2="388.1" stroke="#000" stroke-width="1.3"/>
<circle cx="393.5" cy="358.4" r="2.9" fill="#000"/>
<circle cx="393.5" cy="388.1" r="2.9" fill="#000"/>
<rect x="390.2" y="349.28" width="6.6" height="1.72" fill="#000"/>
<text transform="translate(393.8,345.28) rotate(-60)" text-anchor="middle" dy="2.3" font-size="6.8" fill="#222">4</text>
<circle cx="404.95" cy="368.3" r="2.9" fill="#d3d3d3"/>
<circle cx="404.95" cy="378.2" r="2.9" fill="#d3d3d3"/>
<circle cx="404.95" cy="388.1" r="2.9" fill="#d3d3d3"/>
<circle cx="404.95" cy="407.9" r="2.9" fill="#d3d3d3"/>
<line x1="404.95" y1="358.4" x2="404.95" y2="398" stroke="#000" stroke-width="1.3"/>
<circle cx="404.95" cy="358.4" r="2.9" fill="#000"/>
<circle cx="404.95" cy="398" r="2.9" fill="#000"/>
<rect x="401.65" y="349.7" width="6.6" height="1.3" fill="#000"/>
<text transform="translate(405.25,345.7) rotate(-60)" text-anchor="middle" dy="2.3" font-size="6.8" fill="#222">2</text>
<circle cx="416.4" cy="368.3" r="2.9" fill="#d3d3d3"/>
<circle cx="416.4" cy="378.2" r="2.9" fill="#d3d3d3"/>
<circle cx="416.4" cy="388.1" r="2.9" fill="#d3d3d3"/>
<circle cx="416.4" cy="398" r="2.9" fill="#d3d3d3"/>
<line x1="416.4" y1="358.4" x2="416.4" y2="407.9" stroke="#000" stroke-width="1.3"/>
<circle cx="416.4" cy="358.4" r="2.9" fill="#000"/>
<circle cx="416.4" cy="407.9" r="2.9" fill="#000"/>
<rect x="413.1" y="349.7" width="6.6" height="1.3" fill="#000"/>
<text transform="translate(416.7,345.7) rotate(-60)" text-anchor="middle" dy="2.3" font-size="6.8" fill="#222">2</text>
<circle cx="427.85" cy="358.4" r="2.9" fill="#d3d3d3"/>
<circle cx="427.85" cy="388.1" r="2.9" fill="#d3d3d3"/>
<circle cx="427.85" cy="398" r="2.9" fill="#d3d3d3"/>
<circle cx="427.85" cy="407.9" r="2.9" fill="#d3d3d3"/>
<line x1="427.85" y1="368.3" x2="427.85" y2="378.2" stroke="#000" stroke-width="1.3"/>
<circle cx="427.85" cy="368.3" r="2.9" fill="#000"/>
<circle cx="427.85" cy="378.2" r="2.9" fill="#000"/>
<rect x="424.55" y="345.83" width="6.6" height="5.17" fill="#000"/>
<text transform="translate(428.15,341.83) rotate(-60)" text-anchor="middle" dy="2.3" font-size="6.8" fill="#222">12</text>
<circle cx="439.3" cy="358.4" r="2.9" fill="#d3d3d3"/>
<circle cx="439.3" cy="378.2" r="2.9" fill="#d3d3d3"/>
<circle cx="439.3" cy="398" r="2.9" fill="#d3d3d3"/>
<circle cx="439.3" cy="407.9" r="2.9" fill="#d3d3d3"/>
<line x1="439.3" y1="368.3" x2="439.3" y2="388.1" stroke="#000" stroke-width="1.3"/>
<circle cx="439.3" cy="368.3" r="2.9" fill="#000"/>
<circle cx="439.3" cy="388.1" r="2.9" fill="#000"/>
<rect x="436" y="346.69" width="6.6" height="4.31" fill="#000"/>
<text transform="translate(439.6,342.69) rotate(-60)" text-anchor="middle" dy="2.3" font-size="6.8" fill="#222">10</text>
<circle cx="450.75" cy="358.4" r="2.9" fill="#d3d3d3"/>
<circle cx="450.75" cy="378.2" r="2.9" fill="#d3d3d3"/>
<circle cx="450.75" cy="388.1" r="2.9" fill="#d3d3d3"/>
<circle cx="450.75" cy="407.9" r="2.9" fill="#d3d3d3"/>
<line x1="450.75" y1="368.3" x2="450.75" y2="398" stroke="#000" stroke-width="1.3"/>
<circle cx="450.75" cy="368.3" r="2.9" fill="#000"/>
<circle cx="450.75" cy="398" r="2.9" fill="#000"/>
<rect x="447.45" y="348.41" width="6.6" height="2.59" fill="#000"/>
<text transform="translate(451.05,344.41) rotate(-60)" text-anchor="middle" dy="2.3" font-size="6.8" fill="#222">6</text>
<circle cx="462.2" cy="358.4" r="2.9" fill="#d3d3d3"/>
<circle cx="462.2" cy="378.2" r="2.9" fill="#d3d3d3"/>
<circle cx="462.2" cy="388.1" r="2.9" fill="#d3d3d3"/>
<circle cx="462.2" cy="398" r="2.9" fill="#d3d3d3"/>
<line x1="462.2" y1="368.3" x2="462.2" y2="407.9" stroke="#000" stroke-width="1.3"/>
<circle cx="462.2" cy="368.3" r="2.9" fill="#000"/>
<circle cx="462.2" cy="407.9" r="2.9" fill="#000"/>
<rect x="458.9" y="349.7" width="6.6" height="1.3" fill="#000"/>
<text transform="translate(462.5,345.7) rotate(-60)" text-anchor="middle" dy="2.3" font-size="6.8" fill="#222">2</text>
<circle cx="473.65" cy="358.4" r="2.9" fill="#d3d3d3"/>
<circle cx="473.65" cy="368.3" r="2.9" fill="#d3d3d3"/>
<circle cx="473.65" cy="398" r="2.9" fill="#d3d3d3"/>
<circle cx="473.65" cy="407.9" r="2.9" fill="#d3d3d3"/>
<line x1="473.65" y1="378.2" x2="473.65" y2="388.1" stroke="#000" stroke-width="1.3"/>
<circle cx="473.65" cy="378.2" r="2.9" fill="#000"/>
<circle cx="473.65" cy="388.1" r="2.9" fill="#000"/>
<rect x="470.35" y="348.41" width="6.6" height="2.59" fill="#000"/>
<text transform="translate(473.95,344.41) rotate(-60)" text-anchor="middle" dy="2.3" font-size="6.8" fill="#222">6</text>
<circle cx="485.1" cy="358.4" r="2.9" fill="#d3d3d3"/>
<circle cx="485.1" cy="368.3" r="2.9" fill="#d3d3d3"/>
<circle cx="485.1" cy="388.1" r="2.9" fill="#d3d3d3"/>
<circle cx="485.1" cy="407.9" r="2.9" fill="#d3d3d3"/>
<line x1="485.1" y1="378.2" x2="485.1" y2="398" stroke="#000" stroke-width="1.3"/>
<circle cx="485.1" cy="378.2" r="2.9" fill="#000"/>
<circle cx="485.1" cy="398" r="2.9" fill="#000"/>
<rect x="481.8" y="349.28" width="6.6" height="1.72" fill="#000"/>
<text transform="translate(485.4,345.28) rotate(-60)" text-anchor="middle" dy="2.3" font-size="6.8" fill="#222">4</text>
<circle cx="496.55" cy="358.4" r="2.9" fill="#d3d3d3"/>
<circle cx="496.55" cy="368.3" r="2.9" fill="#d3d3d3"/>
<circle cx="496.55" cy="388.1" r="2.9" fill="#d3d3d3"/>
<circle cx="496.55" cy="398" r="2.9" fill="#d3d3d3"/>
<line x1="496.55" y1="378.2" x2="496.55" y2="407.9" stroke="#000" stroke-width="1.3"/>
<circle cx="496.55" cy="378.2" r="2.9" fill="#000"/>
<circle cx="496.55" cy="407.9" r="2.9" fill="#000"/>
<rect x="493.25" y="349.7" width="6.6" height="1.3" fill="#000"/>
<text transform="translate(496.85,345.7) rotate(-60)" text-anchor="middle" dy="2.3" font-size="6.8" fill="#222">1</text>
<circle cx="508" cy="358.4" r="2.9" fill="#d3d3d3"/>
<circle cx="508" cy="368.3" r="2.9" fill="#d3d3d3"/>
<circle cx="508" cy="378.2" r="2.9" fill="#d3d3d3"/>
<circle cx="508" cy="407.9" r="2.9" fill="#d3d3d3"/>
<line x1="508" y1="388.1" x2="508" y2="398" stroke="#000" stroke-width="1.3"/>
<circle cx="508" cy="388.1" r="2.9" fill="#000"/>
<circle cx="508" cy="398" r="2.9" fill="#000"/>
<rect x="504.7" y="347.98" width="6.6" height="3.02" fill="#000"/>
<text transform="translate(508.3,343.98) rotate(-60)" text-anchor="middle" dy="2.3" font-size="6.8" fill="#222">7</text>
<circle cx="519.45" cy="358.4" r="2.9" fill="#d3d3d3"/>
<circle cx="519.45" cy="368.3" r="2.9" fill="#d3d3d3"/>
<circle cx="519.45" cy="378.2" r="2.9" fill="#d3d3d3"/>
<circle cx="519.45" cy="398" r="2.9" fill="#d3d3d3"/>
<line x1="519.45" y1="388.1" x2="519.45" y2="407.9" stroke="#000" stroke-width="1.3"/>
<circle cx="519.45" cy="388.1" r="2.9" fill="#000"/>
<circle cx="519.45" cy="407.9" r="2.9" fill="#000"/>
<rect x="516.15" y="349.7" width="6.6" height="1.3" fill="#000"/>
<text transform="translate(519.75,345.7) rotate(-60)" text-anchor="middle" dy="2.3" font-size="6.8" fill="#222">3</text>
<circle cx="530.9" cy="358.4" r="2.9" fill="#d3d3d3"/>
<circle cx="530.9" cy="368.3" r="2.9" fill="#d3d3d3"/>
<circle cx="530.9" cy="378.2" r="2.9" fill="#d3d3d3"/>
<circle cx="530.9" cy="388.1" r="2.9" fill="#d3d3d3"/>
<line x1="530.9" y1="398" x2="530.9" y2="407.9" stroke="#000" stroke-width="1.3"/>
<circle cx="530.9" cy="398" r="2.9" fill="#000"/>
<circle cx="530.9" cy="407.9" r="2.9" fill="#000"/>
<rect x="527.6" y="349.28" width="6.6" height="1.72" fill="#000"/>
<text transform="translate(531.2,345.28) rotate(-60)" text-anchor="middle" dy="2.3" font-size="6.8" fill="#222">4</text>
<circle cx="542.35" cy="368.3" r="2.9" fill="#d3d3d3"/>
<circle cx="542.35" cy="378.2" r="2.9" fill="#d3d3d3"/>
<circle cx="542.35" cy="388.1" r="2.9" fill="#d3d3d3"/>
<circle cx="542.35" cy="398" r="2.9" fill="#d3d3d3"/>
<circle cx="542.35" cy="407.9" r="2.9" fill="#d3d3d3"/>
<circle cx="542.35" cy="358.4" r="2.9" fill="#000"/>
<rect x="538.5" y="273.38" width="7.7" height="77.62" fill="#000"/>
<text transform="translate(540.85,272.78) rotate(-45)" font-size="7.1" fill="#333">180</text>
<circle cx="553.8" cy="358.4" r="2.9" fill="#d3d3d3"/>
<circle cx="553.8" cy="378.2" r="2.9" fill="#d3d3d3"/>
<circle cx="553.8" cy="388.1" r="2.9" fill="#d3d3d3"/>
<circle cx="553.8" cy="398" r="2.9" fill="#d3d3d3"/>
<circle cx="553.8" cy="407.9" r="2.9" fill="#d3d3d3"/>
<circle cx="553.8" cy="368.3" r="2.9" fill="#000"/>
<rect x="549.95" y="286.32" width="7.7" height="64.68" fill="#000"/>
<text transform="translate(552.3,285.72) rotate(-45)" font-size="7.1" fill="#333">150</text>
<circle cx="565.25" cy="358.4" r="2.9" fill="#d3d3d3"/>
<circle cx="565.25" cy="368.3" r="2.9" fill="#d3d3d3"/>
<circle cx="565.25" cy="388.1" r="2.9" fill="#d3d3d3"/>
<circle cx="565.25" cy="398" r="2.9" fill="#d3d3d3"/>
<circle cx="565.25" cy="407.9" r="2.9" fill="#d3d3d3"/>
<circle cx="565.25" cy="378.2" r="2.9" fill="#000"/>
<rect x="561.4" y="294.51" width="7.7" height="56.49" fill="#000"/>
<text transform="translate(563.75,293.91) rotate(-45)" font-size="7.1" fill="#333">131</text>
<circle cx="576.7" cy="358.4" r="2.9" fill="#d3d3d3"/>
<circle cx="576.7" cy="368.3" r="2.9" fill="#d3d3d3"/>
<circle cx="576.7" cy="378.2" r="2.9" fill="#d3d3d3"/>
<circle cx="576.7" cy="398" r="2.9" fill="#d3d3d3"/>
<circle cx="576.7" cy="407.9" r="2.9" fill="#d3d3d3"/>
<circle cx="576.7" cy="388.1" r="2.9" fill="#000"/>
<rect x="572.85" y="299.69" width="7.7" height="51.31" fill="#000"/>
<text transform="translate(575.2,299.09) rotate(-45)" font-size="7.1" fill="#333">119</text>
<circle cx="588.15" cy="358.4" r="2.9" fill="#d3d3d3"/>
<circle cx="588.15" cy="368.3" r="2.9" fill="#d3d3d3"/>
<circle cx="588.15" cy="378.2" r="2.9" fill="#d3d3d3"/>
<circle cx="588.15" cy="388.1" r="2.9" fill="#d3d3d3"/>
<circle cx="588.15" cy="407.9" r="2.9" fill="#d3d3d3"/>
<circle cx="588.15" cy="398" r="2.9" fill="#000"/>
<rect x="584.3" y="315.64" width="7.7" height="35.36" fill="#000"/>
<text transform="translate(586.65,315.04) rotate(-45)" font-size="7.1" fill="#333">82</text>
<circle cx="599.6" cy="358.4" r="2.9" fill="#d3d3d3"/>
<circle cx="599.6" cy="368.3" r="2.9" fill="#d3d3d3"/>
<circle cx="599.6" cy="378.2" r="2.9" fill="#d3d3d3"/>
<circle cx="599.6" cy="388.1" r="2.9" fill="#d3d3d3"/>
<circle cx="599.6" cy="398" r="2.9" fill="#d3d3d3"/>
<circle cx="599.6" cy="407.9" r="2.9" fill="#000"/>
<rect x="595.75" y="325.99" width="7.7" height="25.01" fill="#000"/>
<text transform="translate(598.1,325.39) rotate(-45)" font-size="7.1" fill="#333">58</text>
<rect x="94.1" y="278.4" width="54.7" height="56.4" fill="#ff7f7d" stroke="#8a8a8a" stroke-width="0.9"/>
<rect x="174.7" y="278.4" width="108.1" height="56.4" fill="#80b3e7" stroke="#8a8a8a" stroke-width="0.9"/>
<rect x="309.5" y="278.5" width="215.5" height="57" fill="#fff57b" stroke="#8a8a8a" stroke-width="0.9"/>
<text x="100.1" y="305.6" font-size="8.5" fill="#111" font-style="italic">MTCE.7</text>
<text x="100.1" y="317.3" font-size="8.5" fill="#111" font-style="italic">C05D9.12</text>
<text x="181.4" y="292.5" font-size="8.5" fill="#111" font-style="italic">vit-6</text>
<text x="181.4" y="305.3" font-size="8.5" fill="#111" font-style="italic">vit-5</text>
<text x="181.4" y="317.2" font-size="8.5" fill="#111" font-style="italic">vit-2</text>
<text x="181.4" y="329.2" font-size="8.5" fill="#111" font-style="italic">F23A7.4</text>
<text x="231.8" y="298.6" font-size="8.5" fill="#111" font-style="italic">F23A7.8</text>
<text x="231.8" y="311.1" font-size="8.5" fill="#111" font-style="italic">ahcy-1</text>
<text x="231.8" y="323.4" font-size="8.5" fill="#111" font-style="italic">F31C3.14</text>
<text x="313.7" y="292.2" font-size="8.5" fill="#111" font-style="italic">MTCE.33</text>
<text x="313.7" y="305.4" font-size="8.5" fill="#111" font-style="italic">rps-22</text>
<text x="313.7" y="317.6" font-size="8.5" fill="#111" font-style="italic">eef-1A.2</text>
<text x="313.7" y="329.3" font-size="8.5" fill="#111" font-style="italic">C30E1.9</text>
<text x="369" y="298.6" font-size="8.5" fill="#111" font-style="italic">rbm-3.2</text>
<text x="369" y="311.1" font-size="8.5" fill="#111" font-style="italic">R06C1.4</text>
<text x="369" y="323.3" font-size="8.5" fill="#111" font-style="italic">ddo-2</text>
<text x="420.7" y="298.6" font-size="8.5" fill="#111" font-style="italic">rop-1</text>
<text x="420.7" y="311.1" font-size="8.5" fill="#111" font-style="italic">ril-1</text>
<text x="420.7" y="323.3" font-size="8.5" fill="#111" font-style="italic">F58F12.1</text>
<text x="476.9" y="298.6" font-size="8.5" fill="#111" font-style="italic">T23G7.3</text>
<text x="476.9" y="311.1" font-size="8.5" fill="#111" font-style="italic">atp-2</text>
<text x="476.9" y="323.3" font-size="8.5" fill="#111" font-style="italic">F43C9.2</text>
<rect x="608" y="355" width="51.7" height="6.8" fill="#000"/>
<rect x="608" y="364.9" width="46.2" height="6.8" fill="#000"/>
<rect x="608" y="374.8" width="42" height="6.8" fill="#000"/>
<rect x="608" y="384.7" width="37.2" height="6.8" fill="#000"/>
<rect x="608" y="394.6" width="25.9" height="6.8" fill="#000"/>
<rect x="608" y="404.5" width="20.4" height="6.8" fill="#000"/>
<line x1="608" y1="413.2" x2="661.8" y2="413.2" stroke="#888" stroke-width="0.8"/>
<line x1="608.4" y1="413.2" x2="608.4" y2="415.6" stroke="#888" stroke-width="0.7"/>
<text x="608.4" y="425.4" font-size="7.4" fill="#333" text-anchor="middle">0</text>
<line x1="628.6" y1="413.2" x2="628.6" y2="415.6" stroke="#888" stroke-width="0.7"/>
<text x="628.6" y="425.4" font-size="7.4" fill="#333" text-anchor="middle">100</text>
<line x1="649.2" y1="413.2" x2="649.2" y2="415.6" stroke="#888" stroke-width="0.7"/>
<text x="649.2" y="425.4" font-size="7.4" fill="#333" text-anchor="middle">200</text>
<text x="597.4" y="438.9" font-size="9" fill="#222" textLength="84" lengthAdjust="spacingAndGlyphs">Aging clock gene no.</text>
<text x="0.4" y="458.5" font-size="14" fill="#000" font-weight="bold" stroke="#000" stroke-width="0.4">c</text>
<line x1="51.2" y1="457.5" x2="51.2" y2="576.6" stroke="#777" stroke-width="0.9"/>
<line x1="51.2" y1="576.6" x2="229.7" y2="576.6" stroke="#777" stroke-width="0.9"/>
<line x1="47.8" y1="576.6" x2="51.2" y2="576.6" stroke="#777" stroke-width="0.8"/>
<text x="44.4" y="579.2" font-size="7.4" fill="#333" text-anchor="end">0</text>
<line x1="47.8" y1="556.75" x2="51.2" y2="556.75" stroke="#777" stroke-width="0.8"/>
<text x="44.4" y="559.35" font-size="7.4" fill="#333" text-anchor="end">20</text>
<line x1="47.8" y1="536.9" x2="51.2" y2="536.9" stroke="#777" stroke-width="0.8"/>
<text x="44.4" y="539.5" font-size="7.4" fill="#333" text-anchor="end">40</text>
<line x1="47.8" y1="517.05" x2="51.2" y2="517.05" stroke="#777" stroke-width="0.8"/>
<text x="44.4" y="519.65" font-size="7.4" fill="#333" text-anchor="end">60</text>
<line x1="47.8" y1="497.2" x2="51.2" y2="497.2" stroke="#777" stroke-width="0.8"/>
<text x="44.4" y="499.8" font-size="7.4" fill="#333" text-anchor="end">80</text>
<line x1="47.8" y1="477.35" x2="51.2" y2="477.35" stroke="#777" stroke-width="0.8"/>
<text x="44.4" y="479.95" font-size="7.4" fill="#333" text-anchor="end">100</text>
<line x1="47.8" y1="457.5" x2="51.2" y2="457.5" stroke="#777" stroke-width="0.8"/>
<text x="44.4" y="460.1" font-size="7.4" fill="#333" text-anchor="end">120</text>
<line x1="51.2" y1="576.6" x2="51.2" y2="579.6" stroke="#777" stroke-width="0.8"/>
<text x="51.2" y="589.3" font-size="7.4" fill="#333" text-anchor="middle">0</text>
<line x1="95.83" y1="576.6" x2="95.83" y2="579.6" stroke="#777" stroke-width="0.8"/>
<text x="95.83" y="589.3" font-size="7.4" fill="#333" text-anchor="middle">15</text>
<line x1="140.45" y1="576.6" x2="140.45" y2="579.6" stroke="#777" stroke-width="0.8"/>
<text x="140.45" y="589.3" font-size="7.4" fill="#333" text-anchor="middle">30</text>
<line x1="185.07" y1="576.6" x2="185.07" y2="579.6" stroke="#777" stroke-width="0.8"/>
<text x="185.07" y="589.3" font-size="7.4" fill="#333" text-anchor="middle">45</text>
<line x1="229.7" y1="576.6" x2="229.7" y2="579.6" stroke="#777" stroke-width="0.8"/>
<text x="229.7" y="589.3" font-size="7.4" fill="#333" text-anchor="middle">60</text>
<text transform="translate(25.8,517.2) rotate(-90)" text-anchor="middle" font-size="8.5" fill="#222" textLength="45.6" lengthAdjust="spacingAndGlyphs">Survival (%)</text>
<text x="126" y="602.8" font-size="8.5" fill="#222" textLength="28.2" lengthAdjust="spacingAndGlyphs">Age (d)</text>
<line x1="54.5" y1="477.5" x2="54.5" y2="576.6" stroke="#222" stroke-width="0.9" stroke-dasharray="2.6,1.9"/>
<line x1="69.7" y1="477.5" x2="69.7" y2="576.6" stroke="#222" stroke-width="0.9" stroke-dasharray="2.6,1.9"/>
<line x1="87.5" y1="491.7" x2="87.5" y2="576.6" stroke="#222" stroke-width="0.9" stroke-dasharray="2.6,1.9"/>
<text x="52" y="473" font-size="7.4" fill="#222" textLength="7.4" lengthAdjust="spacingAndGlyphs">D1</text>
<text x="63.6" y="473" font-size="7.4" fill="#222" textLength="9" lengthAdjust="spacingAndGlyphs">D6</text>
<text x="87.5" y="488" font-size="7.4" fill="#222" textLength="11.6" lengthAdjust="spacingAndGlyphs">D12</text>
<polyline points="51.2,477.5 67.1,477.5 74.9,480 78.8,481.4 81.7,484.9 84.6,485.9 86.5,491.7 89.4,493.6 94.3,496.9 99.1,501.9 105.9,505.2 110.7,506.6 117.5,510.5 125.3,512 130,514.9 135.8,520.7 143.6,525.9 148.4,530.4 155.2,534.2 159,540 165.8,546.8 171.6,552.6 177.4,558.4 183.3,562.7 190,567.2 196.8,571 203.6,573.5 209.4,575.9 215.2,576.8" fill="none" stroke="#d4a312" stroke-width="1.7" stroke-linejoin="round"/>
<polyline points="51.2,477.5 67.1,477.5 74.9,480.6 80.7,493.6 86.5,514 93.3,542 99.1,556.6 104.9,560.5 111.7,568.2 117.5,574 123.3,576.1 135,576.8" fill="none" stroke="#000" stroke-width="1.7" stroke-linejoin="round"/>
<line x1="165.4" y1="467.6" x2="173.9" y2="467.6" stroke="#000" stroke-width="1.6"/>
<line x1="165.4" y1="477.1" x2="173.9" y2="477.1" stroke="#d4a312" stroke-width="1.6"/>
<text x="178.6" y="470.7" font-size="8.6" fill="#2a2a2a" font-style="italic" textLength="11.4" lengthAdjust="spacingAndGlyphs">WT</text>
<text x="178.6" y="480.2" font-size="8.6" fill="#2a2a2a" font-style="italic" textLength="30.6" lengthAdjust="spacingAndGlyphs">daf-2(lf)</text>
<text x="244.8" y="458.5" font-size="14" fill="#000" font-weight="bold" stroke="#000" stroke-width="0.4">d</text>
<line x1="278.1" y1="457.5" x2="278.1" y2="576.6" stroke="#777" stroke-width="0.9"/>
<line x1="278.1" y1="576.6" x2="455.7" y2="576.6" stroke="#777" stroke-width="0.9"/>
<line x1="274.7" y1="576.6" x2="278.1" y2="576.6" stroke="#777" stroke-width="0.8"/>
<text x="271.3" y="579.2" font-size="7.4" fill="#333" text-anchor="end">0</text>
<line x1="274.7" y1="556.75" x2="278.1" y2="556.75" stroke="#777" stroke-width="0.8"/>
<text x="271.3" y="559.35" font-size="7.4" fill="#333" text-anchor="end">20</text>
<line x1="274.7" y1="536.9" x2="278.1" y2="536.9" stroke="#777" stroke-width="0.8"/>
<text x="271.3" y="539.5" font-size="7.4" fill="#333" text-anchor="end">40</text>
<line x1="274.7" y1="517.05" x2="278.1" y2="517.05" stroke="#777" stroke-width="0.8"/>
<text x="271.3" y="519.65" font-size="7.4" fill="#333" text-anchor="end">60</text>
<line x1="274.7" y1="497.2" x2="278.1" y2="497.2" stroke="#777" stroke-width="0.8"/>
<text x="271.3" y="499.8" font-size="7.4" fill="#333" text-anchor="end">80</text>
<line x1="274.7" y1="477.35" x2="278.1" y2="477.35" stroke="#777" stroke-width="0.8"/>
<text x="271.3" y="479.95" font-size="7.4" fill="#333" text-anchor="end">100</text>
<line x1="274.7" y1="457.5" x2="278.1" y2="457.5" stroke="#777" stroke-width="0.8"/>
<text x="271.3" y="460.1" font-size="7.4" fill="#333" text-anchor="end">120</text>
<line x1="278.1" y1="576.6" x2="278.1" y2="579.6" stroke="#777" stroke-width="0.8"/>
<text x="278.1" y="589.3" font-size="7.4" fill="#333" text-anchor="middle">0</text>
<line x1="322.5" y1="576.6" x2="322.5" y2="579.6" stroke="#777" stroke-width="0.8"/>
<text x="322.5" y="589.3" font-size="7.4" fill="#333" text-anchor="middle">10</text>
<line x1="366.9" y1="576.6" x2="366.9" y2="579.6" stroke="#777" stroke-width="0.8"/>
<text x="366.9" y="589.3" font-size="7.4" fill="#333" text-anchor="middle">20</text>
<line x1="411.3" y1="576.6" x2="411.3" y2="579.6" stroke="#777" stroke-width="0.8"/>
<text x="411.3" y="589.3" font-size="7.4" fill="#333" text-anchor="middle">30</text>
<line x1="455.7" y1="576.6" x2="455.7" y2="579.6" stroke="#777" stroke-width="0.8"/>
<text x="455.7" y="589.3" font-size="7.4" fill="#333" text-anchor="middle">40</text>
<text transform="translate(253.8,517.2) rotate(-90)" text-anchor="middle" font-size="8.5" fill="#222" textLength="45.6" lengthAdjust="spacingAndGlyphs">Survival (%)</text>
<text x="352.6" y="602.8" font-size="8.5" fill="#222" textLength="30.2" lengthAdjust="spacingAndGlyphs">Age (d)</text>
<line x1="283" y1="477.5" x2="283" y2="576.6" stroke="#222" stroke-width="0.9" stroke-dasharray="2.6,1.9"/>
<line x1="305.5" y1="477.5" x2="305.5" y2="576.6" stroke="#222" stroke-width="0.9" stroke-dasharray="2.6,1.9"/>
<line x1="332" y1="501.4" x2="332" y2="576.6" stroke="#222" stroke-width="0.9" stroke-dasharray="2.6,1.9"/>
<text x="280.4" y="473.6" font-size="7.4" fill="#222" textLength="7.4" lengthAdjust="spacingAndGlyphs">D1</text>
<text x="299.5" y="473.6" font-size="7.4" fill="#222" textLength="9" lengthAdjust="spacingAndGlyphs">D6</text>
<text x="331.4" y="491.4" font-size="7.4" fill="#222" textLength="11.6" lengthAdjust="spacingAndGlyphs">D12</text>
<polyline points="278.1,477.5 304.9,477.5 314.6,479.1 322.3,482.9 327.2,491.7 332,496.5 340.7,505.2 349.5,514 358.2,529.1 367.8,536.2 376.5,541.1 385.2,552.7 393.9,559.5 402.6,565.9 411.4,568.2 420.1,573.1 428.8,576 447.2,576 456.3,576.6" fill="none" stroke="#a3157c" stroke-width="1.7" stroke-linejoin="round"/>
<polyline points="278.1,477.5 304.9,477.5 313.6,480 322.3,490.7 328.1,500.4 335.9,510.1 341.7,517.8 349.5,529.5 358.2,542.1 363,552.7 367.8,561.4 376.5,575 385.2,576.6" fill="none" stroke="#000" stroke-width="1.7" stroke-linejoin="round"/>
<line x1="394.5" y1="467" x2="403" y2="467" stroke="#000" stroke-width="1.6"/>
<line x1="394.5" y1="476.8" x2="403" y2="476.8" stroke="#a3157c" stroke-width="1.6"/>
<text x="407.7" y="470.1" font-size="8.6" fill="#2a2a2a" font-style="italic" textLength="11.4" lengthAdjust="spacingAndGlyphs">WT</text>
<text x="407.7" y="479.9" font-size="8.6" fill="#2a2a2a" font-style="italic" textLength="32.4" lengthAdjust="spacingAndGlyphs">rsks-1(lf)</text>
<text x="468.4" y="458.5" font-size="14" fill="#000" font-weight="bold" stroke="#000" stroke-width="0.4">e</text>
<line x1="501.4" y1="457.5" x2="501.4" y2="576.6" stroke="#777" stroke-width="0.9"/>
<line x1="501.4" y1="576.6" x2="679.8" y2="576.6" stroke="#777" stroke-width="0.9"/>
<line x1="498" y1="576.6" x2="501.4" y2="576.6" stroke="#777" stroke-width="0.8"/>
<text x="494.6" y="579.2" font-size="7.4" fill="#333" text-anchor="end">0</text>
<line x1="498" y1="556.75" x2="501.4" y2="556.75" stroke="#777" stroke-width="0.8"/>
<text x="494.6" y="559.35" font-size="7.4" fill="#333" text-anchor="end">20</text>
<line x1="498" y1="536.9" x2="501.4" y2="536.9" stroke="#777" stroke-width="0.8"/>
<text x="494.6" y="539.5" font-size="7.4" fill="#333" text-anchor="end">40</text>
<line x1="498" y1="517.05" x2="501.4" y2="517.05" stroke="#777" stroke-width="0.8"/>
<text x="494.6" y="519.65" font-size="7.4" fill="#333" text-anchor="end">60</text>
<line x1="498" y1="497.2" x2="501.4" y2="497.2" stroke="#777" stroke-width="0.8"/>
<text x="494.6" y="499.8" font-size="7.4" fill="#333" text-anchor="end">80</text>
<line x1="498" y1="477.35" x2="501.4" y2="477.35" stroke="#777" stroke-width="0.8"/>
<text x="494.6" y="479.95" font-size="7.4" fill="#333" text-anchor="end">100</text>
<line x1="498" y1="457.5" x2="501.4" y2="457.5" stroke="#777" stroke-width="0.8"/>
<text x="494.6" y="460.1" font-size="7.4" fill="#333" text-anchor="end">120</text>
<line x1="501.4" y1="576.6" x2="501.4" y2="579.6" stroke="#777" stroke-width="0.8"/>
<text x="501.4" y="589.3" font-size="7.4" fill="#333" text-anchor="middle">0</text>
<line x1="546" y1="576.6" x2="546" y2="579.6" stroke="#777" stroke-width="0.8"/>
<text x="546" y="589.3" font-size="7.4" fill="#333" text-anchor="middle">10</text>
<line x1="590.6" y1="576.6" x2="590.6" y2="579.6" stroke="#777" stroke-width="0.8"/>
<text x="590.6" y="589.3" font-size="7.4" fill="#333" text-anchor="middle">20</text>
<line x1="635.2" y1="576.6" x2="635.2" y2="579.6" stroke="#777" stroke-width="0.8"/>
<text x="635.2" y="589.3" font-size="7.4" fill="#333" text-anchor="middle">30</text>
<line x1="679.8" y1="576.6" x2="679.8" y2="579.6" stroke="#777" stroke-width="0.8"/>
<text x="679.8" y="589.3" font-size="7.4" fill="#333" text-anchor="middle">40</text>
<text transform="translate(477,517.2) rotate(-90)" text-anchor="middle" font-size="8.5" fill="#222" textLength="45.6" lengthAdjust="spacingAndGlyphs">Survival (%)</text>
<text x="577.6" y="602.8" font-size="8.5" fill="#222" textLength="27.6" lengthAdjust="spacingAndGlyphs">Age (d)</text>
<line x1="506.2" y1="477.5" x2="506.2" y2="576.6" stroke="#222" stroke-width="0.9" stroke-dasharray="2.6,1.9"/>
<line x1="528.5" y1="477.5" x2="528.5" y2="576.6" stroke="#222" stroke-width="0.9" stroke-dasharray="2.6,1.9"/>
<line x1="554.7" y1="482" x2="554.7" y2="576.6" stroke="#222" stroke-width="0.9" stroke-dasharray="2.6,1.9"/>
<text x="503.7" y="473.6" font-size="7.4" fill="#222" textLength="7.4" lengthAdjust="spacingAndGlyphs">D1</text>
<text x="522" y="473.6" font-size="7.4" fill="#222" textLength="9" lengthAdjust="spacingAndGlyphs">D6</text>
<text x="550.7" y="478" font-size="7.4" fill="#222" textLength="11.6" lengthAdjust="spacingAndGlyphs">D12</text>
<polyline points="501.4,477.5 542.5,477.5 547.3,480 554.1,482 563.8,484.9 572.5,489.7 583.2,496.1 590.9,501.9 595,506 600.5,512 609.2,524.6 617.9,538.2 626.7,549.8 635.4,558.5 645.1,566.3 655.7,573.1 666.4,576 680.5,576.6" fill="none" stroke="#1f78d4" stroke-width="1.7" stroke-linejoin="round"/>
<polyline points="501.4,477.5 514.4,477.5 527.9,478.7 537.6,481 546.4,490.7 555.1,510 563.8,530.4 572.5,542.1 583.2,553.1 592.8,561.4 600.5,567.6 609.2,572.1 618.9,574.6 629.6,576.2 645.1,576.6" fill="none" stroke="#000" stroke-width="1.7" stroke-linejoin="round"/>
<line x1="617" y1="466.1" x2="625.5" y2="466.1" stroke="#000" stroke-width="1.6"/>
<line x1="617" y1="475.6" x2="625.5" y2="475.6" stroke="#1f78d4" stroke-width="1.6"/>
<text x="630.2" y="469.2" font-size="8.6" fill="#2a2a2a" font-style="italic" textLength="11.4" lengthAdjust="spacingAndGlyphs">WT</text>
<text x="630.2" y="478.7" font-size="8.6" fill="#2a2a2a" font-style="italic" textLength="31" lengthAdjust="spacingAndGlyphs">lipl-4 Tg</text>
<text x="0" y="632.2" font-size="14" fill="#000" font-weight="bold" stroke="#000" stroke-width="0.4">f</text>
<rect x="73" y="622.4" width="299.9" height="124.1" fill="#fff" stroke="#777" stroke-width="0.9"/>
<text x="167.1" y="636.2" font-size="10" fill="#222" textLength="105.9" lengthAdjust="spacingAndGlyphs">Chronological age day 6</text>
<rect x="73" y="640.6" width="99.1" height="18.4" fill="#0068d3" stroke="#555" stroke-width="0.7"/>
<text x="122.55" y="653.6" font-size="10" fill="#1a1a1a" text-anchor="middle" font-style="italic" textLength="36.8" lengthAdjust="spacingAndGlyphs">lipl-4 Tg</text>
<line x1="73" y1="659" x2="73" y2="746.5" stroke="#999" stroke-width="1"/>
<line x1="72.6" y1="746.5" x2="72.6" y2="749.2" stroke="#777" stroke-width="0.7"/>
<text x="72.6" y="759.3" font-size="7.6" fill="#333" text-anchor="middle">0</text>
<line x1="98.85" y1="746.5" x2="98.85" y2="749.2" stroke="#777" stroke-width="0.7"/>
<text x="98.85" y="759.3" font-size="7.6" fill="#333" text-anchor="middle">5</text>
<line x1="125.1" y1="746.5" x2="125.1" y2="749.2" stroke="#777" stroke-width="0.7"/>
<text x="125.1" y="759.3" font-size="7.6" fill="#333" text-anchor="middle">10</text>
<line x1="151.35" y1="746.5" x2="151.35" y2="749.2" stroke="#777" stroke-width="0.7"/>
<text x="151.35" y="759.3" font-size="7.6" fill="#333" text-anchor="middle">15</text>
<line x1="98.85" y1="659.5" x2="98.85" y2="746" stroke="#ff1a1a" stroke-width="1.1" stroke-dasharray="2.4,1.6"/>
<rect x="172.1" y="640.6" width="100.5" height="18.4" fill="#d69400" stroke="#555" stroke-width="0.7"/>
<text x="222.35" y="653.6" font-size="10" fill="#1a1a1a" text-anchor="middle" font-style="italic" textLength="33" lengthAdjust="spacingAndGlyphs">daf-2(lf)</text>
<line x1="172.1" y1="659" x2="172.1" y2="746.5" stroke="#999" stroke-width="1"/>
<line x1="172.2" y1="746.5" x2="172.2" y2="749.2" stroke="#777" stroke-width="0.7"/>
<text x="172.2" y="759.3" font-size="7.6" fill="#333" text-anchor="middle">0</text>
<line x1="198.45" y1="746.5" x2="198.45" y2="749.2" stroke="#777" stroke-width="0.7"/>
<text x="198.45" y="759.3" font-size="7.6" fill="#333" text-anchor="middle">5</text>
<line x1="224.7" y1="746.5" x2="224.7" y2="749.2" stroke="#777" stroke-width="0.7"/>
<text x="224.7" y="759.3" font-size="7.6" fill="#333" text-anchor="middle">10</text>
<line x1="250.95" y1="746.5" x2="250.95" y2="749.2" stroke="#777" stroke-width="0.7"/>
<text x="250.95" y="759.3" font-size="7.6" fill="#333" text-anchor="middle">15</text>
<line x1="198.45" y1="659.5" x2="198.45" y2="746" stroke="#ff1a1a" stroke-width="1.1" stroke-dasharray="2.4,1.6"/>
<rect x="272.6" y="640.6" width="100.3" height="18.4" fill="#a80066" stroke="#555" stroke-width="0.7"/>
<text x="322.75" y="653.6" font-size="10" fill="#1a1a1a" text-anchor="middle" font-style="italic" textLength="35.3" lengthAdjust="spacingAndGlyphs">rsks-1(lf)</text>
<line x1="272.6" y1="659" x2="272.6" y2="746.5" stroke="#999" stroke-width="1"/>
<line x1="273.1" y1="746.5" x2="273.1" y2="749.2" stroke="#777" stroke-width="0.7"/>
<text x="273.1" y="759.3" font-size="7.6" fill="#333" text-anchor="middle">0</text>
<line x1="298.95" y1="746.5" x2="298.95" y2="749.2" stroke="#777" stroke-width="0.7"/>
<text x="298.95" y="759.3" font-size="7.6" fill="#333" text-anchor="middle">5</text>
<line x1="324.8" y1="746.5" x2="324.8" y2="749.2" stroke="#777" stroke-width="0.7"/>
<text x="324.8" y="759.3" font-size="7.6" fill="#333" text-anchor="middle">10</text>
<line x1="350.65" y1="746.5" x2="350.65" y2="749.2" stroke="#777" stroke-width="0.7"/>
<text x="350.65" y="759.3" font-size="7.6" fill="#333" text-anchor="middle">15</text>
<line x1="298.95" y1="659.5" x2="298.95" y2="746" stroke="#ff1a1a" stroke-width="1.1" stroke-dasharray="2.4,1.6"/>
<line x1="73" y1="746.5" x2="372.9" y2="746.5" stroke="#777" stroke-width="0.9"/>
<line x1="69.6" y1="667.6" x2="73" y2="667.6" stroke="#777" stroke-width="0.7"/>
<line x1="69.6" y1="681.8" x2="73" y2="681.8" stroke="#777" stroke-width="0.7"/>
<line x1="69.6" y1="696" x2="73" y2="696" stroke="#777" stroke-width="0.7"/>
<line x1="69.6" y1="710.1" x2="73" y2="710.1" stroke="#777" stroke-width="0.7"/>
<line x1="69.6" y1="724.1" x2="73" y2="724.1" stroke="#777" stroke-width="0.7"/>
<line x1="69.6" y1="738.3" x2="73" y2="738.3" stroke="#777" stroke-width="0.7"/>
<text x="188.6" y="772.1" font-size="9" fill="#222" textLength="67.6" lengthAdjust="spacingAndGlyphs">Predicted age (d)</text>
<rect x="380.4" y="622.4" width="302.4" height="124.1" fill="#fff" stroke="#777" stroke-width="0.9"/>
<text x="471.8" y="636.2" font-size="10" fill="#222" textLength="109" lengthAdjust="spacingAndGlyphs">Chronological age day 12</text>
<rect x="380.4" y="640.6" width="100.9" height="18.4" fill="#0068d3" stroke="#555" stroke-width="0.7"/>
<text x="430.85" y="653.6" font-size="10" fill="#1a1a1a" text-anchor="middle" font-style="italic" textLength="36.8" lengthAdjust="spacingAndGlyphs">lipl-4 Tg</text>
<line x1="380.4" y1="659" x2="380.4" y2="746.5" stroke="#999" stroke-width="1"/>
<line x1="380.2" y1="746.5" x2="380.2" y2="749.2" stroke="#777" stroke-width="0.7"/>
<text x="380.2" y="759.3" font-size="7.6" fill="#333" text-anchor="middle">0</text>
<line x1="406.45" y1="746.5" x2="406.45" y2="749.2" stroke="#777" stroke-width="0.7"/>
<text x="406.45" y="759.3" font-size="7.6" fill="#333" text-anchor="middle">5</text>
<line x1="432.7" y1="746.5" x2="432.7" y2="749.2" stroke="#777" stroke-width="0.7"/>
<text x="432.7" y="759.3" font-size="7.6" fill="#333" text-anchor="middle">10</text>
<line x1="458.95" y1="746.5" x2="458.95" y2="749.2" stroke="#777" stroke-width="0.7"/>
<text x="458.95" y="759.3" font-size="7.6" fill="#333" text-anchor="middle">15</text>
<line x1="437.95" y1="659.5" x2="437.95" y2="746" stroke="#ff1a1a" stroke-width="1.1" stroke-dasharray="2.4,1.6"/>
<rect x="481.3" y="640.6" width="101.1" height="18.4" fill="#d69400" stroke="#555" stroke-width="0.7"/>
<text x="531.85" y="653.6" font-size="10" fill="#1a1a1a" text-anchor="middle" font-style="italic" textLength="33" lengthAdjust="spacingAndGlyphs">daf-2(lf)</text>
<line x1="481.3" y1="659" x2="481.3" y2="746.5" stroke="#999" stroke-width="1"/>
<line x1="481.5" y1="746.5" x2="481.5" y2="749.2" stroke="#777" stroke-width="0.7"/>
<text x="481.5" y="759.3" font-size="7.6" fill="#333" text-anchor="middle">0</text>
<line x1="507.35" y1="746.5" x2="507.35" y2="749.2" stroke="#777" stroke-width="0.7"/>
<text x="507.35" y="759.3" font-size="7.6" fill="#333" text-anchor="middle">5</text>
<line x1="533.2" y1="746.5" x2="533.2" y2="749.2" stroke="#777" stroke-width="0.7"/>
<text x="533.2" y="759.3" font-size="7.6" fill="#333" text-anchor="middle">10</text>
<line x1="559.05" y1="746.5" x2="559.05" y2="749.2" stroke="#777" stroke-width="0.7"/>
<text x="559.05" y="759.3" font-size="7.6" fill="#333" text-anchor="middle">15</text>
<line x1="538.37" y1="659.5" x2="538.37" y2="746" stroke="#ff1a1a" stroke-width="1.1" stroke-dasharray="2.4,1.6"/>
<rect x="582.4" y="640.6" width="100.4" height="18.4" fill="#a80066" stroke="#555" stroke-width="0.7"/>
<text x="632.6" y="653.6" font-size="10" fill="#1a1a1a" text-anchor="middle" font-style="italic" textLength="35.3" lengthAdjust="spacingAndGlyphs">rsks-1(lf)</text>
<line x1="582.4" y1="659" x2="582.4" y2="746.5" stroke="#999" stroke-width="1"/>
<line x1="582.7" y1="746.5" x2="582.7" y2="749.2" stroke="#777" stroke-width="0.7"/>
<text x="582.7" y="759.3" font-size="7.6" fill="#333" text-anchor="middle">0</text>
<line x1="608.65" y1="746.5" x2="608.65" y2="749.2" stroke="#777" stroke-width="0.7"/>
<text x="608.65" y="759.3" font-size="7.6" fill="#333" text-anchor="middle">5</text>
<line x1="634.6" y1="746.5" x2="634.6" y2="749.2" stroke="#777" stroke-width="0.7"/>
<text x="634.6" y="759.3" font-size="7.6" fill="#333" text-anchor="middle">10</text>
<line x1="660.55" y1="746.5" x2="660.55" y2="749.2" stroke="#777" stroke-width="0.7"/>
<text x="660.55" y="759.3" font-size="7.6" fill="#333" text-anchor="middle">15</text>
<line x1="639.79" y1="659.5" x2="639.79" y2="746" stroke="#ff1a1a" stroke-width="1.1" stroke-dasharray="2.4,1.6"/>
<line x1="380.4" y1="746.5" x2="682.8" y2="746.5" stroke="#777" stroke-width="0.9"/>
<line x1="377" y1="667.6" x2="380.4" y2="667.6" stroke="#777" stroke-width="0.7"/>
<line x1="377" y1="681.8" x2="380.4" y2="681.8" stroke="#777" stroke-width="0.7"/>
<line x1="377" y1="696" x2="380.4" y2="696" stroke="#777" stroke-width="0.7"/>
<line x1="377" y1="710.1" x2="380.4" y2="710.1" stroke="#777" stroke-width="0.7"/>
<line x1="377" y1="724.1" x2="380.4" y2="724.1" stroke="#777" stroke-width="0.7"/>
<line x1="377" y1="738.3" x2="380.4" y2="738.3" stroke="#777" stroke-width="0.7"/>
<text x="497.4" y="772.1" font-size="9" fill="#222" textLength="68.8" lengthAdjust="spacingAndGlyphs">Predicted age (d)</text>
<text x="65.7" y="670.8" font-size="9.1" fill="#222" text-anchor="end">Neuron</text>
<text x="65.7" y="685" font-size="9.1" fill="#222" text-anchor="end">Pharynx</text>
<text x="65.7" y="699.2" font-size="9.1" fill="#222" text-anchor="end">Vulva/uterus</text>
<text x="65.7" y="713.3" font-size="9.1" fill="#222" text-anchor="end">Muscle</text>
<text x="65.7" y="727.3" font-size="9.1" fill="#222" text-anchor="end">Hypodermis</text>
<text x="65.7" y="741.5" font-size="9.1" fill="#222" text-anchor="end">Intestine</text>
<line x1="79" y1="667.6" x2="97" y2="667.6" stroke="#333" stroke-width="0.9"/>
<rect x="85" y="662.5" width="4.4" height="10.2" fill="#1c5fc4" stroke="#0b2f66" stroke-width="0.8"/>
<line x1="87.2" y1="662.5" x2="87.2" y2="672.7" stroke="#0b2f66" stroke-width="1.1"/>
<circle cx="77.1" cy="667.6" r="1.95" fill="#333"/>
<circle cx="98.7" cy="667.6" r="1.95" fill="#333"/>
<line x1="87" y1="681.8" x2="100.5" y2="681.8" stroke="#333" stroke-width="0.9"/>
<rect x="91" y="676.7" width="4" height="10.2" fill="#1c5fc4" stroke="#0b2f66" stroke-width="0.8"/>
<line x1="93" y1="676.7" x2="93" y2="686.9" stroke="#0b2f66" stroke-width="1.1"/>
<circle cx="85.5" cy="681.8" r="1.95" fill="#333"/>
<circle cx="102" cy="681.8" r="1.95" fill="#333"/>
<line x1="86.3" y1="696" x2="105.2" y2="696" stroke="#333" stroke-width="0.9"/>
<rect x="93.4" y="690.9" width="5.5" height="10.2" fill="#1c5fc4" stroke="#0b2f66" stroke-width="0.8"/>
<line x1="96" y1="690.9" x2="96" y2="701.1" stroke="#0b2f66" stroke-width="1.1"/>
<line x1="89.4" y1="710.1" x2="105.2" y2="710.1" stroke="#333" stroke-width="0.9"/>
<rect x="95" y="705" width="4.4" height="10.2" fill="#1c5fc4" stroke="#0b2f66" stroke-width="0.8"/>
<line x1="97.2" y1="705" x2="97.2" y2="715.2" stroke="#0b2f66" stroke-width="1.1"/>
<line x1="86.3" y1="724.1" x2="106.8" y2="724.1" stroke="#333" stroke-width="0.9"/>
<rect x="94.7" y="719" width="6" height="10.2" fill="#1c5fc4" stroke="#0b2f66" stroke-width="0.8"/>
<line x1="97.5" y1="719" x2="97.5" y2="729.2" stroke="#0b2f66" stroke-width="1.1"/>
<line x1="96.8" y1="738.3" x2="115.2" y2="738.3" stroke="#333" stroke-width="0.9"/>
<rect x="102" y="733.2" width="5.3" height="10.2" fill="#1c5fc4" stroke="#0b2f66" stroke-width="0.8"/>
<line x1="104.6" y1="733.2" x2="104.6" y2="743.4" stroke="#0b2f66" stroke-width="1.1"/>
<circle cx="117.3" cy="738.3" r="1.95" fill="#333"/>
<line x1="184" y1="667.6" x2="198" y2="667.6" stroke="#333" stroke-width="0.9"/>
<rect x="188.7" y="662.5" width="5.8" height="10.2" fill="#d8960e" stroke="#5a3d00" stroke-width="0.8"/>
<line x1="191.5" y1="662.5" x2="191.5" y2="672.7" stroke="#5a3d00" stroke-width="1.1"/>
<line x1="188.7" y1="681.8" x2="203.2" y2="681.8" stroke="#333" stroke-width="0.9"/>
<rect x="194.5" y="676.7" width="4.8" height="10.2" fill="#d8960e" stroke="#5a3d00" stroke-width="0.8"/>
<line x1="197" y1="676.7" x2="197" y2="686.9" stroke="#5a3d00" stroke-width="1.1"/>
<circle cx="208.7" cy="681.8" r="1.95" fill="#333"/>
<line x1="190" y1="696" x2="201.9" y2="696" stroke="#333" stroke-width="0.9"/>
<rect x="193.5" y="690.9" width="4.5" height="10.2" fill="#d8960e" stroke="#5a3d00" stroke-width="0.8"/>
<line x1="195.8" y1="690.9" x2="195.8" y2="701.1" stroke="#5a3d00" stroke-width="1.1"/>
<line x1="187.4" y1="710.1" x2="198.5" y2="710.1" stroke="#333" stroke-width="0.9"/>
<rect x="190.6" y="705" width="5.2" height="10.2" fill="#d8960e" stroke="#5a3d00" stroke-width="0.8"/>
<line x1="193.2" y1="705" x2="193.2" y2="715.2" stroke="#5a3d00" stroke-width="1.1"/>
<line x1="184.8" y1="724.1" x2="208.4" y2="724.1" stroke="#333" stroke-width="0.9"/>
<rect x="192.2" y="719" width="7.1" height="10.2" fill="#d8960e" stroke="#5a3d00" stroke-width="0.8"/>
<line x1="195.5" y1="719" x2="195.5" y2="729.2" stroke="#5a3d00" stroke-width="1.1"/>
<line x1="196.6" y1="738.3" x2="211.1" y2="738.3" stroke="#333" stroke-width="0.9"/>
<rect x="200.6" y="733.2" width="5.2" height="10.2" fill="#d8960e" stroke="#5a3d00" stroke-width="0.8"/>
<line x1="203.2" y1="733.2" x2="203.2" y2="743.4" stroke="#5a3d00" stroke-width="1.1"/>
<line x1="301.2" y1="667.6" x2="323.1" y2="667.6" stroke="#333" stroke-width="0.9"/>
<rect x="308.5" y="662.5" width="7.2" height="10.2" fill="#a0006a" stroke="#3d0028" stroke-width="0.8"/>
<line x1="312.2" y1="662.5" x2="312.2" y2="672.7" stroke="#3d0028" stroke-width="1.1"/>
<line x1="305.5" y1="681.8" x2="322.2" y2="681.8" stroke="#333" stroke-width="0.9"/>
<rect x="310.5" y="676.7" width="5.6" height="10.2" fill="#a0006a" stroke="#3d0028" stroke-width="0.8"/>
<line x1="313.3" y1="676.7" x2="313.3" y2="686.9" stroke="#3d0028" stroke-width="1.1"/>
<circle cx="302.6" cy="681.8" r="1.95" fill="#333"/>
<line x1="302" y1="696" x2="317.8" y2="696" stroke="#333" stroke-width="0.9"/>
<rect x="307" y="690.9" width="5" height="10.2" fill="#a0006a" stroke="#3d0028" stroke-width="0.8"/>
<line x1="309.5" y1="690.9" x2="309.5" y2="701.1" stroke="#3d0028" stroke-width="1.1"/>
<line x1="305.9" y1="710.1" x2="319.9" y2="710.1" stroke="#333" stroke-width="0.9"/>
<rect x="310.3" y="705" width="4.5" height="10.2" fill="#a0006a" stroke="#3d0028" stroke-width="0.8"/>
<line x1="312.5" y1="705" x2="312.5" y2="715.2" stroke="#3d0028" stroke-width="1.1"/>
<circle cx="303.8" cy="710.1" r="1.95" fill="#333"/>
<line x1="301.2" y1="724.1" x2="319" y2="724.1" stroke="#333" stroke-width="0.9"/>
<rect x="307" y="719" width="7.3" height="10.2" fill="#a0006a" stroke="#3d0028" stroke-width="0.8"/>
<line x1="310.5" y1="719" x2="310.5" y2="729.2" stroke="#3d0028" stroke-width="1.1"/>
<line x1="308.2" y1="738.3" x2="321.7" y2="738.3" stroke="#333" stroke-width="0.9"/>
<rect x="312" y="733.2" width="4.1" height="10.2" fill="#a0006a" stroke="#3d0028" stroke-width="0.8"/>
<line x1="314" y1="733.2" x2="314" y2="743.4" stroke="#3d0028" stroke-width="1.1"/>
<circle cx="305.2" cy="738.3" r="1.95" fill="#333"/>
<circle cx="306.3" cy="738.3" r="1.95" fill="#333"/>
<circle cx="324" cy="738.3" r="1.95" fill="#333"/>
<circle cx="325" cy="738.3" r="1.95" fill="#333"/>
<line x1="449.2" y1="667.6" x2="476.8" y2="667.6" stroke="#333" stroke-width="0.9"/>
<rect x="456.5" y="662.5" width="8.3" height="10.2" fill="#1c5fc4" stroke="#0b2f66" stroke-width="0.8"/>
<line x1="460.5" y1="662.5" x2="460.5" y2="672.7" stroke="#0b2f66" stroke-width="1.1"/>
<line x1="447" y1="681.8" x2="468.5" y2="681.8" stroke="#333" stroke-width="0.9"/>
<rect x="455.3" y="676.7" width="7.3" height="10.2" fill="#1c5fc4" stroke="#0b2f66" stroke-width="0.8"/>
<line x1="459" y1="676.7" x2="459" y2="686.9" stroke="#0b2f66" stroke-width="1.1"/>
<circle cx="442.4" cy="681.8" r="1.95" fill="#333"/>
<line x1="444" y1="696" x2="460.5" y2="696" stroke="#333" stroke-width="0.9"/>
<rect x="449.2" y="690.9" width="5.5" height="10.2" fill="#1c5fc4" stroke="#0b2f66" stroke-width="0.8"/>
<line x1="452" y1="690.9" x2="452" y2="701.1" stroke="#0b2f66" stroke-width="1.1"/>
<line x1="451.3" y1="710.1" x2="475.2" y2="710.1" stroke="#333" stroke-width="0.9"/>
<rect x="458.3" y="705" width="7.9" height="10.2" fill="#1c5fc4" stroke="#0b2f66" stroke-width="0.8"/>
<line x1="462" y1="705" x2="462" y2="715.2" stroke="#0b2f66" stroke-width="1.1"/>
<line x1="434.3" y1="724.1" x2="458.7" y2="724.1" stroke="#333" stroke-width="0.9"/>
<rect x="442.2" y="719" width="8.6" height="10.2" fill="#1c5fc4" stroke="#0b2f66" stroke-width="0.8"/>
<line x1="446.5" y1="719" x2="446.5" y2="729.2" stroke="#0b2f66" stroke-width="1.1"/>
<circle cx="428.6" cy="724.1" r="1.95" fill="#333"/>
<line x1="436.1" y1="738.3" x2="455.8" y2="738.3" stroke="#333" stroke-width="0.9"/>
<rect x="442.9" y="733.2" width="6.1" height="10.2" fill="#1c5fc4" stroke="#0b2f66" stroke-width="0.8"/>
<line x1="446" y1="733.2" x2="446" y2="743.4" stroke="#0b2f66" stroke-width="1.1"/>
<line x1="526.4" y1="667.6" x2="553" y2="667.6" stroke="#333" stroke-width="0.9"/>
<rect x="536.3" y="662.5" width="7.2" height="10.2" fill="#d8960e" stroke="#5a3d00" stroke-width="0.8"/>
<line x1="540" y1="662.5" x2="540" y2="672.7" stroke="#5a3d00" stroke-width="1.1"/>
<circle cx="524.9" cy="667.6" r="1.95" fill="#333"/>
<circle cx="555" cy="667.6" r="1.95" fill="#333"/>
<circle cx="556.5" cy="667.6" r="1.95" fill="#333"/>
<line x1="524.9" y1="681.8" x2="547.3" y2="681.8" stroke="#333" stroke-width="0.9"/>
<rect x="532.4" y="676.7" width="6.9" height="10.2" fill="#d8960e" stroke="#5a3d00" stroke-width="0.8"/>
<line x1="535.8" y1="676.7" x2="535.8" y2="686.9" stroke="#5a3d00" stroke-width="1.1"/>
<circle cx="550.3" cy="681.8" r="1.95" fill="#333"/>
<line x1="533.9" y1="696" x2="551.8" y2="696" stroke="#333" stroke-width="0.9"/>
<rect x="539.9" y="690.9" width="5.9" height="10.2" fill="#d8960e" stroke="#5a3d00" stroke-width="0.8"/>
<line x1="542.8" y1="690.9" x2="542.8" y2="701.1" stroke="#5a3d00" stroke-width="1.1"/>
<line x1="526.4" y1="710.1" x2="550.3" y2="710.1" stroke="#333" stroke-width="0.9"/>
<rect x="534.5" y="705" width="7.5" height="10.2" fill="#d8960e" stroke="#5a3d00" stroke-width="0.8"/>
<line x1="538.2" y1="705" x2="538.2" y2="715.2" stroke="#5a3d00" stroke-width="1.1"/>
<circle cx="556.9" cy="710.1" r="1.95" fill="#333"/>
<line x1="520.4" y1="724.1" x2="544.4" y2="724.1" stroke="#333" stroke-width="0.9"/>
<rect x="528.5" y="719" width="6.9" height="10.2" fill="#d8960e" stroke="#5a3d00" stroke-width="0.8"/>
<line x1="532" y1="719" x2="532" y2="729.2" stroke="#5a3d00" stroke-width="1.1"/>
<circle cx="517.4" cy="724.1" r="1.95" fill="#333"/>
<circle cx="547.9" cy="724.1" r="1.95" fill="#333"/>
<line x1="524.9" y1="738.3" x2="538.4" y2="738.3" stroke="#333" stroke-width="0.9"/>
<rect x="527.3" y="733.2" width="6" height="10.2" fill="#d8960e" stroke="#5a3d00" stroke-width="0.8"/>
<line x1="530.3" y1="733.2" x2="530.3" y2="743.4" stroke="#5a3d00" stroke-width="1.1"/>
<line x1="633.2" y1="667.6" x2="661.1" y2="667.6" stroke="#333" stroke-width="0.9"/>
<rect x="643.7" y="662.5" width="7.8" height="10.2" fill="#a0006a" stroke="#3d0028" stroke-width="0.8"/>
<line x1="647.6" y1="662.5" x2="647.6" y2="672.7" stroke="#3d0028" stroke-width="1.1"/>
<circle cx="665" cy="667.6" r="1.95" fill="#333"/>
<line x1="632.6" y1="681.8" x2="659.6" y2="681.8" stroke="#333" stroke-width="0.9"/>
<rect x="640.7" y="676.7" width="8.4" height="10.2" fill="#a0006a" stroke="#3d0028" stroke-width="0.8"/>
<line x1="645" y1="676.7" x2="645" y2="686.9" stroke="#3d0028" stroke-width="1.1"/>
<line x1="634.7" y1="696" x2="656.6" y2="696" stroke="#333" stroke-width="0.9"/>
<rect x="640.1" y="690.9" width="7.5" height="10.2" fill="#a0006a" stroke="#3d0028" stroke-width="0.8"/>
<line x1="643.8" y1="690.9" x2="643.8" y2="701.1" stroke="#3d0028" stroke-width="1.1"/>
<circle cx="626.7" cy="696" r="1.95" fill="#333"/>
<line x1="637.7" y1="710.1" x2="659.6" y2="710.1" stroke="#333" stroke-width="0.9"/>
<rect x="645.5" y="705" width="7.2" height="10.2" fill="#a0006a" stroke="#3d0028" stroke-width="0.8"/>
<line x1="649" y1="705" x2="649" y2="715.2" stroke="#3d0028" stroke-width="1.1"/>
<circle cx="662" cy="710.1" r="1.95" fill="#333"/>
<circle cx="667.7" cy="710.1" r="1.95" fill="#333"/>
<line x1="633.2" y1="724.1" x2="655.7" y2="724.1" stroke="#333" stroke-width="0.9"/>
<rect x="641.6" y="719" width="7.5" height="10.2" fill="#a0006a" stroke="#3d0028" stroke-width="0.8"/>
<line x1="645.3" y1="719" x2="645.3" y2="729.2" stroke="#3d0028" stroke-width="1.1"/>
<line x1="633.2" y1="738.3" x2="652" y2="738.3" stroke="#333" stroke-width="0.9"/>
<rect x="639.5" y="733.2" width="6" height="10.2" fill="#a0006a" stroke="#3d0028" stroke-width="0.8"/>
<line x1="642.5" y1="733.2" x2="642.5" y2="743.4" stroke="#3d0028" stroke-width="1.1"/>
<text x="110.4" y="669.1" font-size="5.75" fill="#333"><tspan font-style="italic">P</tspan> = 9.42 × 10<tspan font-size="4.2" dy="-2.6">−69</tspan></text>
<text x="110.4" y="683.3" font-size="5.75" fill="#333"><tspan font-style="italic">P</tspan> = 7.47 × 10<tspan font-size="4.2" dy="-2.6">−38</tspan></text>
<text x="110.4" y="697.5" font-size="5.75" fill="#333"><tspan font-style="italic">P</tspan> = 1.04 × 10<tspan font-size="4.2" dy="-2.6">−36</tspan></text>
<text x="110.4" y="711.6" font-size="5.75" fill="#333"><tspan font-style="italic">P</tspan> = 2.28 × 10<tspan font-size="4.2" dy="-2.6">−40</tspan></text>
<text x="110.4" y="725.6" font-size="5.75" fill="#333"><tspan font-style="italic">P</tspan> = 1.90 × 10<tspan font-size="4.2" dy="-2.6">−30</tspan></text>
<text x="214.2" y="669.1" font-size="5.75" fill="#333"><tspan font-style="italic">P</tspan> = 3.78 × 10<tspan font-size="4.2" dy="-2.6">−54</tspan></text>
<text x="214.2" y="683.3" font-size="5.75" fill="#333"><tspan font-style="italic">P</tspan> = 8.57 × 10<tspan font-size="4.2" dy="-2.6">−32</tspan></text>
<text x="214.2" y="697.5" font-size="5.75" fill="#333"><tspan font-style="italic">P</tspan> = 3.33 × 10<tspan font-size="4.2" dy="-2.6">−54</tspan></text>
<text x="214.2" y="711.6" font-size="5.75" fill="#333"><tspan font-style="italic">P</tspan> = 7.13 × 10<tspan font-size="4.2" dy="-2.6">−58</tspan></text>
<text x="214.2" y="725.6" font-size="5.75" fill="#333"><tspan font-style="italic">P</tspan> = 6.40 × 10<tspan font-size="4.2" dy="-2.6">−30</tspan></text>
<text x="214.2" y="739.8" font-size="5.75" fill="#333"><tspan font-style="italic">P</tspan> = 6.01 × 10<tspan font-size="4.2" dy="-2.6">−3</tspan></text>
<text x="523.6" y="669.1" font-size="5.75" fill="#333" text-anchor="end"><tspan font-style="italic">P</tspan> = 7.89 × 10<tspan font-size="4.2" dy="-2.6">−10</tspan></text>
<text x="524.2" y="683.3" font-size="5.75" fill="#333" text-anchor="end"><tspan font-style="italic">P</tspan> = 2.40 × 10<tspan font-size="4.2" dy="-2.6">−21</tspan></text>
<text x="532" y="697.5" font-size="5.75" fill="#333" text-anchor="end"><tspan font-style="italic">P</tspan> = 4.97 × 10<tspan font-size="4.2" dy="-2.6">−5</tspan></text>
<text x="525" y="711.6" font-size="5.75" fill="#333" text-anchor="end"><tspan font-style="italic">P</tspan> = 8.76 × 10<tspan font-size="4.2" dy="-2.6">−17</tspan></text>
<text x="516" y="725.6" font-size="5.75" fill="#333" text-anchor="end"><tspan font-style="italic">P</tspan> = 6.60 × 10<tspan font-size="4.2" dy="-2.6">−43</tspan></text>
<text x="523.6" y="739.8" font-size="5.75" fill="#333" text-anchor="end"><tspan font-style="italic">P</tspan> = 2.91 × 10<tspan font-size="4.2" dy="-2.6">−30</tspan></text>
<text x="588.6" y="739.8" font-size="5.75" fill="#333"><tspan font-style="italic">P</tspan> = 1.58 × 10<tspan font-size="4.2" dy="-2.6">−9</tspan></text>
</svg>
</body></html>
